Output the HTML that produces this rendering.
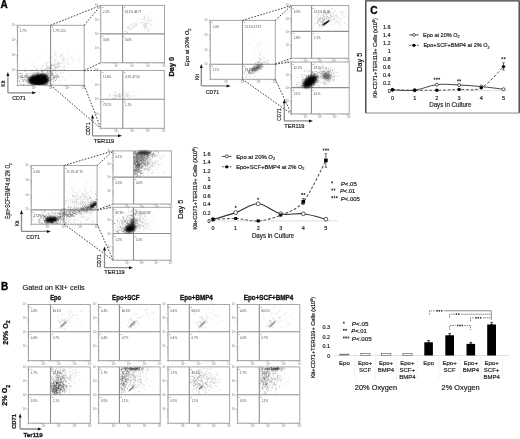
<!DOCTYPE html><html><head><meta charset="utf-8"><style>html,body{margin:0;padding:0;background:#fff;width:520px;height:439px;overflow:hidden}svg{display:block;filter:blur(0.5px)}</style></head><body><svg width="520" height="439" viewBox="0 0 520 439" font-family="'Liberation Sans', sans-serif">
<rect width="520" height="439" fill="#fff"/>
<text x="0.60" y="8.30" font-size="10" text-anchor="start" font-weight="bold" stroke-width="0.3" fill="#000" stroke="#000">A</text>
<rect x="17.6" y="25.3" width="66.60" height="60.00" fill="none" stroke="#a6a6a6" stroke-width="1"/>
<line x1="50.60" y1="25.30" x2="50.60" y2="85.30" stroke="#8e8e8e" stroke-width="1.1"/>
<line x1="17.60" y1="70.50" x2="84.20" y2="70.50" stroke="#8e8e8e" stroke-width="1.1"/>
<path d="M16.70 80.78H17.6M22.61 85.3V86.20M16.70 78.14H17.6M25.54 85.3V86.20M16.70 76.27H17.6M27.62 85.3V86.20M16.70 74.82H17.6M29.24 85.3V86.20M16.70 73.63H17.6M30.56 85.3V86.20M16.70 72.62H17.6M31.67 85.3V86.20M16.70 71.75H17.6M32.64 85.3V86.20M16.70 70.99H17.6M33.49 85.3V86.20M16.70 65.78H17.6M39.26 85.3V86.20M16.70 63.14H17.6M42.19 85.3V86.20M16.70 61.27H17.6M44.27 85.3V86.20M16.70 59.82H17.6M45.89 85.3V86.20M16.70 58.63H17.6M47.21 85.3V86.20M16.70 57.62H17.6M48.32 85.3V86.20M16.70 56.75H17.6M49.29 85.3V86.20M16.70 55.99H17.6M50.14 85.3V86.20M16.70 50.78H17.6M55.91 85.3V86.20M16.70 48.14H17.6M58.84 85.3V86.20M16.70 46.27H17.6M60.92 85.3V86.20M16.70 44.82H17.6M62.54 85.3V86.20M16.70 43.63H17.6M63.86 85.3V86.20M16.70 42.62H17.6M64.97 85.3V86.20M16.70 41.75H17.6M65.94 85.3V86.20M16.70 40.99H17.6M66.79 85.3V86.20M16.70 35.78H17.6M72.56 85.3V86.20M16.70 33.14H17.6M75.49 85.3V86.20M16.70 31.27H17.6M77.57 85.3V86.20M16.70 29.82H17.6M79.19 85.3V86.20M16.70 28.63H17.6M80.51 85.3V86.20M16.70 27.62H17.6M81.62 85.3V86.20M16.70 26.75H17.6M82.59 85.3V86.20M16.70 25.99H17.6M83.44 85.3V86.20M16.10 85.30H17.6M17.60 85.3V86.80M16.10 70.30H17.6M34.25 85.3V86.80M16.10 55.30H17.6M50.90 85.3V86.80M16.10 40.30H17.6M67.55 85.3V86.80M16.10 25.30H17.6M84.20 85.3V86.80" stroke="#999" stroke-width="0.5" fill="none"/>
<text x="15.70" y="71.20" font-size="2.7" text-anchor="end" stroke-width="0" fill="#777" stroke="#777">10<tspan font-size="1.9" dy="-1">1</tspan></text>
<text x="33.95" y="89.40" font-size="2.7" text-anchor="middle" stroke-width="0" fill="#777" stroke="#777">10<tspan font-size="1.9" dy="-1">1</tspan></text>
<text x="15.70" y="56.20" font-size="2.7" text-anchor="end" stroke-width="0" fill="#777" stroke="#777">10<tspan font-size="1.9" dy="-1">2</tspan></text>
<text x="50.60" y="89.40" font-size="2.7" text-anchor="middle" stroke-width="0" fill="#777" stroke="#777">10<tspan font-size="1.9" dy="-1">2</tspan></text>
<text x="15.70" y="41.20" font-size="2.7" text-anchor="end" stroke-width="0" fill="#777" stroke="#777">10<tspan font-size="1.9" dy="-1">3</tspan></text>
<text x="67.25" y="89.40" font-size="2.7" text-anchor="middle" stroke-width="0" fill="#777" stroke="#777">10<tspan font-size="1.9" dy="-1">3</tspan></text>
<text x="15.70" y="26.20" font-size="2.7" text-anchor="end" stroke-width="0" fill="#777" stroke="#777">10<tspan font-size="1.9" dy="-1">4</tspan></text>
<text x="83.90" y="89.40" font-size="2.7" text-anchor="middle" stroke-width="0" fill="#777" stroke="#777">10<tspan font-size="1.9" dy="-1">4</tspan></text>
<text x="18.50" y="28.30" font-size="2.4" text-anchor="start" stroke-width="0" fill="#666" stroke="#666">Q</text>
<text x="19.90" y="32.40" font-size="2.9" text-anchor="start" stroke-width="0" fill="#444" stroke="#444">1.7%</text>
<text x="51.50" y="28.30" font-size="2.4" text-anchor="start" stroke-width="0" fill="#666" stroke="#666">Q</text>
<text x="52.90" y="32.40" font-size="2.9" text-anchor="start" stroke-width="0" fill="#444" stroke="#444">1.7% 12.5</text>
<text x="18.50" y="73.50" font-size="2.4" text-anchor="start" stroke-width="0" fill="#666" stroke="#666">Q</text>
<text x="19.90" y="77.60" font-size="2.9" text-anchor="start" stroke-width="0" fill="#444" stroke="#444">81.3%</text>
<text x="51.50" y="73.50" font-size="2.4" text-anchor="start" stroke-width="0" fill="#666" stroke="#666">Q</text>
<text x="52.90" y="77.60" font-size="2.9" text-anchor="start" stroke-width="0" fill="#444" stroke="#444">1.5%</text>
<line x1="50.60" y1="25.30" x2="100.80" y2="5.40" stroke="#404040" stroke-width="1.0" stroke-dasharray="1.6 1.5"/>
<line x1="84.20" y1="25.30" x2="100.80" y2="5.40" stroke="#404040" stroke-width="1.0" stroke-dasharray="1.6 1.5"/>
<line x1="84.20" y1="70.50" x2="100.80" y2="62.70" stroke="#404040" stroke-width="1.0" stroke-dasharray="1.6 1.5"/>
<line x1="84.20" y1="70.50" x2="100.80" y2="70.40" stroke="#404040" stroke-width="1.0" stroke-dasharray="1.6 1.5"/>
<line x1="50.60" y1="85.30" x2="100.80" y2="128.30" stroke="#404040" stroke-width="1.0" stroke-dasharray="1.6 1.5"/>
<line x1="84.20" y1="85.30" x2="100.80" y2="128.30" stroke="#404040" stroke-width="1.0" stroke-dasharray="1.6 1.5"/>
<path d="M35.8 81.1h0M35.6 77.4h0M28.7 78.8h0M49.3 78.8h0M48.4 78.2h0M42.0 78.8h0M22.0 84.6h0M43.3 80.0h0M20.2 73.1h0M28.9 77.7h0M41.0 77.9h0M42.8 74.9h0M41.3 79.8h0M44.3 83.1h0M31.4 76.1h0M34.5 78.5h0M44.4 78.7h0M33.0 74.9h0M33.6 84.7h0M30.2 80.7h0M41.3 71.3h0M39.3 84.3h0M36.4 75.0h0M42.9 77.5h0M24.0 84.2h0M45.2 81.8h0M52.5 78.1h0M38.4 72.5h0M43.7 74.9h0M32.7 73.5h0M28.1 77.5h0M49.5 67.7h0M23.7 81.6h0M52.7 79.1h0M41.1 74.7h0M27.5 84.4h0M49.0 77.7h0M40.7 80.1h0M54.2 79.0h0M43.5 80.2h0M47.8 79.5h0M18.1 78.4h0M45.2 69.3h0M36.8 83.3h0M43.4 77.1h0M41.6 80.9h0M39.9 83.4h0M31.2 77.6h0M48.3 77.2h0M29.9 83.9h0M52.2 74.5h0M24.2 79.8h0M36.3 77.4h0M51.3 72.0h0M49.7 71.1h0M30.6 82.4h0M49.7 80.8h0M41.5 78.7h0M39.9 80.9h0M36.4 80.0h0M43.7 77.7h0M45.9 80.0h0M58.1 77.1h0M33.5 77.4h0M38.4 82.6h0M34.9 80.7h0M54.6 64.5h0M27.0 81.2h0M42.1 79.0h0M34.1 82.0h0M40.5 75.8h0M62.3 76.7h0M32.4 78.8h0M35.7 78.5h0M47.3 71.9h0M37.9 82.8h0M47.4 84.0h0M20.9 79.3h0M35.0 81.8h0M47.1 65.0h0M47.9 70.5h0M43.8 70.9h0M40.5 83.6h0M36.6 79.6h0M46.0 78.0h0M48.2 75.7h0M64.5 69.6h0M46.9 76.0h0M39.8 81.5h0M40.6 81.0h0M21.9 73.9h0M43.5 73.4h0M26.9 73.4h0M51.0 80.1h0M52.0 72.3h0M37.3 73.4h0M46.6 84.5h0M47.7 76.3h0M36.7 75.9h0M42.2 79.8h0M52.2 71.9h0M50.2 83.5h0M52.3 75.7h0M31.3 84.1h0M39.2 78.9h0M51.9 75.3h0M20.2 84.7h0M40.8 75.3h0M38.4 82.2h0M39.6 84.3h0M38.0 83.2h0M53.8 83.6h0M31.9 83.4h0M18.7 76.3h0M25.8 80.2h0M36.1 78.6h0M32.3 80.4h0M55.8 76.2h0M43.9 82.2h0M35.3 73.2h0M33.2 84.1h0M21.3 78.1h0M48.5 80.6h0M38.6 82.1h0M38.9 73.0h0M22.1 77.8h0M46.8 74.7h0M28.6 76.3h0M22.8 80.1h0M26.5 81.8h0M30.4 70.7h0M45.0 76.3h0M40.6 76.1h0M46.2 80.7h0M44.8 79.0h0M51.6 79.6h0M41.2 68.6h0M47.7 83.1h0M34.8 76.8h0M56.1 68.0h0M29.2 82.9h0M56.6 75.3h0M44.1 81.7h0M29.0 79.4h0M41.4 81.8h0M37.5 77.7h0M27.7 78.3h0M46.9 77.7h0M29.0 75.9h0M65.1 79.9h0M42.7 66.1h0M44.5 79.8h0M54.9 78.1h0M37.7 80.9h0M40.8 74.9h0M52.3 84.7h0M23.7 77.5h0M41.0 78.9h0M33.4 74.7h0M59.6 80.2h0M25.3 74.2h0M55.5 80.5h0M56.5 79.6h0M29.5 80.9h0M37.7 80.9h0M30.7 79.0h0M42.8 79.5h0M44.4 78.5h0M35.3 82.5h0M38.0 74.8h0M31.8 79.4h0M37.0 79.4h0M38.1 79.3h0M35.9 73.1h0M42.8 82.6h0M42.2 77.1h0M41.8 73.6h0M19.3 81.4h0M29.2 83.1h0M25.6 68.3h0M33.4 72.9h0M30.8 81.9h0M43.0 78.6h0M53.1 79.6h0M38.2 81.2h0M55.0 80.5h0M47.5 72.2h0M37.0 82.0h0M35.7 83.7h0M44.5 81.7h0M50.1 75.8h0M35.1 82.9h0M47.7 77.2h0M26.6 81.0h0M42.3 83.0h0M45.8 77.5h0M46.8 79.7h0M40.1 78.5h0M36.0 81.9h0M27.2 77.2h0M37.1 72.0h0M32.4 70.2h0M31.6 82.0h0M43.6 77.5h0M34.8 72.5h0M56.4 78.3h0M48.3 73.0h0M35.0 70.6h0M46.3 81.6h0M19.2 80.9h0M43.1 69.8h0M19.3 76.3h0M30.9 73.1h0M38.5 79.6h0M44.7 80.7h0M53.6 81.6h0M24.7 78.1h0M26.8 75.2h0M37.2 78.6h0M41.9 70.7h0M25.7 80.1h0M35.8 77.4h0M36.9 75.2h0M45.2 79.1h0M36.7 75.6h0M34.6 66.6h0M28.3 80.0h0M23.2 81.5h0M38.6 72.2h0M35.3 77.5h0M42.9 80.6h0M37.1 74.8h0M36.5 78.4h0M45.5 78.8h0M30.0 73.5h0M33.8 75.7h0M26.9 79.5h0M33.2 79.7h0M42.9 75.9h0M60.8 73.8h0M49.0 77.5h0M47.6 66.4h0M30.7 80.6h0M42.0 83.8h0M46.2 81.7h0M43.0 77.1h0M42.4 73.0h0M49.1 72.3h0M35.8 78.9h0M49.5 77.0h0M30.2 80.8h0M44.2 80.9h0M54.5 76.3h0M40.4 76.2h0M51.6 73.4h0M44.4 75.4h0M31.6 82.7h0M51.2 76.6h0M31.8 83.1h0M37.7 80.0h0M53.8 81.4h0M38.5 82.0h0M31.6 79.2h0M50.8 71.2h0M22.1 73.4h0M49.4 74.8h0M37.2 77.2h0M36.1 73.8h0M37.3 72.1h0M37.5 80.0h0M42.5 76.8h0M29.2 80.5h0M45.5 76.9h0M32.9 76.0h0M28.5 78.2h0M41.2 80.4h0M31.0 79.5h0M64.5 66.3h0M32.9 80.0h0M39.8 80.1h0M35.9 80.5h0M39.0 81.9h0M18.7 77.2h0M37.3 73.9h0M28.0 82.8h0M32.0 82.2h0M45.6 78.8h0M43.0 77.3h0M24.0 80.3h0M42.2 75.5h0M37.5 82.0h0M29.7 82.6h0M56.1 73.4h0M39.4 77.6h0M53.5 77.8h0M46.5 74.2h0M37.8 78.5h0M45.8 69.5h0M45.3 76.9h0M42.7 79.5h0M23.0 79.6h0M52.4 73.9h0M27.0 73.9h0M26.1 81.7h0M55.0 78.1h0M32.4 76.2h0M43.6 80.2h0M27.2 74.7h0M41.0 79.2h0M24.9 79.4h0M32.9 81.3h0M36.8 78.3h0M35.2 83.7h0M51.5 74.9h0M45.9 73.9h0M39.2 81.7h0M52.8 74.7h0M37.4 79.5h0M23.2 80.7h0M31.5 81.1h0M25.6 71.3h0M38.5 79.6h0M33.1 83.2h0M34.9 76.2h0M41.7 70.8h0M31.3 79.4h0M46.3 76.6h0M40.6 75.1h0M31.6 79.5h0M40.4 82.8h0M24.4 70.9h0M44.5 81.2h0M40.2 79.3h0M47.4 78.9h0M53.7 70.7h0M32.1 63.7h0M45.8 75.7h0M37.8 77.4h0M32.5 75.5h0M32.2 82.2h0M38.4 78.7h0M36.9 82.8h0M42.8 77.2h0M44.5 76.9h0M42.0 73.6h0M48.9 78.5h0M41.9 82.0h0M39.9 77.6h0M23.3 85.0h0M38.1 77.2h0M41.5 78.4h0M44.5 75.9h0M36.3 69.0h0M34.2 82.1h0M51.0 75.0h0M35.2 82.2h0M54.6 76.3h0M49.7 73.6h0M40.0 77.9h0M39.8 83.4h0M61.2 72.2h0M32.6 81.5h0M27.9 82.2h0M43.5 76.5h0M42.3 70.9h0M44.6 70.6h0M30.8 77.0h0M34.6 82.9h0M38.6 76.6h0M44.4 84.8h0M38.3 80.1h0M50.4 78.0h0M58.6 66.6h0M37.9 80.4h0M48.0 80.1h0M34.6 74.2h0M39.7 83.0h0M26.6 75.4h0M36.5 69.9h0M35.1 76.9h0M42.0 74.7h0M29.0 78.0h0M37.1 75.6h0M38.6 81.8h0M50.8 84.4h0M30.0 77.7h0M30.8 79.4h0M42.3 71.7h0M42.6 77.7h0M20.1 82.3h0M48.7 68.5h0M46.1 78.3h0M43.0 79.8h0M50.8 75.7h0M46.4 75.5h0M44.7 73.9h0M42.3 77.2h0M26.2 76.6h0M40.5 82.4h0M42.5 80.2h0" stroke="#000" stroke-opacity="0.35" stroke-width="0.8" stroke-linecap="round" fill="none"/>
<g clip-path="url(#c0)"><ellipse cx="38.6" cy="80.2" rx="10.6" ry="5.8" transform="rotate(0 38.6 80.2)" fill="#000" fill-opacity="1" filter="url(#f1_0)"/></g>
<ellipse cx="42" cy="76.5" rx="6" ry="2.6" transform="rotate(-5 42 76.5)" fill="#000" fill-opacity="0.9" filter="url(#f0_9)"/>
<path d="M55.3 72.3h0M48.8 67.8h0M56.2 64.8h0M49.2 67.3h0M52.4 70.9h0M50.5 62.9h0M54.4 66.9h0M49.4 74.2h0M49.8 68.1h0M59.1 69.0h0M50.0 72.0h0M53.9 78.5h0M52.8 73.6h0M51.1 73.0h0M55.7 51.7h0M51.3 71.2h0M49.9 66.3h0M62.1 59.9h0M46.6 77.0h0M47.0 78.2h0M49.7 70.7h0M58.1 63.5h0M41.2 68.2h0M59.3 65.7h0M50.5 73.8h0M55.9 68.1h0M40.8 75.8h0M58.0 66.8h0M49.7 57.1h0M54.0 68.9h0M61.3 55.2h0M50.6 69.4h0M54.9 63.2h0M55.2 61.2h0M51.9 65.4h0M51.0 65.3h0M47.5 77.5h0M52.0 65.1h0M55.5 70.3h0M47.2 71.4h0M55.8 67.5h0M45.0 62.8h0M58.6 64.2h0M51.3 67.1h0M52.1 65.7h0M45.4 69.7h0M47.7 68.4h0M48.3 74.4h0M47.7 75.1h0M48.2 73.0h0M58.8 63.3h0M48.8 71.0h0M48.2 62.1h0M49.6 70.8h0M50.0 70.1h0M57.3 67.5h0M57.7 66.3h0M50.6 69.1h0M49.9 68.1h0M46.7 63.4h0M50.4 69.2h0M47.5 71.7h0M53.9 65.5h0M54.8 52.0h0M46.4 63.2h0M63.3 72.4h0M40.8 78.0h0M53.6 65.1h0M48.8 59.0h0M56.9 65.9h0M50.6 66.1h0M53.7 64.1h0M51.7 65.6h0M41.6 76.6h0M54.9 69.5h0M47.9 71.3h0M55.2 66.1h0M62.8 69.3h0M42.9 65.6h0M59.9 69.4h0M58.3 66.9h0M47.3 68.2h0M53.7 61.8h0M41.1 71.9h0M68.4 64.3h0M47.0 68.4h0M51.1 64.8h0M57.8 62.7h0M50.4 76.2h0M49.9 70.9h0M51.1 67.1h0M51.7 64.6h0M37.8 68.3h0M44.2 70.6h0M52.0 68.3h0M54.9 66.2h0M46.5 68.9h0M41.8 75.7h0M55.6 67.8h0M51.0 67.9h0M56.3 64.4h0M56.9 66.9h0M56.3 71.2h0M48.4 69.1h0M46.2 68.7h0M63.7 67.4h0M53.6 69.7h0M59.5 65.9h0M54.3 59.5h0M50.2 71.9h0M58.9 62.8h0M47.1 70.2h0M46.8 67.9h0M57.3 60.3h0M57.7 74.5h0M58.3 64.5h0M50.2 71.6h0M61.1 63.7h0M58.1 63.4h0M53.9 65.4h0" stroke="#666" stroke-opacity="0.45" stroke-width="0.6" stroke-linecap="round" fill="none"/>
<path d="M67.1 64.0h0M49.5 63.1h0M63.5 57.2h0M60.1 63.8h0M80.1 57.8h0M63.2 53.2h0M78.8 55.8h0M60.5 55.8h0M60.4 55.9h0M63.1 61.6h0M62.6 61.0h0M56.1 67.5h0M54.4 54.5h0M59.6 57.5h0M52.9 61.0h0M63.3 54.8h0M62.3 65.8h0M67.8 57.8h0M63.0 59.2h0M62.3 62.9h0M58.7 50.9h0M60.9 56.6h0M67.0 56.1h0M65.5 68.1h0M51.7 58.1h0M47.2 54.0h0M46.0 65.8h0M54.5 54.3h0M49.7 65.8h0M54.9 60.4h0M66.3 64.5h0M79.9 59.5h0M63.4 60.4h0M79.1 61.3h0M59.8 62.5h0M64.5 59.5h0M56.3 56.0h0M55.8 55.3h0M73.2 59.2h0M53.0 68.2h0M67.8 50.5h0M78.8 58.8h0M78.7 50.4h0M67.1 60.4h0M63.9 60.2h0M69.6 51.8h0M49.8 57.5h0M56.5 59.0h0M65.5 60.2h0M61.6 57.3h0M59.1 64.7h0M68.7 58.6h0M60.8 66.8h0M57.5 63.9h0M71.8 56.3h0M68.0 53.8h0M71.0 58.4h0M48.9 66.3h0M55.6 67.0h0M55.9 60.9h0M64.1 58.1h0M63.7 57.3h0M67.8 58.5h0M61.0 48.9h0M72.1 57.4h0M46.6 64.5h0M67.2 63.0h0M54.2 68.5h0M63.1 69.6h0M61.4 63.0h0M57.7 56.5h0M72.5 60.9h0M76.3 59.7h0M55.3 54.9h0M55.6 58.9h0M55.5 64.1h0M64.6 58.2h0M63.3 59.0h0M64.6 62.4h0M69.6 55.1h0M50.4 69.0h0M64.1 64.0h0M47.4 62.6h0M60.7 54.4h0M58.3 64.0h0M73.0 63.6h0M53.0 56.6h0M67.5 62.4h0M62.3 54.5h0M69.6 61.2h0" stroke="#999" stroke-opacity="0.45" stroke-width="0.6" stroke-linecap="round" fill="none"/>
<path d="M7.9 92.8V75M7.9 92.8H33.2" stroke="#8a8a8a" stroke-width="1.3" fill="none"/>
<path d="M6.4 76L7.9 72L9.4 76Z" fill="#111"/>
<path d="M32.2 91.3L36.2 92.8L32.2 94.3Z" fill="#111"/>
<text x="4.70" y="83.70" font-size="5.3" text-anchor="middle" stroke-width="0.18" fill="#222" stroke="#222" transform="rotate(-90 4.70 83.70)" textLength="6.3" lengthAdjust="spacingAndGlyphs">Kit</text>
<text x="19.00" y="100.20" font-size="5.8" text-anchor="middle" stroke-width="0.18" fill="#222" stroke="#222" textLength="13.6" lengthAdjust="spacingAndGlyphs">CD71</text>
<rect x="100.8" y="5.4" width="63.70" height="57.30" fill="none" stroke="#a6a6a6" stroke-width="1"/>
<line x1="122.60" y1="5.40" x2="122.60" y2="62.70" stroke="#8e8e8e" stroke-width="1.1"/>
<line x1="100.80" y1="33.90" x2="164.50" y2="33.90" stroke="#8e8e8e" stroke-width="1.1"/>
<path d="M99.90 58.39H100.8M105.59 62.7V63.60M99.90 55.87H100.8M108.40 62.7V63.60M99.90 54.08H100.8M110.39 62.7V63.60M99.90 52.69H100.8M111.93 62.7V63.60M99.90 51.55H100.8M113.19 62.7V63.60M99.90 50.59H100.8M114.26 62.7V63.60M99.90 49.76H100.8M115.18 62.7V63.60M99.90 49.03H100.8M116.00 62.7V63.60M99.90 44.06H100.8M121.52 62.7V63.60M99.90 41.54H100.8M124.32 62.7V63.60M99.90 39.75H100.8M126.31 62.7V63.60M99.90 38.36H100.8M127.86 62.7V63.60M99.90 37.23H100.8M129.12 62.7V63.60M99.90 36.27H100.8M130.18 62.7V63.60M99.90 35.44H100.8M131.11 62.7V63.60M99.90 34.71H100.8M131.92 62.7V63.60M99.90 29.74H100.8M137.44 62.7V63.60M99.90 27.22H100.8M140.25 62.7V63.60M99.90 25.43H100.8M142.24 62.7V63.60M99.90 24.04H100.8M143.78 62.7V63.60M99.90 22.90H100.8M145.04 62.7V63.60M99.90 21.94H100.8M146.11 62.7V63.60M99.90 21.11H100.8M147.03 62.7V63.60M99.90 20.38H100.8M147.85 62.7V63.60M99.90 15.41H100.8M153.37 62.7V63.60M99.90 12.89H100.8M156.17 62.7V63.60M99.90 11.10H100.8M158.16 62.7V63.60M99.90 9.71H100.8M159.71 62.7V63.60M99.90 8.58H100.8M160.97 62.7V63.60M99.90 7.62H100.8M162.03 62.7V63.60M99.90 6.79H100.8M162.96 62.7V63.60M99.90 6.06H100.8M163.77 62.7V63.60M99.30 62.70H100.8M100.80 62.7V64.20M99.30 48.38H100.8M116.72 62.7V64.20M99.30 34.05H100.8M132.65 62.7V64.20M99.30 19.73H100.8M148.57 62.7V64.20M99.30 5.40H100.8M164.50 62.7V64.20" stroke="#999" stroke-width="0.5" fill="none"/>
<text x="98.90" y="49.27" font-size="2.7" text-anchor="end" stroke-width="0" fill="#777" stroke="#777">10<tspan font-size="1.9" dy="-1">1</tspan></text>
<text x="116.42" y="66.80" font-size="2.7" text-anchor="middle" stroke-width="0" fill="#777" stroke="#777">10<tspan font-size="1.9" dy="-1">1</tspan></text>
<text x="98.90" y="34.95" font-size="2.7" text-anchor="end" stroke-width="0" fill="#777" stroke="#777">10<tspan font-size="1.9" dy="-1">2</tspan></text>
<text x="132.35" y="66.80" font-size="2.7" text-anchor="middle" stroke-width="0" fill="#777" stroke="#777">10<tspan font-size="1.9" dy="-1">2</tspan></text>
<text x="98.90" y="20.62" font-size="2.7" text-anchor="end" stroke-width="0" fill="#777" stroke="#777">10<tspan font-size="1.9" dy="-1">3</tspan></text>
<text x="148.27" y="66.80" font-size="2.7" text-anchor="middle" stroke-width="0" fill="#777" stroke="#777">10<tspan font-size="1.9" dy="-1">3</tspan></text>
<text x="98.90" y="6.30" font-size="2.7" text-anchor="end" stroke-width="0" fill="#777" stroke="#777">10<tspan font-size="1.9" dy="-1">4</tspan></text>
<text x="164.20" y="66.80" font-size="2.7" text-anchor="middle" stroke-width="0" fill="#777" stroke="#777">10<tspan font-size="1.9" dy="-1">4</tspan></text>
<text x="101.70" y="8.40" font-size="2.4" text-anchor="start" stroke-width="0" fill="#666" stroke="#666">Q</text>
<text x="103.10" y="12.50" font-size="2.9" text-anchor="start" stroke-width="0" fill="#444" stroke="#444">2.1%</text>
<text x="123.50" y="8.40" font-size="2.4" text-anchor="start" stroke-width="0" fill="#666" stroke="#666">Q</text>
<text x="124.90" y="12.50" font-size="2.9" text-anchor="start" stroke-width="0" fill="#444" stroke="#444">61.1% 48.77</text>
<text x="101.70" y="36.90" font-size="2.4" text-anchor="start" stroke-width="0" fill="#666" stroke="#666">Q</text>
<text x="103.10" y="41.00" font-size="2.9" text-anchor="start" stroke-width="0" fill="#444" stroke="#444">3.0%</text>
<text x="123.50" y="36.90" font-size="2.4" text-anchor="start" stroke-width="0" fill="#666" stroke="#666">Q</text>
<text x="124.90" y="41.00" font-size="2.9" text-anchor="start" stroke-width="0" fill="#444" stroke="#444">3.0%</text>
<path d="M133.1 24.7h0M133.4 26.9h0M127.6 26.7h0M133.2 26.5h0M132.4 28.0h0M129.2 28.8h0M130.9 28.6h0M137.4 21.6h0M140.8 22.2h0M135.1 25.1h0M138.1 21.1h0M130.0 26.1h0M134.6 27.0h0M133.9 25.8h0M130.9 27.8h0M127.1 32.8h0M128.9 27.0h0M127.8 28.5h0M135.8 25.5h0M127.2 32.4h0M134.3 23.5h0M125.1 30.9h0M129.4 29.4h0M128.2 25.8h0M130.9 24.5h0M133.8 22.7h0M128.0 28.2h0M130.7 30.2h0M135.3 25.0h0M131.2 24.2h0M129.0 28.0h0M128.2 30.7h0M128.0 28.6h0M125.5 28.0h0M135.1 26.6h0M131.2 25.3h0M136.4 23.4h0M136.5 25.7h0M135.4 22.9h0M136.3 24.5h0M125.2 31.5h0M125.9 31.5h0M132.7 23.9h0M134.4 27.5h0M127.5 32.5h0M141.4 22.6h0M131.0 28.0h0M131.9 28.6h0M135.6 23.8h0M127.0 32.2h0" stroke="#999" stroke-opacity="0.5" stroke-width="0.6" stroke-linecap="round" fill="none"/>
<path d="M145.8 26.5h0M147.7 30.5h0M149.8 22.2h0M147.9 31.1h0M145.7 25.7h0M150.0 29.0h0M148.3 18.7h0M143.8 25.0h0M144.8 28.6h0M148.9 17.3h0M145.0 24.7h0M145.8 23.4h0M148.2 20.8h0M148.2 21.5h0M145.6 26.1h0M145.6 25.1h0M151.0 24.1h0M146.6 26.9h0M146.1 28.3h0M143.8 26.5h0M145.7 20.8h0M151.4 20.6h0M151.4 26.6h0M150.6 20.1h0M150.0 29.8h0M146.7 23.5h0M153.1 24.7h0M145.9 21.5h0M148.1 25.3h0M147.4 30.9h0M146.2 25.9h0M150.6 20.0h0M149.6 31.3h0M143.6 19.6h0M144.4 16.6h0M148.1 16.6h0M148.2 29.8h0M143.0 22.7h0M142.2 27.1h0M145.2 22.9h0M147.1 26.2h0M146.1 24.1h0M145.6 24.5h0M144.1 24.3h0M142.2 22.0h0M151.8 24.3h0M143.9 25.0h0M144.6 17.4h0M145.2 26.9h0M148.0 23.6h0M144.7 19.7h0M150.4 25.0h0M144.6 15.6h0M143.6 33.9h0M144.1 23.7h0M147.5 23.4h0M146.3 18.5h0M144.4 30.8h0M145.1 27.4h0M142.8 22.9h0M147.7 28.1h0M144.2 26.4h0M148.0 21.0h0M148.2 20.4h0M145.0 23.9h0M140.2 23.6h0M144.5 18.1h0M145.9 27.1h0M146.0 29.1h0M144.1 18.8h0" stroke="#999" stroke-opacity="0.5" stroke-width="0.6" stroke-linecap="round" fill="none"/>
<path d="M152.4 20.4h0M147.6 13.0h0M146.4 19.6h0M145.2 18.2h0M149.7 14.1h0M132.3 9.1h0M149.3 13.6h0M131.7 12.4h0M136.4 10.4h0M137.7 14.2h0M135.6 12.2h0M140.3 15.2h0M140.9 19.5h0M135.7 13.2h0M146.2 8.5h0M134.3 16.2h0M137.3 23.9h0M136.5 23.8h0M128.3 7.1h0M149.8 20.6h0M143.9 18.7h0M143.9 10.7h0M147.6 14.8h0M147.9 18.5h0M124.2 10.3h0M149.0 17.2h0M136.8 19.5h0M136.6 14.7h0M140.8 18.9h0M152.1 18.3h0" stroke="#bbb" stroke-opacity="0.5" stroke-width="0.6" stroke-linecap="round" fill="none"/>
<rect x="100.8" y="70.4" width="63.50" height="57.90" fill="none" stroke="#a6a6a6" stroke-width="1"/>
<line x1="122.80" y1="70.40" x2="122.80" y2="128.30" stroke="#8e8e8e" stroke-width="1.1"/>
<line x1="100.80" y1="99.20" x2="164.30" y2="99.20" stroke="#8e8e8e" stroke-width="1.1"/>
<path d="M99.90 123.94H100.8M105.58 128.3V129.20M99.90 121.39H100.8M108.37 128.3V129.20M99.90 119.59H100.8M110.36 128.3V129.20M99.90 118.18H100.8M111.90 128.3V129.20M99.90 117.04H100.8M113.15 128.3V129.20M99.90 116.07H100.8M114.22 128.3V129.20M99.90 115.23H100.8M115.14 128.3V129.20M99.90 114.49H100.8M115.95 128.3V129.20M99.90 109.47H100.8M121.45 128.3V129.20M99.90 106.92H100.8M124.25 128.3V129.20M99.90 105.11H100.8M126.23 128.3V129.20M99.90 103.71H100.8M127.77 128.3V129.20M99.90 102.56H100.8M129.03 128.3V129.20M99.90 101.59H100.8M130.09 128.3V129.20M99.90 100.75H100.8M131.01 128.3V129.20M99.90 100.01H100.8M131.82 128.3V129.20M99.90 94.99H100.8M137.33 128.3V129.20M99.90 92.44H100.8M140.12 128.3V129.20M99.90 90.64H100.8M142.11 128.3V129.20M99.90 89.23H100.8M143.65 128.3V129.20M99.90 88.09H100.8M144.90 128.3V129.20M99.90 87.12H100.8M145.97 128.3V129.20M99.90 86.28H100.8M146.89 128.3V129.20M99.90 85.54H100.8M147.70 128.3V129.20M99.90 80.52H100.8M153.20 128.3V129.20M99.90 77.97H100.8M156.00 128.3V129.20M99.90 76.16H100.8M157.98 128.3V129.20M99.90 74.76H100.8M159.52 128.3V129.20M99.90 73.61H100.8M160.78 128.3V129.20M99.90 72.64H100.8M161.84 128.3V129.20M99.90 71.80H100.8M162.76 128.3V129.20M99.90 71.06H100.8M163.57 128.3V129.20M99.30 128.30H100.8M100.80 128.3V129.80M99.30 113.83H100.8M116.67 128.3V129.80M99.30 99.35H100.8M132.55 128.3V129.80M99.30 84.88H100.8M148.43 128.3V129.80M99.30 70.40H100.8M164.30 128.3V129.80" stroke="#999" stroke-width="0.5" fill="none"/>
<text x="98.90" y="114.73" font-size="2.7" text-anchor="end" stroke-width="0" fill="#777" stroke="#777">10<tspan font-size="1.9" dy="-1">1</tspan></text>
<text x="116.38" y="132.40" font-size="2.7" text-anchor="middle" stroke-width="0" fill="#777" stroke="#777">10<tspan font-size="1.9" dy="-1">1</tspan></text>
<text x="98.90" y="100.25" font-size="2.7" text-anchor="end" stroke-width="0" fill="#777" stroke="#777">10<tspan font-size="1.9" dy="-1">2</tspan></text>
<text x="132.25" y="132.40" font-size="2.7" text-anchor="middle" stroke-width="0" fill="#777" stroke="#777">10<tspan font-size="1.9" dy="-1">2</tspan></text>
<text x="98.90" y="85.78" font-size="2.7" text-anchor="end" stroke-width="0" fill="#777" stroke="#777">10<tspan font-size="1.9" dy="-1">3</tspan></text>
<text x="148.12" y="132.40" font-size="2.7" text-anchor="middle" stroke-width="0" fill="#777" stroke="#777">10<tspan font-size="1.9" dy="-1">3</tspan></text>
<text x="98.90" y="71.30" font-size="2.7" text-anchor="end" stroke-width="0" fill="#777" stroke="#777">10<tspan font-size="1.9" dy="-1">4</tspan></text>
<text x="164.00" y="132.40" font-size="2.7" text-anchor="middle" stroke-width="0" fill="#777" stroke="#777">10<tspan font-size="1.9" dy="-1">4</tspan></text>
<text x="101.70" y="73.40" font-size="2.4" text-anchor="start" stroke-width="0" fill="#666" stroke="#666">Q</text>
<text x="103.10" y="77.50" font-size="2.9" text-anchor="start" stroke-width="0" fill="#444" stroke="#444">11.6%</text>
<text x="123.70" y="73.40" font-size="2.4" text-anchor="start" stroke-width="0" fill="#666" stroke="#666">Q</text>
<text x="125.10" y="77.50" font-size="2.9" text-anchor="start" stroke-width="0" fill="#444" stroke="#444">4.1% 47.50</text>
<text x="101.70" y="102.20" font-size="2.4" text-anchor="start" stroke-width="0" fill="#666" stroke="#666">Q</text>
<text x="103.10" y="106.30" font-size="2.9" text-anchor="start" stroke-width="0" fill="#444" stroke="#444">73.2%</text>
<text x="123.70" y="102.20" font-size="2.4" text-anchor="start" stroke-width="0" fill="#666" stroke="#666">Q</text>
<text x="125.10" y="106.30" font-size="2.9" text-anchor="start" stroke-width="0" fill="#444" stroke="#444">1.1%</text>
<path d="M128.9 97.9h0M127.8 96.6h0M119.7 96.2h0M118.0 94.7h0M118.5 94.8h0M127.3 95.6h0M116.1 92.6h0M118.6 95.2h0M113.3 94.7h0M108.1 99.1h0M118.8 95.7h0M126.2 95.0h0M119.7 95.1h0M124.5 98.5h0M117.3 96.4h0M115.0 98.7h0M112.3 98.3h0M124.9 97.8h0M114.8 99.0h0M115.2 95.1h0M126.9 93.4h0M115.1 96.0h0M131.7 95.8h0M115.7 92.9h0M116.1 98.9h0M128.1 93.9h0M115.4 95.6h0M114.0 99.0h0M110.2 95.0h0M120.2 94.2h0M122.8 95.3h0M113.4 98.2h0M122.5 91.5h0M128.2 95.4h0M122.1 91.7h0M115.3 95.9h0M123.8 92.2h0M113.9 92.8h0M117.9 96.9h0M110.5 96.3h0M122.1 98.7h0M122.2 94.8h0M112.9 95.2h0M115.8 96.9h0M120.0 93.6h0M126.9 96.5h0M119.2 94.5h0M109.4 95.6h0M123.2 93.6h0M112.6 97.5h0M120.4 97.0h0M122.7 98.2h0M115.2 98.7h0M114.4 98.2h0M120.0 96.3h0M123.8 95.1h0M124.8 96.8h0M119.5 94.8h0M115.1 95.6h0M118.0 96.1h0M133.9 94.7h0M122.5 93.6h0M115.4 96.0h0M119.6 93.8h0M126.7 93.5h0M123.5 90.5h0M119.1 96.6h0M120.2 97.0h0M120.4 96.1h0M109.4 96.2h0M120.4 95.3h0M114.8 95.6h0M128.7 97.8h0M119.2 98.6h0M110.5 93.6h0M116.3 94.7h0M116.3 96.9h0M133.7 92.1h0M119.3 96.5h0M119.2 97.9h0" stroke="#888" stroke-opacity="0.5" stroke-width="0.6" stroke-linecap="round" fill="none"/>
<path d="M133.6 91.3h0M127.5 94.4h0M127.9 91.7h0M119.3 91.7h0M129.1 95.0h0M126.5 90.3h0M125.3 93.8h0M121.1 94.2h0M129.9 95.6h0M127.1 96.0h0M124.6 95.6h0M127.4 96.1h0M126.7 94.8h0M126.2 93.8h0M136.0 94.5h0M132.0 91.0h0M130.0 96.2h0M134.9 96.3h0M129.6 92.1h0M123.7 96.1h0M128.6 92.6h0M125.3 94.5h0M127.4 95.6h0M125.4 92.8h0M132.4 97.3h0M126.9 97.1h0M129.0 96.0h0M128.6 93.2h0M129.6 96.6h0M135.9 97.1h0" stroke="#bbb" stroke-opacity="0.5" stroke-width="0.6" stroke-linecap="round" fill="none"/>
<path d="M92.5 135.8V117.4M92.5 135.8H119" stroke="#8a8a8a" stroke-width="1.3" fill="none"/>
<path d="M91.0 118.4L92.5 114.4L94.0 118.4Z" fill="#111"/>
<path d="M118 134.3L122 135.8L118 137.3Z" fill="#111"/>
<text x="90.00" y="129.00" font-size="5.6" text-anchor="middle" stroke-width="0.18" fill="#222" stroke="#222" transform="rotate(-90 90.00 129.00)" textLength="12.9" lengthAdjust="spacingAndGlyphs">CD71</text>
<text x="104.00" y="142.50" font-size="5.6" text-anchor="middle" stroke-width="0.18" fill="#222" stroke="#222" textLength="20.6" lengthAdjust="spacingAndGlyphs">TER119</text>
<text x="173.80" y="66.70" font-size="7.6" text-anchor="middle" font-weight="bold" stroke-width="0.3" fill="#111" stroke="#111" transform="rotate(-90 173.80 66.70)" textLength="19.6" lengthAdjust="spacingAndGlyphs">Day 0</text>
<text x="189.40" y="47.20" font-size="5.6" text-anchor="middle" stroke-width="0.18" fill="#222" stroke="#222" transform="rotate(-90 189.40 47.20)" textLength="37.4" lengthAdjust="spacingAndGlyphs">Epo at 20% O<tspan font-size="3.8" dy="1.33">2</tspan></text>
<rect x="210.3" y="20.4" width="65.00" height="58.90" fill="none" stroke="#a6a6a6" stroke-width="1"/>
<line x1="242.50" y1="20.40" x2="242.50" y2="79.30" stroke="#8e8e8e" stroke-width="1.1"/>
<line x1="210.30" y1="64.20" x2="275.30" y2="64.20" stroke="#8e8e8e" stroke-width="1.1"/>
<path d="M209.40 74.87H210.3M215.19 79.3V80.20M209.40 72.27H210.3M218.05 79.3V80.20M209.40 70.43H210.3M220.08 79.3V80.20M209.40 69.01H210.3M221.66 79.3V80.20M209.40 67.84H210.3M222.94 79.3V80.20M209.40 66.86H210.3M224.03 79.3V80.20M209.40 66.00H210.3M224.98 79.3V80.20M209.40 65.25H210.3M225.81 79.3V80.20M209.40 60.14H210.3M231.44 79.3V80.20M209.40 57.55H210.3M234.30 79.3V80.20M209.40 55.71H210.3M236.33 79.3V80.20M209.40 54.28H210.3M237.91 79.3V80.20M209.40 53.12H210.3M239.19 79.3V80.20M209.40 52.13H210.3M240.28 79.3V80.20M209.40 51.28H210.3M241.23 79.3V80.20M209.40 50.52H210.3M242.06 79.3V80.20M209.40 45.42H210.3M247.69 79.3V80.20M209.40 42.82H210.3M250.55 79.3V80.20M209.40 40.98H210.3M252.58 79.3V80.20M209.40 39.56H210.3M254.16 79.3V80.20M209.40 38.39H210.3M255.44 79.3V80.20M209.40 37.41H210.3M256.53 79.3V80.20M209.40 36.55H210.3M257.48 79.3V80.20M209.40 35.80H210.3M258.31 79.3V80.20M209.40 30.69H210.3M263.94 79.3V80.20M209.40 28.10H210.3M266.80 79.3V80.20M209.40 26.26H210.3M268.83 79.3V80.20M209.40 24.83H210.3M270.41 79.3V80.20M209.40 23.67H210.3M271.69 79.3V80.20M209.40 22.68H210.3M272.78 79.3V80.20M209.40 21.83H210.3M273.73 79.3V80.20M209.40 21.07H210.3M274.56 79.3V80.20M208.80 79.30H210.3M210.30 79.3V80.80M208.80 64.58H210.3M226.55 79.3V80.80M208.80 49.85H210.3M242.80 79.3V80.80M208.80 35.12H210.3M259.05 79.3V80.80M208.80 20.40H210.3M275.30 79.3V80.80" stroke="#999" stroke-width="0.5" fill="none"/>
<text x="208.40" y="65.48" font-size="2.7" text-anchor="end" stroke-width="0" fill="#777" stroke="#777">10<tspan font-size="1.9" dy="-1">1</tspan></text>
<text x="226.25" y="83.40" font-size="2.7" text-anchor="middle" stroke-width="0" fill="#777" stroke="#777">10<tspan font-size="1.9" dy="-1">1</tspan></text>
<text x="208.40" y="50.75" font-size="2.7" text-anchor="end" stroke-width="0" fill="#777" stroke="#777">10<tspan font-size="1.9" dy="-1">2</tspan></text>
<text x="242.50" y="83.40" font-size="2.7" text-anchor="middle" stroke-width="0" fill="#777" stroke="#777">10<tspan font-size="1.9" dy="-1">2</tspan></text>
<text x="208.40" y="36.02" font-size="2.7" text-anchor="end" stroke-width="0" fill="#777" stroke="#777">10<tspan font-size="1.9" dy="-1">3</tspan></text>
<text x="258.75" y="83.40" font-size="2.7" text-anchor="middle" stroke-width="0" fill="#777" stroke="#777">10<tspan font-size="1.9" dy="-1">3</tspan></text>
<text x="208.40" y="21.30" font-size="2.7" text-anchor="end" stroke-width="0" fill="#777" stroke="#777">10<tspan font-size="1.9" dy="-1">4</tspan></text>
<text x="275.00" y="83.40" font-size="2.7" text-anchor="middle" stroke-width="0" fill="#777" stroke="#777">10<tspan font-size="1.9" dy="-1">4</tspan></text>
<text x="211.20" y="23.40" font-size="2.4" text-anchor="start" stroke-width="0" fill="#666" stroke="#666">Q</text>
<text x="212.60" y="27.50" font-size="2.9" text-anchor="start" stroke-width="0" fill="#444" stroke="#444">1.0%</text>
<text x="243.40" y="23.40" font-size="2.4" text-anchor="start" stroke-width="0" fill="#666" stroke="#666">Q</text>
<text x="244.80" y="27.50" font-size="2.9" text-anchor="start" stroke-width="0" fill="#444" stroke="#444">12.5% 47.37</text>
<text x="211.20" y="67.20" font-size="2.4" text-anchor="start" stroke-width="0" fill="#666" stroke="#666">Q</text>
<text x="212.60" y="71.30" font-size="2.9" text-anchor="start" stroke-width="0" fill="#444" stroke="#444">1.1%</text>
<text x="243.40" y="67.20" font-size="2.4" text-anchor="start" stroke-width="0" fill="#666" stroke="#666">Q</text>
<text x="244.80" y="71.30" font-size="2.9" text-anchor="start" stroke-width="0" fill="#444" stroke="#444">79.1%</text>
<line x1="242.50" y1="20.40" x2="291.40" y2="5.50" stroke="#404040" stroke-width="1.0" stroke-dasharray="1.6 1.5"/>
<line x1="275.30" y1="20.40" x2="291.40" y2="5.50" stroke="#404040" stroke-width="1.0" stroke-dasharray="1.6 1.5"/>
<line x1="275.30" y1="64.20" x2="291.40" y2="58.20" stroke="#404040" stroke-width="1.0" stroke-dasharray="1.6 1.5"/>
<line x1="275.30" y1="64.20" x2="291.40" y2="62.00" stroke="#404040" stroke-width="1.0" stroke-dasharray="1.6 1.5"/>
<line x1="242.50" y1="79.30" x2="291.40" y2="113.90" stroke="#404040" stroke-width="1.0" stroke-dasharray="1.6 1.5"/>
<line x1="275.30" y1="79.30" x2="291.40" y2="113.90" stroke="#404040" stroke-width="1.0" stroke-dasharray="1.6 1.5"/>
<ellipse cx="256.3" cy="68.3" rx="6.2" ry="1.7" transform="rotate(-30 256.3 68.3)" fill="#555" fill-opacity="0.9" filter="url(#f0_8)"/>
<path d="M267.5 63.4h0M252.9 68.5h0M251.1 71.4h0M256.1 69.9h0M268.3 61.0h0M259.8 67.2h0M256.8 67.2h0M253.9 67.3h0M256.5 67.9h0M256.4 65.8h0M255.8 68.5h0M257.7 64.5h0M258.9 69.0h0M258.5 65.9h0M252.5 69.6h0M261.3 69.1h0M253.9 67.8h0M257.8 67.7h0M249.6 70.0h0M255.7 70.1h0M247.7 70.4h0M257.0 64.5h0M256.5 68.8h0M253.8 66.9h0M254.8 68.1h0M256.5 65.8h0M259.8 61.8h0M254.5 69.1h0M260.2 64.2h0M257.9 65.6h0M261.6 69.4h0M253.7 70.6h0M251.4 73.4h0M262.4 64.6h0M249.6 73.0h0M263.2 66.8h0M258.1 62.4h0M253.2 73.4h0M249.8 74.6h0M266.9 63.8h0M261.4 64.2h0M248.5 72.3h0M254.3 69.1h0M259.3 66.0h0M257.0 68.7h0M257.5 72.0h0M258.1 67.2h0M253.6 68.0h0M263.2 64.4h0M248.8 70.9h0M254.2 68.1h0M260.3 62.8h0M258.4 67.2h0M248.9 72.4h0M255.5 69.8h0M253.3 70.5h0M244.9 71.8h0M261.1 67.9h0M254.8 67.4h0M259.3 61.0h0M251.7 72.4h0M258.0 64.4h0M246.5 77.4h0M255.4 66.3h0M256.8 70.0h0M257.4 62.1h0M257.9 62.6h0M262.4 65.6h0M267.5 60.0h0M256.7 70.5h0M251.1 69.2h0M253.3 69.6h0M249.9 72.9h0M258.6 66.9h0M264.7 62.4h0M262.3 63.2h0M257.6 62.4h0M256.4 67.5h0M252.0 68.9h0M252.8 68.3h0M251.8 69.3h0M249.4 71.7h0M259.6 65.5h0M254.2 72.7h0M262.0 67.1h0M261.6 64.1h0M256.0 71.0h0M252.2 70.1h0M258.0 68.0h0M255.0 71.3h0M255.3 70.5h0M262.3 66.3h0M258.4 63.9h0M247.4 71.6h0M259.8 69.8h0M249.0 73.1h0M249.9 69.9h0M254.7 70.7h0M258.0 70.1h0M250.9 73.4h0M260.8 65.6h0M257.6 65.9h0M248.9 71.3h0M255.1 76.1h0M254.6 73.2h0M257.0 68.4h0M258.8 64.6h0M261.1 66.2h0M247.6 74.6h0M259.1 67.6h0M264.0 62.6h0M259.2 68.3h0M251.8 73.7h0M245.9 70.7h0M257.2 64.7h0M253.0 65.7h0M254.6 66.1h0M255.7 64.5h0M257.7 66.5h0M255.8 68.2h0M254.8 65.6h0M249.7 70.7h0M255.7 63.3h0M250.5 69.8h0M249.9 72.6h0M253.8 67.4h0M250.8 73.2h0M252.4 71.8h0M255.9 63.4h0M249.4 72.0h0M258.3 68.9h0M261.2 67.9h0M253.2 69.3h0M259.4 65.2h0M259.7 62.0h0M259.0 66.0h0M245.5 76.8h0M257.3 67.5h0M248.9 71.1h0M263.1 62.0h0M248.6 72.1h0M252.3 68.0h0M251.9 73.2h0M249.5 76.9h0M251.2 68.2h0M260.6 67.0h0M250.5 73.3h0M244.1 72.7h0M261.6 64.4h0M248.7 73.7h0M260.6 65.5h0M244.9 73.7h0M258.7 68.6h0M265.7 62.0h0M252.7 70.0h0M261.3 62.8h0M259.8 59.0h0M259.2 64.6h0M258.8 68.3h0M248.7 72.2h0" stroke="#444" stroke-opacity="0.45" stroke-width="0.7" stroke-linecap="round" fill="none"/>
<path d="M259.7 54.7h0M256.2 42.1h0M258.4 48.2h0M254.5 57.4h0M257.4 61.5h0M261.6 50.2h0M261.2 41.1h0M258.0 45.4h0M255.2 50.1h0M258.6 61.5h0M248.9 44.6h0M256.2 46.3h0M260.3 53.2h0M259.1 46.2h0M260.5 52.9h0M253.5 47.9h0M254.9 40.5h0M259.4 50.5h0M259.3 43.0h0M258.4 42.7h0M260.1 55.5h0M264.3 60.1h0M256.6 46.3h0M256.2 52.4h0M264.9 55.7h0M252.4 39.9h0M255.1 54.1h0M259.0 52.4h0M264.3 43.4h0M260.0 43.8h0M252.9 37.8h0M251.7 50.5h0M259.1 57.9h0M258.6 44.5h0M253.7 51.4h0" stroke="#aaa" stroke-opacity="0.45" stroke-width="0.6" stroke-linecap="round" fill="none"/>
<path d="M262.1 59.9h0M260.4 59.5h0M265.3 57.6h0M260.2 57.4h0M258.1 57.4h0M260.8 58.6h0M267.3 61.9h0M260.2 59.8h0M263.2 60.3h0M262.1 58.8h0M260.1 55.6h0M265.5 61.9h0M264.6 59.3h0M263.1 56.6h0M254.9 60.0h0M262.8 56.3h0M258.1 61.8h0M254.8 63.3h0M259.1 57.9h0M260.0 58.5h0" stroke="#999" stroke-opacity="0.45" stroke-width="0.6" stroke-linecap="round" fill="none"/>
<path d="M201.3 85.9V67M201.3 85.9H227.7" stroke="#8a8a8a" stroke-width="1.3" fill="none"/>
<path d="M199.8 68L201.3 64L202.8 68Z" fill="#111"/>
<path d="M226.7 84.4L230.7 85.9L226.7 87.4Z" fill="#111"/>
<text x="198.60" y="77.10" font-size="5.3" text-anchor="middle" stroke-width="0.18" fill="#222" stroke="#222" transform="rotate(-90 198.60 77.10)" textLength="5.8" lengthAdjust="spacingAndGlyphs">Kit</text>
<text x="212.50" y="93.50" font-size="5.8" text-anchor="middle" stroke-width="0.18" fill="#222" stroke="#222" textLength="13.3" lengthAdjust="spacingAndGlyphs">CD71</text>
<rect x="291.4" y="5.5" width="57.40" height="52.70" fill="none" stroke="#a6a6a6" stroke-width="1"/>
<line x1="311.60" y1="5.50" x2="311.60" y2="58.20" stroke="#8e8e8e" stroke-width="1.1"/>
<line x1="291.40" y1="31.40" x2="348.80" y2="31.40" stroke="#8e8e8e" stroke-width="1.1"/>
<path d="M290.50 54.23H291.4M295.72 58.2V59.10M290.50 51.91H291.4M298.25 58.2V59.10M290.50 50.27H291.4M300.04 58.2V59.10M290.50 48.99H291.4M301.43 58.2V59.10M290.50 47.95H291.4M302.57 58.2V59.10M290.50 47.07H291.4M303.53 58.2V59.10M290.50 46.30H291.4M304.36 58.2V59.10M290.50 45.63H291.4M305.09 58.2V59.10M290.50 41.06H291.4M310.07 58.2V59.10M290.50 38.74H291.4M312.60 58.2V59.10M290.50 37.09H291.4M314.39 58.2V59.10M290.50 35.82H291.4M315.78 58.2V59.10M290.50 34.77H291.4M316.92 58.2V59.10M290.50 33.89H291.4M317.88 58.2V59.10M290.50 33.13H291.4M318.71 58.2V59.10M290.50 32.45H291.4M319.44 58.2V59.10M290.50 27.88H291.4M324.42 58.2V59.10M290.50 25.56H291.4M326.95 58.2V59.10M290.50 23.92H291.4M328.74 58.2V59.10M290.50 22.64H291.4M330.13 58.2V59.10M290.50 21.60H291.4M331.27 58.2V59.10M290.50 20.72H291.4M332.23 58.2V59.10M290.50 19.95H291.4M333.06 58.2V59.10M290.50 19.28H291.4M333.79 58.2V59.10M290.50 14.71H291.4M338.77 58.2V59.10M290.50 12.39H291.4M341.30 58.2V59.10M290.50 10.74H291.4M343.09 58.2V59.10M290.50 9.47H291.4M344.48 58.2V59.10M290.50 8.42H291.4M345.62 58.2V59.10M290.50 7.54H291.4M346.58 58.2V59.10M290.50 6.78H291.4M347.41 58.2V59.10M290.50 6.10H291.4M348.14 58.2V59.10M289.90 58.20H291.4M291.40 58.2V59.70M289.90 45.03H291.4M305.75 58.2V59.70M289.90 31.85H291.4M320.10 58.2V59.70M289.90 18.67H291.4M334.45 58.2V59.70M289.90 5.50H291.4M348.80 58.2V59.70" stroke="#999" stroke-width="0.5" fill="none"/>
<text x="289.50" y="45.93" font-size="2.7" text-anchor="end" stroke-width="0" fill="#777" stroke="#777">10<tspan font-size="1.9" dy="-1">1</tspan></text>
<text x="305.45" y="62.30" font-size="2.7" text-anchor="middle" stroke-width="0" fill="#777" stroke="#777">10<tspan font-size="1.9" dy="-1">1</tspan></text>
<text x="289.50" y="32.75" font-size="2.7" text-anchor="end" stroke-width="0" fill="#777" stroke="#777">10<tspan font-size="1.9" dy="-1">2</tspan></text>
<text x="319.80" y="62.30" font-size="2.7" text-anchor="middle" stroke-width="0" fill="#777" stroke="#777">10<tspan font-size="1.9" dy="-1">2</tspan></text>
<text x="289.50" y="19.57" font-size="2.7" text-anchor="end" stroke-width="0" fill="#777" stroke="#777">10<tspan font-size="1.9" dy="-1">3</tspan></text>
<text x="334.15" y="62.30" font-size="2.7" text-anchor="middle" stroke-width="0" fill="#777" stroke="#777">10<tspan font-size="1.9" dy="-1">3</tspan></text>
<text x="289.50" y="6.40" font-size="2.7" text-anchor="end" stroke-width="0" fill="#777" stroke="#777">10<tspan font-size="1.9" dy="-1">4</tspan></text>
<text x="348.50" y="62.30" font-size="2.7" text-anchor="middle" stroke-width="0" fill="#777" stroke="#777">10<tspan font-size="1.9" dy="-1">4</tspan></text>
<text x="292.30" y="8.50" font-size="2.4" text-anchor="start" stroke-width="0" fill="#666" stroke="#666">Q</text>
<text x="293.70" y="12.60" font-size="2.9" text-anchor="start" stroke-width="0" fill="#444" stroke="#444">3.3%</text>
<text x="312.50" y="8.50" font-size="2.4" text-anchor="start" stroke-width="0" fill="#666" stroke="#666">Q</text>
<text x="313.90" y="12.60" font-size="2.9" text-anchor="start" stroke-width="0" fill="#444" stroke="#444">12.1% 45.08</text>
<text x="292.30" y="34.40" font-size="2.4" text-anchor="start" stroke-width="0" fill="#666" stroke="#666">Q</text>
<text x="293.70" y="38.50" font-size="2.9" text-anchor="start" stroke-width="0" fill="#444" stroke="#444">1.8%</text>
<text x="312.50" y="34.40" font-size="2.4" text-anchor="start" stroke-width="0" fill="#666" stroke="#666">Q</text>
<text x="313.90" y="38.50" font-size="2.9" text-anchor="start" stroke-width="0" fill="#444" stroke="#444">1.1%</text>
<path d="M320.4 17.8h0M326.2 12.8h0M321.9 22.4h0M319.6 19.9h0M323.8 16.6h0M317.0 23.5h0M325.8 24.4h0M320.1 25.8h0M318.6 21.1h0M322.1 21.0h0M330.9 20.4h0M323.1 25.0h0M329.4 17.3h0M321.5 24.3h0M323.3 20.4h0M323.3 21.8h0M330.7 17.7h0M324.3 22.5h0M327.6 10.9h0M326.8 9.7h0M326.8 18.5h0M330.4 14.0h0M319.0 18.7h0M319.0 25.9h0M320.3 18.0h0M323.7 14.9h0M320.0 19.5h0M333.9 16.5h0M318.7 15.4h0M324.4 18.1h0M325.9 19.2h0M323.6 22.7h0M327.3 16.3h0M320.1 19.3h0M323.7 13.4h0M320.6 17.6h0M318.0 26.0h0M323.0 19.2h0M323.7 11.6h0M323.3 20.0h0M324.4 12.9h0M326.8 16.8h0M331.8 16.8h0M330.4 22.6h0M322.0 17.9h0M319.3 17.8h0M318.6 14.1h0M323.6 20.5h0M326.8 14.2h0M327.9 11.9h0M318.2 14.5h0M317.7 19.8h0M330.9 14.8h0M319.2 24.6h0M324.6 16.6h0M322.4 18.1h0M316.7 16.4h0M325.4 22.7h0M328.8 12.9h0M319.2 21.3h0M327.8 16.5h0M321.2 22.1h0M323.2 21.1h0M317.9 16.7h0M324.9 20.8h0M317.8 22.9h0M326.1 14.7h0M324.5 26.8h0M329.0 18.6h0M322.3 26.8h0M314.4 23.9h0M329.2 19.7h0M317.4 20.8h0M319.7 13.2h0M327.1 18.1h0M322.2 22.1h0M327.1 16.9h0M328.6 21.0h0M321.2 21.2h0M322.9 23.6h0M322.2 21.8h0M323.8 18.7h0M330.5 12.4h0M331.1 15.8h0M328.5 13.6h0M328.8 17.5h0M320.9 22.0h0M322.4 19.4h0M327.2 12.3h0M319.6 19.0h0M324.3 20.4h0M331.5 13.2h0M323.5 15.4h0M328.5 20.4h0M324.7 9.0h0M330.4 19.8h0M323.4 12.1h0M322.9 21.7h0M323.1 15.4h0M321.2 24.8h0M320.2 27.7h0M323.7 19.7h0M315.8 22.4h0M322.9 12.6h0M329.1 7.7h0M317.7 23.6h0M326.7 19.1h0M320.9 19.8h0M320.7 18.4h0M324.5 18.5h0M320.8 22.0h0M322.8 18.9h0M324.2 10.5h0M321.8 15.3h0M324.8 24.0h0M318.0 22.8h0M322.4 23.6h0M315.0 18.3h0M324.5 16.2h0M323.9 23.0h0M318.3 21.3h0M324.5 19.5h0M323.0 23.6h0M332.0 9.6h0M326.7 6.6h0M328.5 12.9h0M322.9 17.6h0M317.4 18.1h0M324.1 23.8h0M327.3 13.9h0M319.2 19.1h0M321.6 28.1h0M326.2 16.8h0M318.6 18.2h0M330.5 16.1h0M320.9 25.1h0M319.5 24.8h0M317.9 21.5h0M326.1 18.3h0M325.7 13.1h0" stroke="#666" stroke-opacity="0.45" stroke-width="0.65" stroke-linecap="round" fill="none"/>
<path d="M345.1 23.5h0M335.9 19.2h0M331.5 16.3h0M328.4 17.4h0M337.1 23.4h0M341.5 20.9h0M333.9 15.9h0M334.0 18.1h0M324.9 20.7h0M327.0 14.5h0M336.1 14.5h0M345.6 16.5h0M345.1 22.6h0M333.1 18.9h0M343.5 15.4h0M336.5 14.3h0M336.3 15.3h0M336.5 21.8h0M344.0 17.6h0M337.2 21.1h0M334.3 11.9h0M342.4 12.5h0M341.4 12.4h0M346.5 12.0h0M340.9 24.2h0M330.5 24.1h0M331.3 8.5h0M340.2 20.4h0M335.7 15.5h0M333.8 15.6h0M325.7 14.3h0M346.4 24.4h0M333.9 13.6h0M338.3 22.1h0M340.2 11.4h0M336.9 17.7h0M344.3 22.7h0M339.0 22.8h0M333.7 24.4h0M333.5 18.9h0M341.3 12.6h0M332.0 8.6h0M336.9 16.7h0M334.1 19.4h0M323.8 16.9h0M336.5 15.7h0M340.6 25.4h0M333.4 12.5h0M332.5 17.4h0M339.4 12.9h0M341.8 12.1h0M340.8 19.1h0M338.7 27.4h0M334.5 16.2h0M338.7 21.1h0M328.3 18.3h0M331.7 20.0h0M343.9 17.2h0M335.4 17.9h0M319.0 20.7h0M339.2 17.8h0M333.7 13.5h0M335.0 22.8h0M335.4 23.5h0M321.2 14.8h0M337.6 16.9h0M326.4 13.8h0M343.2 10.8h0M330.3 11.7h0M332.8 20.1h0M339.4 7.3h0M344.4 14.2h0M332.6 25.0h0M335.5 11.0h0M332.3 13.5h0M330.2 15.4h0M341.1 18.7h0M328.0 30.4h0M330.3 17.6h0M336.2 20.7h0M334.1 19.2h0M348.1 17.5h0M329.8 18.6h0M331.4 15.2h0M337.1 18.6h0M334.4 21.1h0M334.9 10.7h0M341.1 15.3h0M343.0 13.9h0M339.3 18.5h0" stroke="#888" stroke-opacity="0.45" stroke-width="0.6" stroke-linecap="round" fill="none"/>
<ellipse cx="326" cy="22.9" rx="4.6" ry="0.8" transform="rotate(-36 326 22.9)" fill="#000" fill-opacity="1" filter="url(#f0_45)"/>
<rect x="291.4" y="62" width="57.80" height="51.90" fill="none" stroke="#a6a6a6" stroke-width="1"/>
<line x1="311.40" y1="62.00" x2="311.40" y2="113.90" stroke="#8e8e8e" stroke-width="1.1"/>
<line x1="291.40" y1="87.60" x2="349.20" y2="87.60" stroke="#8e8e8e" stroke-width="1.1"/>
<path d="M290.50 109.99H291.4M295.75 113.9V114.80M290.50 107.71H291.4M298.29 113.9V114.80M290.50 106.09H291.4M300.10 113.9V114.80M290.50 104.83H291.4M301.50 113.9V114.80M290.50 103.80H291.4M302.64 113.9V114.80M290.50 102.93H291.4M303.61 113.9V114.80M290.50 102.18H291.4M304.45 113.9V114.80M290.50 101.52H291.4M305.19 113.9V114.80M290.50 97.02H291.4M310.20 113.9V114.80M290.50 94.73H291.4M312.74 113.9V114.80M290.50 93.11H291.4M314.55 113.9V114.80M290.50 91.86H291.4M315.95 113.9V114.80M290.50 90.83H291.4M317.09 113.9V114.80M290.50 89.96H291.4M318.06 113.9V114.80M290.50 89.21H291.4M318.90 113.9V114.80M290.50 88.54H291.4M319.64 113.9V114.80M290.50 84.04H291.4M324.65 113.9V114.80M290.50 81.76H291.4M327.19 113.9V114.80M290.50 80.14H291.4M329.00 113.9V114.80M290.50 78.88H291.4M330.40 113.9V114.80M290.50 77.85H291.4M331.54 113.9V114.80M290.50 76.98H291.4M332.51 113.9V114.80M290.50 76.23H291.4M333.35 113.9V114.80M290.50 75.57H291.4M334.09 113.9V114.80M290.50 71.07H291.4M339.10 113.9V114.80M290.50 68.78H291.4M341.64 113.9V114.80M290.50 67.16H291.4M343.45 113.9V114.80M290.50 65.91H291.4M344.85 113.9V114.80M290.50 64.88H291.4M345.99 113.9V114.80M290.50 64.01H291.4M346.96 113.9V114.80M290.50 63.26H291.4M347.80 113.9V114.80M290.50 62.59H291.4M348.54 113.9V114.80M289.90 113.90H291.4M291.40 113.9V115.40M289.90 100.93H291.4M305.85 113.9V115.40M289.90 87.95H291.4M320.30 113.9V115.40M289.90 74.97H291.4M334.75 113.9V115.40M289.90 62.00H291.4M349.20 113.9V115.40" stroke="#999" stroke-width="0.5" fill="none"/>
<text x="289.50" y="101.83" font-size="2.7" text-anchor="end" stroke-width="0" fill="#777" stroke="#777">10<tspan font-size="1.9" dy="-1">1</tspan></text>
<text x="305.55" y="118.00" font-size="2.7" text-anchor="middle" stroke-width="0" fill="#777" stroke="#777">10<tspan font-size="1.9" dy="-1">1</tspan></text>
<text x="289.50" y="88.85" font-size="2.7" text-anchor="end" stroke-width="0" fill="#777" stroke="#777">10<tspan font-size="1.9" dy="-1">2</tspan></text>
<text x="320.00" y="118.00" font-size="2.7" text-anchor="middle" stroke-width="0" fill="#777" stroke="#777">10<tspan font-size="1.9" dy="-1">2</tspan></text>
<text x="289.50" y="75.88" font-size="2.7" text-anchor="end" stroke-width="0" fill="#777" stroke="#777">10<tspan font-size="1.9" dy="-1">3</tspan></text>
<text x="334.45" y="118.00" font-size="2.7" text-anchor="middle" stroke-width="0" fill="#777" stroke="#777">10<tspan font-size="1.9" dy="-1">3</tspan></text>
<text x="289.50" y="62.90" font-size="2.7" text-anchor="end" stroke-width="0" fill="#777" stroke="#777">10<tspan font-size="1.9" dy="-1">4</tspan></text>
<text x="348.90" y="118.00" font-size="2.7" text-anchor="middle" stroke-width="0" fill="#777" stroke="#777">10<tspan font-size="1.9" dy="-1">4</tspan></text>
<text x="292.30" y="65.00" font-size="2.4" text-anchor="start" stroke-width="0" fill="#666" stroke="#666">Q</text>
<text x="293.70" y="69.10" font-size="2.9" text-anchor="start" stroke-width="0" fill="#444" stroke="#444">12.2%</text>
<text x="312.30" y="65.00" font-size="2.4" text-anchor="start" stroke-width="0" fill="#666" stroke="#666">Q</text>
<text x="313.70" y="69.10" font-size="2.9" text-anchor="start" stroke-width="0" fill="#444" stroke="#444">2.1%</text>
<text x="292.30" y="90.60" font-size="2.4" text-anchor="start" stroke-width="0" fill="#666" stroke="#666">Q</text>
<text x="293.70" y="94.70" font-size="2.9" text-anchor="start" stroke-width="0" fill="#444" stroke="#444">2.1%</text>
<text x="312.30" y="90.60" font-size="2.4" text-anchor="start" stroke-width="0" fill="#666" stroke="#666">Q</text>
<text x="313.70" y="94.70" font-size="2.9" text-anchor="start" stroke-width="0" fill="#444" stroke="#444">0.1%</text>
<path d="M316.3 77.7h0M311.7 76.6h0M310.0 81.7h0M313.4 81.3h0M306.7 79.8h0M307.6 84.6h0M297.9 84.5h0M306.0 81.2h0M301.5 74.3h0M307.1 81.7h0M308.6 71.8h0M309.1 83.7h0M315.0 82.4h0M312.3 73.4h0M312.0 77.3h0M304.1 81.2h0M305.3 80.3h0M315.6 77.8h0M317.7 76.2h0M308.9 86.7h0M305.0 82.5h0M308.7 81.8h0M314.2 74.0h0M311.2 79.4h0M300.3 83.2h0M309.4 83.1h0M312.3 81.0h0M308.6 79.5h0M309.2 76.2h0M301.7 85.8h0M300.8 85.7h0M304.3 82.6h0M307.3 78.8h0M303.1 77.8h0M308.1 77.8h0M304.6 70.9h0M306.0 85.2h0M310.2 80.9h0M307.9 77.5h0M313.2 77.6h0M308.5 79.6h0M312.6 78.9h0M316.5 77.4h0M305.8 83.0h0M313.3 75.9h0M312.8 80.9h0M302.8 74.9h0M310.7 81.1h0M308.3 78.2h0M315.4 75.3h0M304.5 81.6h0M308.6 76.2h0M318.9 78.4h0M318.1 76.8h0M317.1 77.1h0M315.4 73.6h0M312.1 82.7h0M311.8 84.6h0M311.6 82.7h0M306.3 76.2h0M314.2 83.7h0M319.7 81.1h0M310.9 76.8h0M304.8 75.2h0M310.8 84.5h0M317.1 81.3h0M303.1 83.1h0M297.2 86.2h0M317.4 84.8h0M310.5 77.7h0M314.6 63.9h0M309.7 81.9h0M325.1 77.0h0M321.6 71.5h0M318.0 80.8h0M313.1 79.8h0M307.5 80.6h0M302.0 76.8h0M310.8 79.7h0M315.0 85.6h0M308.3 80.7h0M305.6 84.2h0M307.7 83.5h0M326.8 68.5h0M316.0 79.7h0M315.3 80.3h0M316.5 82.3h0M318.1 80.6h0M306.9 83.2h0M308.1 87.0h0M312.7 76.0h0M319.1 86.3h0M313.2 72.3h0M310.6 83.3h0M310.3 82.3h0M316.5 76.8h0M305.6 87.9h0M309.3 81.8h0M303.1 79.4h0M302.1 85.4h0M297.1 77.6h0M312.6 72.5h0M307.0 85.8h0M307.1 86.3h0M307.8 84.0h0M310.0 80.5h0M296.3 84.6h0M312.8 85.4h0M308.0 85.0h0M311.6 81.7h0M310.9 72.2h0M310.5 79.3h0M305.7 79.8h0M302.8 81.4h0M318.4 73.6h0M310.9 74.8h0M313.8 84.7h0M306.8 78.2h0M305.7 79.1h0M301.6 86.4h0M305.4 80.3h0M302.5 82.1h0M314.2 84.1h0M303.1 85.6h0M311.4 82.2h0M314.0 74.4h0M302.5 85.9h0M309.3 77.6h0M318.4 82.1h0M310.0 70.8h0M310.0 79.4h0M309.4 78.6h0M313.4 81.0h0M315.0 79.4h0M308.7 75.7h0M307.6 83.2h0M304.9 79.5h0M308.2 79.1h0M305.1 80.2h0M305.3 84.0h0M307.8 85.9h0M309.1 82.0h0M314.8 83.0h0M313.2 79.0h0M306.6 79.3h0M309.4 84.5h0M309.7 78.8h0M298.7 82.3h0M313.8 82.7h0M308.0 75.3h0M308.9 82.6h0M305.6 86.1h0M306.4 79.4h0M309.1 76.8h0M311.9 77.5h0M317.1 73.2h0M309.4 82.9h0M307.2 77.8h0M302.8 85.6h0M314.3 71.8h0M317.1 75.7h0M304.4 86.7h0M310.2 75.8h0M304.8 87.2h0M301.6 80.1h0M308.7 82.6h0M303.6 79.9h0M306.2 74.9h0M313.5 80.1h0M320.5 76.3h0M312.0 80.2h0M306.3 76.9h0M318.4 76.2h0M305.1 78.8h0M318.6 76.1h0M319.3 72.6h0M310.5 78.0h0M308.9 86.9h0M325.8 67.9h0M310.8 83.9h0M309.7 84.5h0M311.3 74.4h0M303.7 85.5h0M314.5 78.2h0M312.5 71.5h0M310.5 77.0h0M310.8 81.5h0M303.9 84.6h0M304.1 86.9h0M303.8 83.2h0M309.0 78.1h0M313.9 74.1h0M314.6 78.1h0M303.6 84.9h0M304.2 83.6h0M312.6 87.6h0M311.2 87.5h0M308.6 75.2h0M315.8 77.7h0M307.8 81.2h0M310.1 79.0h0M305.8 82.2h0M314.0 74.1h0M308.6 75.9h0M302.4 80.0h0M310.2 83.9h0M309.9 78.2h0M311.8 77.3h0M312.1 80.2h0M306.1 71.3h0M306.9 80.4h0M318.6 76.1h0M320.6 74.2h0M310.2 84.0h0M304.3 83.1h0M306.1 82.8h0M312.3 76.2h0M309.9 78.1h0M307.2 69.0h0M308.8 82.4h0M313.8 83.9h0M316.1 78.7h0M306.0 78.4h0M307.2 80.6h0M309.6 78.5h0M314.4 74.5h0M310.5 84.8h0M306.5 77.4h0M311.2 78.6h0M302.2 83.4h0M312.7 79.8h0M310.1 77.4h0M310.4 79.6h0M294.2 85.9h0M307.9 81.0h0M309.0 86.4h0M313.9 85.9h0M317.7 82.4h0M309.8 82.6h0M306.8 82.4h0M299.1 86.8h0M303.0 83.2h0M316.4 76.5h0M318.0 78.2h0M316.7 80.0h0M308.4 86.0h0M306.5 80.8h0M321.0 82.2h0M311.7 74.9h0M311.8 80.9h0" stroke="#000" stroke-opacity="0.4" stroke-width="0.8" stroke-linecap="round" fill="none"/>
<ellipse cx="310" cy="81.5" rx="8.5" ry="4.6" transform="rotate(-40 310 81.5)" fill="#000" fill-opacity="1" filter="url(#f1_0)"/>
<ellipse cx="326.5" cy="76" rx="4.2" ry="3.2" transform="rotate(20 326.5 76)" fill="#555" fill-opacity="0.85" filter="url(#f1_0)"/>
<path d="M328.2 74.2h0M320.1 73.0h0M328.7 79.6h0M327.4 80.6h0M321.6 73.2h0M326.1 79.6h0M325.9 77.4h0M323.5 83.8h0M316.2 71.3h0M336.9 80.0h0M317.5 72.5h0M320.5 69.9h0M324.5 82.4h0M327.1 78.5h0M330.3 77.5h0M322.3 73.2h0M327.9 74.4h0M323.5 72.4h0M320.7 68.4h0M326.1 73.4h0M324.1 80.8h0M327.4 75.4h0M322.3 68.7h0M329.0 72.1h0M329.5 71.3h0M326.7 74.9h0M331.1 75.0h0M324.0 75.4h0M323.7 82.0h0M325.6 72.4h0M323.9 76.4h0M326.0 78.2h0M316.1 82.8h0M334.4 77.9h0M320.3 73.6h0M331.2 66.6h0M328.3 69.0h0M326.0 81.4h0M332.9 70.6h0M330.9 81.0h0M323.6 76.4h0M333.4 76.1h0M326.8 72.7h0M334.4 68.1h0M333.9 73.4h0M332.6 69.9h0M322.7 71.0h0M332.1 69.8h0M329.7 73.4h0M332.1 75.8h0M328.5 75.1h0M334.6 76.5h0M322.9 83.0h0M325.3 77.9h0M322.4 74.6h0M315.6 71.7h0M325.3 67.8h0M317.9 77.3h0M330.2 69.5h0M335.2 75.2h0M324.0 75.4h0M323.3 66.5h0M320.9 78.6h0M332.6 70.1h0M331.4 77.1h0M328.2 76.0h0M329.4 71.6h0M322.9 70.6h0M323.4 76.9h0M318.1 79.5h0M324.0 71.6h0M328.5 77.9h0M326.1 70.1h0M323.8 66.9h0M329.6 81.3h0M333.7 80.1h0M326.4 78.6h0M330.7 75.5h0M324.4 84.3h0M320.4 66.5h0M320.5 76.5h0M331.9 75.6h0M329.1 75.9h0M328.2 73.3h0M325.9 74.9h0M327.8 85.9h0M317.0 74.2h0M324.5 78.9h0M329.6 79.9h0M331.1 72.5h0M315.8 79.0h0M332.9 73.1h0M330.9 79.8h0M313.6 74.6h0M319.8 78.1h0M324.0 70.9h0M319.3 71.6h0M331.6 73.9h0M314.4 80.7h0M333.3 80.9h0M325.4 69.2h0M317.8 74.6h0M333.5 72.8h0M326.4 73.9h0M324.1 76.6h0M336.4 75.9h0M328.2 80.8h0M324.9 73.9h0M318.3 77.2h0M324.6 71.5h0M327.6 71.6h0M321.7 72.1h0M333.0 76.6h0M330.6 69.9h0M314.5 79.2h0M326.5 68.1h0M324.6 77.3h0M319.5 68.6h0M328.5 71.7h0M328.2 80.2h0M328.6 74.0h0M326.7 72.3h0M324.9 76.1h0M323.2 78.5h0M338.6 77.0h0M326.3 78.9h0M329.3 75.1h0M322.3 78.3h0M328.1 78.1h0M321.4 76.3h0M329.9 75.6h0M325.7 84.9h0M316.6 74.4h0M322.7 67.5h0M324.1 76.8h0M328.0 70.3h0M320.3 70.3h0M327.3 71.6h0M316.6 79.7h0M322.4 73.0h0M324.4 71.7h0M326.6 73.8h0M330.6 71.2h0M316.3 80.5h0M324.5 78.0h0M330.5 79.2h0M328.5 68.7h0M317.3 76.4h0M328.2 78.5h0M321.6 63.5h0M323.0 68.4h0M328.2 71.1h0M334.1 75.1h0M322.2 77.6h0M328.8 71.9h0M326.9 84.2h0M320.8 71.9h0M324.0 65.3h0M327.8 78.9h0M329.8 78.4h0M316.9 71.5h0M324.7 69.1h0M319.8 76.3h0M321.7 82.6h0M331.0 67.9h0M328.2 81.6h0M328.0 70.1h0M336.0 72.5h0M328.5 67.0h0M322.8 65.9h0M329.2 81.7h0M326.2 68.7h0M325.2 76.5h0M320.8 67.7h0M324.5 77.7h0M325.7 77.0h0M328.8 71.7h0M326.0 73.2h0M329.4 72.6h0M332.6 77.5h0M327.5 78.5h0M330.1 78.4h0M318.9 69.5h0M333.8 80.1h0M327.9 77.9h0M324.1 71.1h0M321.3 78.7h0M325.0 83.0h0M325.4 83.7h0M329.9 70.9h0M333.5 79.3h0M331.2 77.9h0M324.2 75.2h0M322.6 68.2h0M322.7 71.3h0M319.9 72.3h0M324.3 83.9h0M334.6 77.9h0M330.4 75.6h0M327.9 75.5h0" stroke="#444" stroke-opacity="0.4" stroke-width="0.7" stroke-linecap="round" fill="none"/>
<path d="M319.8 74.4h0M312.4 76.6h0M321.7 67.6h0M321.2 77.3h0M318.7 76.8h0M328.5 83.2h0M315.4 73.3h0M328.0 82.9h0M326.1 78.5h0M312.4 70.6h0M337.1 72.3h0M341.0 69.7h0M321.8 64.6h0M329.0 75.6h0M339.9 75.0h0M322.0 65.7h0M323.4 79.6h0M329.8 81.3h0M330.8 73.7h0M328.8 75.0h0M313.5 84.1h0M327.0 67.8h0M327.0 75.7h0M331.9 82.6h0M300.0 77.3h0M336.1 68.4h0M309.3 75.7h0M326.7 76.1h0M315.2 71.2h0M325.5 78.4h0M341.4 75.7h0M332.5 73.2h0M323.1 68.1h0M329.8 63.3h0M324.9 74.7h0M326.4 81.8h0M323.2 74.6h0M330.8 64.8h0M321.7 74.4h0M331.6 69.2h0M330.4 76.3h0M312.2 65.2h0M312.6 74.8h0M325.6 78.3h0M330.5 70.7h0M332.5 78.9h0M327.7 76.9h0M313.8 76.2h0M315.8 66.9h0M321.2 74.8h0M323.6 72.0h0M316.0 75.1h0M318.1 65.6h0M324.7 82.7h0M320.8 67.7h0M335.0 84.2h0M321.7 72.7h0M325.1 79.9h0M327.5 63.1h0M315.2 66.6h0M327.4 74.6h0M338.3 72.4h0M326.5 74.4h0M325.1 87.8h0M326.3 82.8h0M334.3 70.4h0M329.5 71.7h0M324.9 74.9h0M324.2 71.2h0M336.4 72.4h0M329.6 84.0h0M329.0 80.1h0M335.1 80.5h0M337.7 65.5h0M339.6 74.2h0M310.1 70.2h0M312.9 73.9h0M312.1 68.0h0M326.4 74.9h0M317.6 72.6h0" stroke="#999" stroke-opacity="0.4" stroke-width="0.6" stroke-linecap="round" fill="none"/>
<path d="M284.3 120.9V102.3M284.3 120.9H310" stroke="#8a8a8a" stroke-width="1.3" fill="none"/>
<path d="M282.8 103.3L284.3 99.3L285.8 103.3Z" fill="#111"/>
<path d="M309 119.4L313 120.9L309 122.4Z" fill="#111"/>
<text x="281.00" y="114.50" font-size="5.6" text-anchor="middle" stroke-width="0.18" fill="#222" stroke="#222" transform="rotate(-90 281.00 114.50)" textLength="12.3" lengthAdjust="spacingAndGlyphs">CD71</text>
<text x="294.40" y="127.50" font-size="5.6" text-anchor="middle" stroke-width="0.18" fill="#222" stroke="#222" textLength="20.1" lengthAdjust="spacingAndGlyphs">TER119</text>
<text x="361.70" y="62.20" font-size="7.0" text-anchor="middle" stroke-width="0.18" fill="#111" stroke="#111" transform="rotate(-90 361.70 62.20)" textLength="18.9" lengthAdjust="spacingAndGlyphs">Day 5</text>
<text x="10.20" y="191.00" font-size="6.8" text-anchor="middle" stroke-width="0.18" fill="#222" stroke="#222" transform="rotate(-90 10.20 191.00)" textLength="55.4" lengthAdjust="spacingAndGlyphs">Epo+SCF+BMP4 at 2% O<tspan font-size="4.2" dy="1.47">2</tspan></text>
<rect x="31.3" y="165.5" width="65.80" height="58.70" fill="none" stroke="#a6a6a6" stroke-width="1"/>
<line x1="64.10" y1="165.50" x2="64.10" y2="224.20" stroke="#8e8e8e" stroke-width="1.1"/>
<line x1="31.30" y1="209.90" x2="97.10" y2="209.90" stroke="#8e8e8e" stroke-width="1.1"/>
<path d="M30.40 219.78H31.3M36.25 224.2V225.10M30.40 217.20H31.3M39.15 224.2V225.10M30.40 215.36H31.3M41.20 224.2V225.10M30.40 213.94H31.3M42.80 224.2V225.10M30.40 212.78H31.3M44.10 224.2V225.10M30.40 211.80H31.3M45.20 224.2V225.10M30.40 210.95H31.3M46.16 224.2V225.10M30.40 210.20H31.3M47.00 224.2V225.10M30.40 205.11H31.3M52.70 224.2V225.10M30.40 202.52H31.3M55.60 224.2V225.10M30.40 200.69H31.3M57.65 224.2V225.10M30.40 199.27H31.3M59.25 224.2V225.10M30.40 198.11H31.3M60.55 224.2V225.10M30.40 197.12H31.3M61.65 224.2V225.10M30.40 196.27H31.3M62.61 224.2V225.10M30.40 195.52H31.3M63.45 224.2V225.10M30.40 190.43H31.3M69.15 224.2V225.10M30.40 187.85H31.3M72.05 224.2V225.10M30.40 186.01H31.3M74.10 224.2V225.10M30.40 184.59H31.3M75.70 224.2V225.10M30.40 183.43H31.3M77.00 224.2V225.10M30.40 182.45H31.3M78.10 224.2V225.10M30.40 181.60H31.3M79.06 224.2V225.10M30.40 180.85H31.3M79.90 224.2V225.10M30.40 175.76H31.3M85.60 224.2V225.10M30.40 173.17H31.3M88.50 224.2V225.10M30.40 171.34H31.3M90.55 224.2V225.10M30.40 169.92H31.3M92.15 224.2V225.10M30.40 168.76H31.3M93.45 224.2V225.10M30.40 167.77H31.3M94.55 224.2V225.10M30.40 166.92H31.3M95.51 224.2V225.10M30.40 166.17H31.3M96.35 224.2V225.10M29.80 224.20H31.3M31.30 224.2V225.70M29.80 209.52H31.3M47.75 224.2V225.70M29.80 194.85H31.3M64.20 224.2V225.70M29.80 180.18H31.3M80.65 224.2V225.70M29.80 165.50H31.3M97.10 224.2V225.70" stroke="#999" stroke-width="0.5" fill="none"/>
<text x="29.40" y="210.42" font-size="2.7" text-anchor="end" stroke-width="0" fill="#777" stroke="#777">10<tspan font-size="1.9" dy="-1">1</tspan></text>
<text x="47.45" y="228.30" font-size="2.7" text-anchor="middle" stroke-width="0" fill="#777" stroke="#777">10<tspan font-size="1.9" dy="-1">1</tspan></text>
<text x="29.40" y="195.75" font-size="2.7" text-anchor="end" stroke-width="0" fill="#777" stroke="#777">10<tspan font-size="1.9" dy="-1">2</tspan></text>
<text x="63.90" y="228.30" font-size="2.7" text-anchor="middle" stroke-width="0" fill="#777" stroke="#777">10<tspan font-size="1.9" dy="-1">2</tspan></text>
<text x="29.40" y="181.08" font-size="2.7" text-anchor="end" stroke-width="0" fill="#777" stroke="#777">10<tspan font-size="1.9" dy="-1">3</tspan></text>
<text x="80.35" y="228.30" font-size="2.7" text-anchor="middle" stroke-width="0" fill="#777" stroke="#777">10<tspan font-size="1.9" dy="-1">3</tspan></text>
<text x="29.40" y="166.40" font-size="2.7" text-anchor="end" stroke-width="0" fill="#777" stroke="#777">10<tspan font-size="1.9" dy="-1">4</tspan></text>
<text x="96.80" y="228.30" font-size="2.7" text-anchor="middle" stroke-width="0" fill="#777" stroke="#777">10<tspan font-size="1.9" dy="-1">4</tspan></text>
<text x="32.20" y="168.50" font-size="2.4" text-anchor="start" stroke-width="0" fill="#666" stroke="#666">Q</text>
<text x="33.60" y="172.60" font-size="2.9" text-anchor="start" stroke-width="0" fill="#444" stroke="#444">0.0%</text>
<text x="65.00" y="168.50" font-size="2.4" text-anchor="start" stroke-width="0" fill="#666" stroke="#666">Q</text>
<text x="66.40" y="172.60" font-size="2.9" text-anchor="start" stroke-width="0" fill="#444" stroke="#444">17.1% 47.73</text>
<text x="32.20" y="212.90" font-size="2.4" text-anchor="start" stroke-width="0" fill="#666" stroke="#666">Q</text>
<text x="33.60" y="217.00" font-size="2.9" text-anchor="start" stroke-width="0" fill="#444" stroke="#444">27.3%</text>
<text x="65.00" y="212.90" font-size="2.4" text-anchor="start" stroke-width="0" fill="#666" stroke="#666">Q</text>
<text x="66.40" y="217.00" font-size="2.9" text-anchor="start" stroke-width="0" fill="#444" stroke="#444">55.1%</text>
<line x1="64.10" y1="165.50" x2="113.10" y2="150.90" stroke="#404040" stroke-width="1.0" stroke-dasharray="1.6 1.5"/>
<line x1="97.10" y1="165.50" x2="113.10" y2="150.90" stroke="#404040" stroke-width="1.0" stroke-dasharray="1.6 1.5"/>
<line x1="97.10" y1="209.90" x2="113.10" y2="204.00" stroke="#404040" stroke-width="1.0" stroke-dasharray="1.6 1.5"/>
<line x1="97.10" y1="209.90" x2="113.10" y2="207.30" stroke="#404040" stroke-width="1.0" stroke-dasharray="1.6 1.5"/>
<line x1="64.10" y1="224.20" x2="113.10" y2="260.20" stroke="#404040" stroke-width="1.0" stroke-dasharray="1.6 1.5"/>
<line x1="97.10" y1="224.20" x2="113.10" y2="260.20" stroke="#404040" stroke-width="1.0" stroke-dasharray="1.6 1.5"/>
<path d="M50.3 219.6h0M50.8 218.6h0M57.2 213.2h0M47.2 220.3h0M47.6 218.0h0M47.6 220.4h0M60.8 217.3h0M49.0 220.7h0M48.2 213.4h0M53.0 217.8h0M46.7 221.9h0M51.1 217.5h0M33.0 216.3h0M51.1 218.9h0M54.6 219.5h0M46.7 215.8h0M42.3 220.1h0M42.2 223.0h0M39.7 215.1h0M48.7 213.9h0M63.4 214.3h0M50.5 218.6h0M43.7 214.6h0M39.7 222.7h0M51.3 222.0h0M47.3 222.2h0M58.4 220.2h0M62.4 217.1h0M62.9 215.4h0M63.0 208.7h0M50.8 216.7h0M51.5 222.6h0M56.7 218.8h0M63.8 212.7h0M52.7 212.4h0M53.2 215.2h0M63.2 221.3h0M44.8 223.1h0M55.5 218.3h0M39.6 220.0h0M32.6 220.1h0M42.3 212.7h0M55.8 219.8h0M57.2 218.6h0M44.6 210.7h0M55.2 221.8h0M45.7 215.5h0M49.9 214.0h0M51.4 221.7h0M63.1 218.5h0M52.9 221.5h0M61.9 216.7h0M40.9 218.2h0M40.6 217.9h0M50.2 220.5h0M52.3 219.3h0M48.4 221.0h0M58.4 220.7h0M62.7 216.7h0M52.8 220.4h0M48.8 222.7h0M47.4 216.6h0M50.3 218.0h0M57.4 217.2h0M51.9 218.5h0M53.4 216.9h0M59.1 213.6h0M47.6 217.5h0M56.2 218.7h0M54.7 217.7h0M44.8 216.6h0M48.1 218.0h0M53.4 220.1h0M58.7 217.9h0M44.6 216.8h0M51.6 220.4h0M66.5 217.7h0M65.8 223.3h0M60.6 222.3h0M51.3 222.3h0M47.2 219.6h0M49.7 222.6h0M51.2 217.0h0M53.2 221.1h0M45.6 222.1h0M45.0 217.3h0M52.6 218.3h0M42.5 215.2h0M51.3 220.0h0M47.4 220.4h0M39.1 222.2h0M54.4 219.7h0M46.2 220.2h0M52.5 222.5h0M53.3 219.8h0M45.7 222.8h0M60.1 216.4h0M56.2 219.6h0M50.1 215.3h0M64.1 211.4h0M53.2 217.8h0M59.9 216.7h0M51.6 221.2h0M54.4 217.1h0M56.6 219.8h0M58.6 216.6h0M50.5 218.1h0M44.5 221.0h0M54.9 223.3h0M48.6 220.9h0M60.0 217.7h0M51.6 219.7h0M45.1 216.9h0M59.9 218.6h0M49.9 215.5h0M52.5 222.9h0M41.5 217.8h0M60.4 222.6h0M63.0 215.8h0M55.4 216.3h0M54.9 217.6h0M53.1 223.3h0M53.6 218.2h0M51.6 220.1h0M47.0 220.5h0M56.4 223.6h0M34.2 217.8h0M41.6 223.4h0M70.3 217.2h0M52.5 222.8h0M46.8 218.3h0M53.4 217.1h0M59.7 218.1h0M47.9 222.7h0M58.6 218.7h0M59.5 223.3h0M61.8 217.8h0M51.1 222.8h0M39.2 219.0h0M55.1 220.6h0M66.4 222.8h0M53.7 220.3h0M40.6 220.2h0M53.0 218.3h0M51.7 221.1h0M43.3 218.6h0M42.0 215.1h0M56.9 217.8h0M58.4 217.1h0M68.0 219.2h0M52.2 219.5h0M49.7 222.1h0M66.5 215.8h0M42.7 222.4h0M58.7 213.4h0M45.1 216.9h0M55.6 220.3h0M44.8 216.6h0M55.4 212.1h0M56.0 218.1h0M66.5 220.3h0M46.3 219.1h0M48.5 217.3h0M52.1 222.2h0M39.1 220.2h0M63.0 220.0h0M44.3 217.7h0M43.6 215.2h0M60.0 218.3h0M44.9 215.6h0M47.8 218.1h0M64.2 216.0h0M52.4 222.5h0M56.1 218.0h0M55.5 217.3h0M49.9 216.4h0M43.3 215.7h0M55.1 220.4h0M52.7 221.5h0M55.2 219.1h0M44.4 222.1h0M60.5 220.0h0M60.5 216.5h0M46.6 220.7h0M49.5 219.6h0M48.7 217.9h0M51.7 213.1h0M43.5 216.8h0M44.1 212.2h0M49.4 221.9h0M55.1 214.8h0M59.7 212.7h0M46.4 218.8h0M60.8 218.3h0M49.7 216.9h0M51.7 219.3h0M57.3 222.8h0M56.7 218.6h0M52.6 219.0h0M65.6 222.2h0M55.4 218.3h0M46.5 223.3h0M47.9 222.8h0M45.0 220.5h0M54.2 219.3h0M53.0 220.2h0M41.8 217.1h0M49.6 216.6h0M45.9 220.1h0M59.9 216.3h0M55.4 219.3h0M47.8 216.8h0M49.5 217.2h0M54.4 213.3h0M60.1 220.4h0M56.1 223.3h0M54.9 213.4h0M51.6 220.6h0M45.2 216.5h0M54.6 220.4h0M47.6 219.0h0M46.8 218.1h0M51.0 222.7h0M38.4 220.0h0M63.6 218.5h0M52.6 221.7h0M42.7 216.7h0M37.5 216.6h0M53.3 221.7h0M47.5 217.7h0M54.4 220.8h0M52.2 213.1h0M45.7 212.1h0M52.5 216.4h0M61.4 219.4h0M53.2 219.5h0M46.5 219.8h0M65.4 214.5h0M46.0 220.5h0M58.2 220.9h0M43.5 219.9h0M48.4 215.8h0M51.4 217.7h0M58.3 219.6h0M45.0 220.4h0M48.0 217.7h0M47.7 223.1h0M47.1 214.5h0M45.4 222.6h0M67.1 213.7h0M48.1 218.7h0M40.3 222.1h0M50.7 220.2h0M68.1 216.1h0M57.5 221.0h0M45.8 218.2h0M63.3 219.8h0M51.6 215.8h0M58.0 220.0h0M68.6 221.5h0M57.3 219.3h0M51.2 217.5h0M53.5 219.7h0M56.5 221.9h0M53.2 217.3h0M57.9 223.2h0M44.8 221.5h0M55.5 220.4h0M54.9 218.5h0M63.7 213.1h0M45.6 218.4h0M38.9 222.1h0M50.3 217.7h0M62.9 221.3h0M48.1 221.8h0M51.2 222.9h0M55.5 218.6h0M54.9 216.5h0M57.8 223.1h0M48.5 221.4h0" stroke="#000" stroke-opacity="0.4" stroke-width="0.8" stroke-linecap="round" fill="none"/>
<ellipse cx="51.3" cy="219.8" rx="6.3" ry="2.8" transform="rotate(-6 51.3 219.8)" fill="#000" fill-opacity="1" filter="url(#f0_9)"/>
<path d="M56.1 218.4h0M61.8 213.0h0M64.6 214.5h0M54.8 214.1h0M62.2 214.4h0M62.1 211.8h0M60.2 217.4h0M58.6 217.3h0M59.2 216.4h0M62.0 219.5h0M57.1 217.8h0M62.9 212.5h0M61.4 219.8h0M61.3 209.2h0M58.5 212.5h0M60.4 213.9h0M58.1 214.3h0M60.5 214.4h0M57.5 215.7h0M60.6 213.6h0M62.1 211.6h0M60.9 214.5h0M63.8 213.2h0M57.6 213.4h0M65.5 215.3h0M57.0 215.6h0M58.3 219.0h0M60.1 211.4h0M61.0 217.1h0M60.2 216.4h0M59.8 216.0h0M60.2 214.0h0M61.0 215.6h0M59.6 214.2h0M57.5 216.7h0M61.0 210.4h0M59.3 218.4h0M62.0 213.5h0M63.1 212.7h0M58.9 219.7h0" stroke="#333" stroke-opacity="0.42" stroke-width="0.8" stroke-linecap="round" fill="none"/>
<path d="M64.7 212.7h0M61.2 212.1h0M62.8 213.4h0M61.7 216.1h0M64.8 211.9h0M64.7 214.6h0M69.8 211.0h0M71.1 214.7h0M69.7 212.4h0M62.4 215.1h0M65.0 213.5h0M60.9 213.6h0M66.1 210.9h0M67.6 215.7h0M66.3 211.4h0M71.2 207.1h0M63.8 214.2h0M63.3 208.9h0M67.1 214.2h0M64.6 216.1h0M67.9 214.7h0M62.0 213.9h0M71.2 215.5h0M69.5 211.9h0M66.2 211.5h0M68.5 210.7h0M65.3 208.8h0M62.9 217.2h0M66.3 213.2h0M60.2 214.3h0M70.7 208.5h0M59.7 214.2h0M64.5 212.8h0M62.0 211.1h0M63.1 214.9h0M66.3 214.4h0M63.5 214.7h0M64.9 213.3h0M68.5 212.2h0M64.2 209.9h0M66.6 214.2h0M64.3 213.1h0M60.7 211.5h0M67.7 215.0h0M64.3 209.9h0" stroke="#333" stroke-opacity="0.42" stroke-width="0.8" stroke-linecap="round" fill="none"/>
<path d="M70.2 209.3h0M72.2 215.8h0M72.7 211.5h0M74.6 210.5h0M73.0 212.1h0M72.4 208.9h0M74.3 213.2h0M64.6 208.5h0M70.4 215.5h0M72.4 213.3h0M73.9 213.3h0M70.0 211.3h0M73.3 212.9h0M73.7 212.2h0M71.3 214.4h0M73.8 213.7h0M65.8 215.7h0M65.6 214.1h0M70.3 212.7h0M70.6 211.7h0M72.7 212.5h0M68.6 207.8h0M70.2 213.6h0M70.0 213.4h0M70.5 210.5h0M76.0 214.3h0M71.7 212.0h0M73.9 208.8h0M70.3 214.8h0M74.2 210.4h0M70.1 213.2h0M68.0 212.1h0M70.1 207.5h0M74.0 213.0h0M74.1 208.5h0M68.1 211.4h0M69.6 216.9h0M69.2 212.1h0M72.8 212.7h0M75.3 208.9h0M74.4 211.7h0M68.9 213.1h0M69.1 216.1h0M70.6 214.5h0M75.2 209.9h0M69.7 212.9h0M69.6 214.5h0M72.1 210.4h0M70.5 213.9h0M69.0 216.3h0" stroke="#333" stroke-opacity="0.42" stroke-width="0.8" stroke-linecap="round" fill="none"/>
<path d="M75.8 211.2h0M76.4 214.8h0M80.9 212.9h0M79.8 210.7h0M82.9 211.1h0M79.5 211.8h0M80.1 211.0h0M76.7 208.1h0M82.9 207.0h0M71.8 211.2h0M83.8 212.0h0M76.5 211.9h0M76.9 207.2h0M77.2 211.8h0M80.5 207.8h0M71.1 209.6h0M78.9 210.9h0M78.5 211.2h0M76.3 208.6h0M79.4 211.4h0M80.2 213.0h0M73.4 207.4h0M74.3 216.4h0M75.7 212.4h0M78.3 212.4h0M86.4 207.7h0M77.2 210.0h0M78.9 211.8h0M76.1 214.2h0M81.3 211.0h0M77.6 210.6h0M73.9 213.5h0M75.1 210.7h0M80.2 208.5h0M77.0 213.0h0M82.7 208.3h0M80.6 208.9h0M79.3 211.7h0M75.5 213.8h0M82.9 209.8h0M78.1 208.5h0M82.9 209.8h0M74.9 213.4h0M73.7 210.7h0M72.9 215.2h0M83.6 208.2h0M75.9 210.4h0M76.8 212.5h0M81.4 208.0h0M78.3 207.2h0M82.1 209.7h0M76.9 214.5h0M78.4 213.7h0M81.8 213.4h0M75.9 211.7h0" stroke="#333" stroke-opacity="0.42" stroke-width="0.8" stroke-linecap="round" fill="none"/>
<path d="M84.9 208.9h0M87.7 207.0h0M87.4 211.4h0M78.2 209.0h0M81.3 209.1h0M85.0 208.9h0M84.0 208.6h0M84.0 210.5h0M85.6 207.5h0M83.3 208.1h0M82.8 206.9h0M86.9 210.1h0M83.3 208.3h0M82.4 208.5h0M80.7 213.8h0M92.3 204.7h0M81.1 211.5h0M84.8 206.0h0M79.1 211.9h0M79.4 213.7h0M82.7 210.0h0M83.7 208.4h0M83.5 209.0h0M87.3 208.4h0M83.6 208.5h0M81.9 208.5h0M85.0 213.0h0M87.1 209.1h0M89.0 210.2h0M84.5 209.0h0M81.2 210.8h0M82.3 206.7h0M81.5 214.2h0M84.8 210.3h0M84.3 208.5h0M85.8 211.3h0M83.4 210.7h0M86.5 207.8h0M84.1 207.9h0M85.4 208.4h0M86.7 207.2h0M88.4 207.7h0M81.3 208.4h0M85.3 207.4h0M89.5 210.7h0M84.7 206.4h0M83.6 208.1h0M79.3 211.6h0M89.7 206.9h0M86.9 211.4h0M81.2 209.5h0M85.0 210.2h0M81.0 210.7h0M84.2 211.4h0M79.4 209.6h0M82.5 209.3h0M85.6 207.8h0M91.0 206.1h0M86.8 210.9h0M86.5 208.4h0M81.6 209.6h0M85.9 209.3h0M85.9 210.2h0M81.1 208.3h0M87.6 207.5h0" stroke="#333" stroke-opacity="0.42" stroke-width="0.8" stroke-linecap="round" fill="none"/>
<path d="M85.7 212.3h0M86.3 206.4h0M91.0 204.7h0M87.2 210.3h0M88.1 213.0h0M90.7 212.7h0M89.4 207.6h0M87.2 207.6h0M87.6 207.9h0M90.4 204.6h0M85.4 204.2h0M93.0 206.4h0M88.9 207.5h0M91.9 207.5h0M91.2 206.7h0M88.6 207.6h0M84.5 211.1h0M84.2 206.8h0M90.8 207.2h0M92.1 210.3h0M94.8 208.9h0M89.5 211.7h0M86.6 208.1h0M91.6 206.5h0M88.5 207.0h0M91.4 201.8h0M93.0 208.7h0M89.1 208.7h0M87.0 210.4h0M92.7 206.5h0M87.8 206.9h0M87.8 205.3h0M86.2 211.8h0M89.2 208.7h0M90.1 208.3h0M84.4 206.9h0M91.2 209.1h0M85.6 207.3h0M86.4 209.6h0M89.9 207.4h0M87.4 208.7h0M88.7 206.1h0M89.6 206.1h0M91.9 208.1h0M87.4 209.2h0M88.8 206.2h0M85.7 205.1h0M86.1 209.1h0M91.9 205.5h0M89.6 208.1h0M91.3 207.9h0M92.7 208.2h0M87.1 208.9h0M82.6 209.0h0M89.4 208.7h0M88.6 209.4h0M92.1 205.0h0M87.7 208.5h0M90.4 207.5h0M90.6 204.7h0M91.7 209.3h0M92.2 207.6h0M88.6 208.5h0M88.0 204.6h0M87.3 208.0h0M87.1 206.2h0M88.2 207.1h0M89.2 207.5h0M90.0 209.4h0M89.6 208.3h0M84.2 202.8h0M88.3 209.2h0M87.8 206.6h0M86.1 210.2h0M87.7 208.5h0" stroke="#333" stroke-opacity="0.42" stroke-width="0.8" stroke-linecap="round" fill="none"/>
<path d="M96.3 205.7h0M95.9 206.1h0M91.3 206.1h0M90.9 203.9h0M93.4 203.8h0M91.6 206.1h0M91.6 206.0h0M90.6 203.2h0M85.8 204.8h0M93.2 204.5h0M92.8 206.2h0M88.8 205.0h0M91.2 208.6h0M90.7 208.5h0M93.2 211.1h0M92.8 205.6h0M95.0 202.8h0M92.5 204.6h0M90.6 208.3h0M93.8 205.3h0M90.5 209.5h0M95.4 204.8h0M96.5 202.6h0M94.9 202.9h0M96.1 203.8h0M94.7 207.4h0M90.6 206.3h0M91.2 207.8h0M91.2 205.2h0M93.1 207.9h0M90.2 206.2h0M91.8 204.7h0M90.8 205.8h0M92.7 202.4h0M93.0 203.0h0M94.2 209.9h0M90.3 206.1h0M92.8 207.6h0M90.8 202.4h0M88.7 207.0h0M94.2 207.4h0M91.9 207.2h0M90.8 208.8h0M92.5 204.2h0M94.4 208.7h0M90.1 203.7h0M89.7 204.0h0M93.0 206.2h0M92.7 206.0h0M96.1 204.1h0M88.4 202.0h0M93.3 204.0h0M92.5 206.5h0M93.4 202.1h0M90.4 206.3h0M93.2 207.8h0M90.6 201.9h0M95.3 201.5h0M90.6 207.0h0M91.4 211.1h0M93.9 206.4h0M93.0 210.1h0M94.1 203.7h0M95.5 201.3h0M91.6 206.5h0M92.9 203.5h0M90.7 206.9h0M91.1 205.1h0M95.7 205.0h0M92.8 205.8h0M90.5 208.7h0M91.6 208.6h0M91.5 205.0h0M91.0 204.9h0M95.6 208.7h0M94.5 204.3h0M89.6 205.0h0M92.8 206.1h0M91.9 208.4h0M90.0 204.8h0" stroke="#333" stroke-opacity="0.42" stroke-width="0.8" stroke-linecap="round" fill="none"/>
<path d="M95.4 205.4h0M93.0 207.5h0M95.6 203.8h0M96.5 199.5h0M96.3 206.8h0M88.3 206.2h0M95.9 199.4h0M93.3 203.4h0M96.2 202.3h0M96.6 206.6h0M88.7 207.6h0M96.1 203.4h0M94.4 205.3h0M93.7 203.8h0M94.4 201.3h0M92.8 204.0h0M93.0 207.1h0M94.8 205.1h0M92.9 202.4h0M96.0 204.2h0M93.5 203.6h0M94.4 207.2h0M95.0 205.4h0M94.9 204.3h0M93.3 201.4h0M93.6 204.7h0M91.3 205.6h0M93.5 206.4h0M94.0 201.7h0M94.3 204.0h0M94.9 202.1h0M94.9 202.7h0M94.5 202.9h0M93.6 203.8h0M94.5 203.3h0M92.4 204.6h0M93.9 201.5h0M91.9 202.0h0M94.1 203.2h0M91.6 205.9h0M91.5 203.1h0M94.5 205.4h0M95.1 202.7h0M95.4 203.1h0M95.3 201.9h0M91.6 205.9h0M94.2 201.4h0M94.8 202.9h0M96.1 207.9h0M96.2 201.6h0" stroke="#333" stroke-opacity="0.42" stroke-width="0.8" stroke-linecap="round" fill="none"/>
<ellipse cx="93.3" cy="205.2" rx="3.6" ry="1.6" transform="rotate(-35 93.3 205.2)" fill="#000" fill-opacity="0.85" filter="url(#f0_7)"/>
<path d="M95.6 193.6h0M80.5 196.9h0M70.0 200.4h0M84.7 197.9h0M77.8 195.3h0M83.1 194.3h0M91.8 213.7h0M80.8 211.1h0M84.6 196.5h0M78.0 195.9h0M83.7 204.9h0M89.9 198.0h0M71.5 202.4h0M79.3 189.0h0M78.8 204.8h0M75.1 210.3h0M76.2 196.8h0M76.8 201.4h0M90.2 196.2h0M66.3 203.3h0M88.1 209.2h0M73.7 211.3h0M88.4 202.6h0M74.4 197.1h0M74.6 207.9h0M85.0 206.9h0M83.6 212.2h0M70.2 200.4h0M78.4 199.4h0M82.4 195.9h0M90.7 191.3h0M73.2 192.5h0M70.4 206.6h0M87.3 198.9h0M90.0 203.3h0M76.9 201.7h0M87.3 212.1h0M78.5 203.8h0M88.0 207.2h0M86.8 206.6h0M72.5 201.1h0M65.1 203.7h0M83.1 202.4h0M81.9 193.1h0M75.8 201.1h0M82.6 195.8h0M80.3 197.0h0M69.8 199.3h0M75.8 207.1h0M94.3 202.3h0M79.6 198.1h0M67.8 200.4h0M83.7 199.3h0M82.5 203.5h0M82.4 203.5h0M75.3 202.5h0M80.0 207.8h0M72.5 210.4h0M80.8 198.3h0M82.3 201.7h0M80.4 203.8h0M75.3 192.2h0M88.0 199.8h0M65.8 211.3h0M76.6 205.3h0M72.4 202.2h0M68.7 207.4h0M85.9 194.3h0M86.9 205.7h0M88.4 195.9h0M74.8 195.6h0M71.1 204.8h0M83.7 208.5h0M84.1 198.8h0M71.2 212.1h0M83.4 200.6h0M72.2 196.6h0M86.5 194.5h0M87.7 203.8h0M77.0 192.3h0M87.0 208.5h0M73.6 195.1h0M91.6 200.2h0M77.8 209.1h0M80.1 204.1h0M77.8 197.4h0M83.1 195.8h0M66.0 200.7h0M93.9 205.5h0M96.3 200.0h0M78.7 204.4h0M74.5 206.7h0M78.4 203.2h0M74.5 201.6h0M90.3 198.3h0M76.4 203.7h0M89.5 198.6h0M70.3 193.9h0M71.4 209.2h0M81.7 203.9h0M91.6 201.0h0M85.7 197.4h0M68.6 207.1h0M81.8 204.5h0M72.6 201.9h0M84.2 208.4h0M80.1 202.1h0M64.3 208.8h0M79.5 209.1h0M80.8 199.1h0M85.6 199.0h0M79.1 210.7h0M90.7 200.2h0M89.9 204.5h0M87.1 200.4h0M83.1 203.3h0M87.3 202.2h0M77.2 201.5h0M85.0 194.8h0M82.7 205.4h0M83.2 199.2h0M81.3 198.4h0M90.2 197.4h0M66.3 196.8h0M84.8 201.8h0M76.6 194.3h0M79.9 196.5h0M76.3 202.1h0M75.7 204.0h0M75.1 199.6h0M81.5 209.7h0M75.6 202.2h0M90.8 204.3h0M67.8 203.3h0M76.3 206.5h0M87.0 197.1h0M83.2 212.0h0M77.0 199.2h0M94.8 198.6h0M84.9 193.2h0M85.8 204.5h0M77.2 199.2h0M68.8 205.6h0M93.6 204.0h0M90.7 203.7h0M72.7 195.1h0M87.7 201.0h0M90.3 198.0h0M74.8 205.0h0M75.6 192.7h0M75.9 197.1h0M71.8 199.7h0M92.6 212.9h0M96.6 196.1h0M91.9 198.9h0M84.8 196.7h0M79.7 191.8h0M86.5 196.9h0M83.2 194.1h0M79.7 206.8h0M85.2 189.3h0M88.1 192.4h0M85.0 203.6h0M76.1 200.3h0M80.3 203.7h0M91.3 207.4h0M86.8 211.8h0M75.6 212.5h0M80.5 205.8h0M81.0 201.8h0M74.4 204.7h0M81.8 201.2h0M88.0 198.9h0M82.2 202.3h0M94.3 204.4h0M72.3 199.2h0M83.0 205.8h0M90.2 198.5h0M95.6 206.9h0M96.1 199.8h0M85.5 191.6h0M66.0 200.4h0M89.3 206.0h0M82.2 207.1h0M88.5 208.8h0M67.4 198.9h0M72.7 196.7h0M95.4 193.4h0M74.4 200.1h0M89.2 197.2h0M89.0 203.1h0M74.1 188.8h0M72.8 195.5h0M95.5 194.6h0M73.1 204.8h0M81.6 195.8h0M92.4 204.6h0M83.7 196.4h0M72.4 190.9h0M85.7 202.7h0M74.1 202.6h0M67.8 207.1h0M77.8 199.0h0M87.3 199.4h0M91.2 202.5h0M92.2 200.0h0M64.6 212.0h0M68.3 209.5h0M82.8 192.9h0M83.5 205.9h0M73.2 202.9h0M74.6 196.6h0M77.9 209.2h0M87.9 199.9h0M81.4 201.9h0M84.7 201.7h0M68.0 208.9h0M72.0 187.8h0M86.9 193.2h0M80.7 200.8h0" stroke="#777" stroke-opacity="0.4" stroke-width="0.7" stroke-linecap="round" fill="none"/>
<path d="M74.2 219.6h0M77.3 217.2h0M70.6 217.2h0M69.8 218.2h0M93.0 220.9h0M84.2 214.1h0M90.1 220.7h0M80.2 217.1h0M90.7 214.9h0M89.8 212.3h0M80.2 221.9h0M73.9 219.7h0M81.0 213.9h0M73.8 221.3h0M91.6 216.3h0M91.1 216.0h0M82.4 218.0h0M67.7 218.9h0M76.2 210.2h0M71.9 215.6h0M71.8 215.2h0M73.2 211.0h0M88.8 218.2h0M82.5 217.3h0M80.6 217.3h0M69.3 213.7h0M80.7 220.9h0M82.3 222.6h0M66.6 217.3h0M73.9 221.5h0M87.2 217.3h0M70.2 217.7h0M69.8 222.5h0M85.8 221.4h0M83.5 211.1h0M87.9 218.3h0M56.6 218.3h0M89.9 222.9h0M69.9 220.3h0M83.3 217.5h0M77.2 219.5h0M85.7 219.9h0M76.0 214.2h0M93.0 221.7h0M74.4 217.9h0M87.9 213.0h0M82.7 216.0h0M82.1 216.8h0M81.8 212.9h0M67.4 213.8h0M88.9 217.7h0M91.3 212.2h0M74.1 222.2h0M72.2 212.7h0M72.7 217.0h0M79.9 221.8h0M93.1 222.5h0M85.7 216.6h0M75.1 213.8h0M92.5 221.6h0M80.9 215.4h0M86.6 219.4h0M81.5 214.7h0M82.4 216.4h0M87.3 219.7h0M84.3 216.8h0M95.0 220.2h0M92.5 220.4h0M86.5 219.1h0M69.5 212.8h0M70.8 219.8h0M89.0 218.5h0M80.9 223.3h0M76.1 212.9h0M64.8 217.1h0M86.9 220.1h0M77.8 220.4h0M79.5 215.9h0M76.3 220.2h0M89.4 214.8h0" stroke="#999" stroke-opacity="0.4" stroke-width="0.7" stroke-linecap="round" fill="none"/>
<path d="M70.3 189.2h0M67.7 192.0h0M85.0 182.1h0M79.7 192.7h0M62.9 187.8h0M85.9 196.9h0M91.4 187.3h0M65.9 200.9h0M87.6 181.9h0M90.2 198.0h0M75.4 180.8h0M71.8 187.2h0M69.4 191.7h0M90.2 182.9h0M85.3 186.8h0M92.6 181.2h0M87.2 180.6h0M82.2 187.9h0M90.7 172.9h0M66.8 201.3h0M83.8 204.3h0M69.9 190.0h0M85.9 204.9h0M79.5 183.7h0M87.0 187.0h0M72.7 195.3h0M61.4 178.3h0M93.3 183.2h0M76.8 191.6h0M91.0 193.1h0M70.6 182.6h0M90.3 186.9h0M73.8 196.4h0M91.2 208.9h0M69.5 181.2h0M73.2 191.4h0M75.3 198.7h0M53.7 197.2h0M73.7 185.4h0M85.6 189.9h0M70.1 202.4h0M85.6 183.3h0M82.0 177.4h0M68.0 185.1h0M83.6 189.0h0M72.4 174.7h0M63.6 203.3h0M83.6 180.3h0M91.6 193.2h0M76.0 182.1h0M91.1 191.1h0M96.0 191.5h0M74.3 182.3h0M73.1 190.4h0M82.5 193.8h0M84.4 177.9h0M78.0 179.0h0M84.7 175.4h0M74.3 179.8h0M74.0 185.5h0M94.7 185.5h0M66.0 185.1h0M87.3 193.3h0M82.3 207.1h0M90.8 188.9h0M91.8 175.2h0M78.4 179.7h0M81.7 203.5h0M75.2 203.3h0M70.1 201.7h0" stroke="#aaa" stroke-opacity="0.4" stroke-width="0.6" stroke-linecap="round" fill="none"/>
<path d="M21.5 231.4V212.9M21.5 231.4H47.9" stroke="#8a8a8a" stroke-width="1.3" fill="none"/>
<path d="M20.0 213.9L21.5 209.9L23.0 213.9Z" fill="#111"/>
<path d="M46.9 229.9L50.9 231.4L46.9 232.9Z" fill="#111"/>
<text x="18.80" y="223.40" font-size="5.3" text-anchor="middle" stroke-width="0.18" fill="#222" stroke="#222" transform="rotate(-90 18.80 223.40)" textLength="5.7" lengthAdjust="spacingAndGlyphs">Kit</text>
<text x="33.20" y="238.50" font-size="5.8" text-anchor="middle" stroke-width="0.18" fill="#222" stroke="#222" textLength="13.7" lengthAdjust="spacingAndGlyphs">CD71</text>
<rect x="113.1" y="150.9" width="58.30" height="53.10" fill="none" stroke="#a6a6a6" stroke-width="1"/>
<line x1="133.70" y1="150.90" x2="133.70" y2="204.00" stroke="#8e8e8e" stroke-width="1.1"/>
<line x1="113.10" y1="177.10" x2="171.40" y2="177.10" stroke="#8e8e8e" stroke-width="1.1"/>
<path d="M112.20 200.00H113.1M117.49 204.0V204.90M112.20 197.67H113.1M120.05 204.0V204.90M112.20 196.01H113.1M121.88 204.0V204.90M112.20 194.72H113.1M123.29 204.0V204.90M112.20 193.67H113.1M124.44 204.0V204.90M112.20 192.78H113.1M125.42 204.0V204.90M112.20 192.01H113.1M126.26 204.0V204.90M112.20 191.33H113.1M127.01 204.0V204.90M112.20 186.73H113.1M132.06 204.0V204.90M112.20 184.39H113.1M134.63 204.0V204.90M112.20 182.73H113.1M136.45 204.0V204.90M112.20 181.45H113.1M137.86 204.0V204.90M112.20 180.40H113.1M139.02 204.0V204.90M112.20 179.51H113.1M139.99 204.0V204.90M112.20 178.74H113.1M140.84 204.0V204.90M112.20 178.06H113.1M141.58 204.0V204.90M112.20 173.45H113.1M146.64 204.0V204.90M112.20 171.12H113.1M149.20 204.0V204.90M112.20 169.46H113.1M151.03 204.0V204.90M112.20 168.17H113.1M152.44 204.0V204.90M112.20 167.12H113.1M153.59 204.0V204.90M112.20 166.23H113.1M154.57 204.0V204.90M112.20 165.46H113.1M155.41 204.0V204.90M112.20 164.78H113.1M156.16 204.0V204.90M112.20 160.18H113.1M161.21 204.0V204.90M112.20 157.84H113.1M163.78 204.0V204.90M112.20 156.18H113.1M165.60 204.0V204.90M112.20 154.90H113.1M167.01 204.0V204.90M112.20 153.85H113.1M168.17 204.0V204.90M112.20 152.96H113.1M169.14 204.0V204.90M112.20 152.19H113.1M169.99 204.0V204.90M112.20 151.51H113.1M170.73 204.0V204.90M111.60 204.00H113.1M113.10 204.0V205.50M111.60 190.72H113.1M127.67 204.0V205.50M111.60 177.45H113.1M142.25 204.0V205.50M111.60 164.18H113.1M156.82 204.0V205.50M111.60 150.90H113.1M171.40 204.0V205.50" stroke="#999" stroke-width="0.5" fill="none"/>
<text x="111.20" y="191.62" font-size="2.7" text-anchor="end" stroke-width="0" fill="#777" stroke="#777">10<tspan font-size="1.9" dy="-1">1</tspan></text>
<text x="127.38" y="208.10" font-size="2.7" text-anchor="middle" stroke-width="0" fill="#777" stroke="#777">10<tspan font-size="1.9" dy="-1">1</tspan></text>
<text x="111.20" y="178.35" font-size="2.7" text-anchor="end" stroke-width="0" fill="#777" stroke="#777">10<tspan font-size="1.9" dy="-1">2</tspan></text>
<text x="141.95" y="208.10" font-size="2.7" text-anchor="middle" stroke-width="0" fill="#777" stroke="#777">10<tspan font-size="1.9" dy="-1">2</tspan></text>
<text x="111.20" y="165.08" font-size="2.7" text-anchor="end" stroke-width="0" fill="#777" stroke="#777">10<tspan font-size="1.9" dy="-1">3</tspan></text>
<text x="156.52" y="208.10" font-size="2.7" text-anchor="middle" stroke-width="0" fill="#777" stroke="#777">10<tspan font-size="1.9" dy="-1">3</tspan></text>
<text x="111.20" y="151.80" font-size="2.7" text-anchor="end" stroke-width="0" fill="#777" stroke="#777">10<tspan font-size="1.9" dy="-1">4</tspan></text>
<text x="171.10" y="208.10" font-size="2.7" text-anchor="middle" stroke-width="0" fill="#777" stroke="#777">10<tspan font-size="1.9" dy="-1">4</tspan></text>
<text x="114.00" y="153.90" font-size="2.4" text-anchor="start" stroke-width="0" fill="#666" stroke="#666">Q</text>
<text x="115.40" y="158.00" font-size="2.9" text-anchor="start" stroke-width="0" fill="#444" stroke="#444">0.1%</text>
<text x="134.60" y="153.90" font-size="2.4" text-anchor="start" stroke-width="0" fill="#666" stroke="#666">Q</text>
<text x="136.00" y="158.00" font-size="2.9" text-anchor="start" stroke-width="0" fill="#444" stroke="#444"></text>
<text x="114.00" y="180.10" font-size="2.4" text-anchor="start" stroke-width="0" fill="#666" stroke="#666">Q</text>
<text x="115.40" y="184.20" font-size="2.9" text-anchor="start" stroke-width="0" fill="#444" stroke="#444">0.0%</text>
<text x="134.60" y="180.10" font-size="2.4" text-anchor="start" stroke-width="0" fill="#666" stroke="#666">Q</text>
<text x="136.00" y="184.20" font-size="2.9" text-anchor="start" stroke-width="0" fill="#444" stroke="#444">0.0%</text>
<ellipse cx="144" cy="152.6" rx="6.5" ry="1.5" transform="rotate(0 144 152.6)" fill="#000" fill-opacity="0.9" filter="url(#f0_8)"/>
<path d="M149.8 153.3h0M144.8 153.5h0M145.1 153.2h0M138.3 152.9h0M144.6 151.8h0M146.7 156.9h0M134.4 152.5h0M142.4 153.5h0M144.6 152.1h0M143.8 153.5h0M143.5 156.5h0M134.9 154.6h0M142.0 152.3h0M136.1 152.9h0M143.5 152.2h0M142.0 155.2h0M148.6 154.5h0M148.5 156.4h0M151.4 155.7h0M145.6 154.2h0M143.9 155.9h0M142.4 157.6h0M148.5 152.9h0M139.7 152.9h0M158.3 151.9h0M149.4 153.6h0M142.3 154.7h0M155.3 154.1h0M143.6 153.8h0M147.9 152.6h0M144.7 154.5h0M142.0 154.2h0M145.9 154.9h0M138.3 152.5h0M141.5 155.8h0M136.6 157.2h0M138.7 153.8h0M152.3 156.6h0M141.9 152.9h0M155.2 151.6h0M153.1 154.2h0M144.6 156.0h0M146.8 151.9h0M135.1 153.5h0M147.0 156.1h0M147.6 156.4h0M148.6 153.9h0M146.5 154.3h0M140.3 153.3h0M144.7 152.6h0M146.9 154.5h0M149.0 152.7h0M135.3 157.8h0M147.1 152.7h0M152.6 156.1h0M141.8 153.0h0M146.7 153.3h0M140.3 156.3h0M135.5 155.3h0M157.5 154.8h0M135.9 155.9h0M141.6 155.9h0M150.9 153.9h0M154.4 155.4h0M141.2 151.6h0M158.3 152.7h0M146.4 153.3h0M143.2 153.3h0M149.7 152.5h0M134.9 151.4h0M143.8 154.0h0M148.2 152.8h0M147.1 153.8h0M153.8 153.4h0M144.8 154.6h0M151.1 151.7h0M141.2 153.0h0M150.3 153.5h0M163.6 155.9h0M155.8 156.5h0M152.9 154.3h0M137.0 153.6h0M148.4 155.4h0M145.0 152.5h0M148.5 152.0h0M143.6 155.0h0M135.6 154.2h0M136.8 153.3h0M148.2 153.4h0M149.3 153.7h0M142.8 154.4h0M142.6 153.8h0M150.1 152.4h0M140.9 156.6h0M146.1 155.9h0M135.4 151.6h0M146.7 155.1h0M147.0 153.4h0M144.7 154.4h0M136.3 153.2h0M151.6 152.1h0M141.2 153.0h0M138.4 154.4h0M137.0 154.6h0M140.1 155.0h0M138.8 154.4h0M146.6 153.3h0M153.5 153.8h0M138.8 154.8h0M139.2 152.5h0M144.1 153.9h0M142.5 155.7h0M143.1 154.1h0M144.3 155.0h0M138.2 153.9h0M145.1 157.1h0M150.1 155.3h0M153.5 153.2h0M140.7 153.8h0M153.0 154.7h0M153.9 155.0h0M140.6 151.5h0M142.0 152.9h0M138.7 152.4h0M144.0 158.1h0M143.6 152.5h0M144.7 155.3h0M139.2 152.7h0M148.0 156.4h0M137.0 157.7h0M149.1 153.0h0M141.7 152.9h0M136.9 155.0h0M140.4 152.1h0M147.0 153.7h0M140.6 153.0h0M141.1 156.1h0M149.9 152.1h0M143.8 156.2h0M142.3 156.9h0M146.6 154.8h0M146.0 154.6h0M146.8 154.5h0M141.0 155.2h0M144.4 151.5h0M138.0 153.8h0M143.9 159.0h0M135.0 153.0h0M140.5 154.6h0M152.2 156.6h0" stroke="#222" stroke-opacity="0.45" stroke-width="0.8" stroke-linecap="round" fill="none"/>
<path d="M134.5 173.4h0M137.4 169.2h0M135.0 174.1h0M136.8 164.9h0M136.4 157.8h0M138.8 167.3h0M134.9 163.1h0M137.0 170.8h0M136.6 171.3h0M138.1 153.1h0M136.3 162.2h0M138.4 166.2h0M136.8 173.6h0M138.5 156.6h0M135.3 167.2h0M141.2 163.7h0M136.6 166.8h0M138.9 164.4h0M137.7 162.1h0M135.7 159.6h0M138.6 161.2h0M138.3 167.8h0M134.6 156.7h0M136.6 170.5h0M143.2 175.5h0M140.3 167.6h0M136.1 168.6h0M137.0 169.2h0M134.5 157.6h0M135.4 164.7h0M137.9 162.6h0M137.9 169.6h0M139.2 160.1h0M141.6 168.4h0M139.2 165.7h0M139.1 172.4h0M137.3 161.4h0M136.6 161.9h0M135.3 153.5h0M135.8 167.2h0M135.8 159.8h0M138.0 168.1h0M135.9 167.1h0M134.6 170.9h0M134.6 162.7h0M137.3 162.1h0M140.7 153.1h0M137.3 156.4h0M137.8 156.1h0M138.4 168.6h0M141.2 173.2h0M135.9 171.4h0M135.9 164.2h0M135.8 153.0h0M136.4 168.6h0M137.3 154.3h0M135.4 169.6h0M139.7 175.9h0M135.8 170.2h0M138.7 160.6h0M136.1 158.3h0M139.7 156.0h0M134.8 162.7h0M137.7 159.3h0M138.4 167.3h0M137.7 164.6h0M138.1 157.0h0M134.3 169.8h0M141.7 173.4h0M138.1 167.3h0M135.3 156.1h0M138.3 154.9h0M137.7 164.0h0M138.8 165.3h0M137.3 161.0h0M138.7 172.1h0M140.4 158.2h0M134.7 169.8h0M137.8 154.6h0M135.6 175.7h0M135.9 158.0h0M142.3 165.7h0M136.4 157.1h0M137.8 161.8h0M134.9 174.4h0M138.1 158.9h0M140.6 164.6h0M138.2 166.0h0M139.9 169.2h0M136.2 169.9h0M136.0 165.9h0M141.0 157.8h0M134.5 162.3h0M135.8 173.9h0M140.9 161.9h0M137.5 162.5h0M138.6 169.5h0M138.8 170.2h0M141.7 163.8h0M138.7 163.7h0M137.1 166.5h0M136.9 167.4h0M134.9 164.0h0M135.5 157.0h0M135.3 161.6h0M136.6 154.3h0M136.4 157.3h0M135.0 166.3h0M139.7 167.0h0M135.8 162.0h0M140.3 153.9h0M139.8 154.8h0M135.4 165.3h0M136.5 176.4h0M138.2 164.7h0M139.3 165.3h0M135.0 172.7h0M140.7 173.7h0M136.0 170.2h0M139.9 168.4h0M138.1 163.7h0M137.0 166.6h0M138.8 163.2h0M134.8 162.5h0M141.8 160.3h0M139.6 165.8h0M138.8 163.2h0M134.8 171.8h0M137.3 176.0h0M136.4 162.4h0M137.8 163.7h0M136.2 158.9h0M137.6 167.2h0M141.5 164.8h0M142.6 162.0h0M135.0 163.9h0M136.5 154.7h0M138.4 159.0h0M140.1 166.3h0M135.7 163.2h0M139.4 161.5h0M138.0 171.6h0M134.8 161.0h0M138.1 165.1h0M136.7 161.4h0M140.3 154.0h0M137.1 165.6h0M137.1 155.5h0M136.7 166.0h0M135.3 167.1h0M137.2 167.7h0M136.6 161.9h0M137.5 172.4h0M139.2 164.5h0M135.9 172.3h0M138.3 171.1h0M136.3 159.1h0M137.5 160.7h0M139.8 170.9h0M140.3 172.1h0M135.8 159.1h0M139.4 171.9h0M137.1 157.1h0M135.0 160.3h0M138.1 172.2h0M140.2 164.7h0M136.2 169.4h0M134.2 156.6h0M137.1 175.7h0M139.5 165.0h0M139.5 162.2h0M137.7 171.2h0M137.9 164.7h0M136.0 172.5h0M136.9 155.1h0M140.4 160.6h0M138.0 165.0h0M139.6 166.7h0M140.0 166.4h0M135.9 161.5h0M138.6 159.3h0M139.3 163.4h0M134.7 159.0h0M138.9 165.1h0M136.3 165.0h0M136.0 174.1h0M137.4 161.9h0M137.5 158.2h0M134.4 163.9h0M141.9 157.4h0M136.7 154.2h0M137.4 166.5h0M138.8 155.9h0M135.5 160.6h0M136.5 164.7h0M135.8 170.5h0M143.3 173.0h0M140.8 157.6h0M139.6 165.2h0M140.1 172.3h0M138.6 153.5h0M137.3 161.6h0M138.1 165.3h0M139.6 154.0h0M135.2 164.5h0M137.8 162.2h0M136.9 165.4h0M139.6 164.2h0M137.6 152.5h0M138.0 164.3h0M137.0 160.0h0M136.0 170.7h0M137.9 164.8h0M135.8 166.5h0M139.9 164.9h0M136.1 156.9h0M137.2 158.7h0M136.7 155.9h0M134.3 169.9h0M138.0 166.5h0M136.5 168.3h0M140.8 168.4h0M136.6 155.4h0M138.1 175.8h0M138.6 156.4h0M137.5 173.9h0M135.4 168.4h0M140.0 176.3h0M137.9 169.8h0M136.1 164.9h0M136.0 173.3h0M136.9 165.2h0M141.4 163.5h0M137.9 167.4h0M137.6 175.1h0M137.3 166.0h0M136.7 165.0h0M136.9 171.9h0M137.0 165.5h0M136.9 170.2h0M135.8 171.5h0M135.6 169.8h0M141.7 166.6h0M136.8 156.9h0M138.8 165.1h0M139.2 160.5h0M138.0 162.7h0M138.6 169.1h0M134.2 157.9h0M134.6 158.0h0M136.3 166.8h0M141.7 166.4h0M140.6 153.6h0M140.8 170.5h0M138.1 170.7h0M139.0 153.0h0M136.8 174.1h0M136.2 160.5h0M136.2 167.2h0M137.5 160.7h0M138.3 169.3h0M134.7 157.3h0M137.0 160.2h0M135.5 164.1h0M137.1 168.9h0M139.1 168.0h0M139.8 158.3h0M138.5 167.6h0M134.4 160.3h0M138.1 165.5h0M140.8 170.8h0M137.2 174.3h0M134.8 163.8h0M139.4 162.7h0M134.2 169.1h0M137.4 156.4h0M136.3 155.2h0M143.4 160.3h0M137.1 160.1h0M134.6 161.9h0" stroke="#333" stroke-opacity="0.45" stroke-width="0.8" stroke-linecap="round" fill="none"/>
<path d="M144.0 170.4h0M144.4 169.3h0M137.7 160.4h0M161.4 158.6h0M144.2 155.5h0M140.2 153.9h0M148.1 157.6h0M142.3 161.1h0M136.9 161.4h0M142.2 162.6h0M141.1 160.2h0M145.6 165.7h0M139.6 165.8h0M138.1 158.9h0M143.6 160.9h0M142.1 165.5h0M139.5 169.0h0M145.7 160.1h0M144.3 165.5h0M139.0 163.5h0M148.3 158.6h0M138.8 153.7h0M145.1 155.2h0M155.3 163.4h0M136.5 158.3h0M150.6 164.0h0M138.0 166.1h0M140.7 173.1h0M140.3 163.5h0M145.8 157.4h0M142.2 166.9h0M145.5 159.6h0M145.2 170.4h0M147.6 162.8h0M143.7 157.1h0M146.6 156.4h0M145.2 153.8h0M147.4 155.7h0M142.9 163.4h0M141.4 160.0h0M148.2 170.5h0M146.3 165.6h0M140.7 160.6h0M142.0 173.5h0M142.0 152.9h0M135.3 152.4h0M149.4 157.7h0M152.6 163.8h0M144.9 163.8h0M146.9 165.5h0M138.2 156.7h0M140.3 160.6h0M141.8 152.7h0M139.6 170.6h0M153.5 154.9h0M144.9 159.8h0M138.8 164.2h0M142.7 169.9h0M145.3 158.2h0M147.2 155.8h0M147.4 164.0h0M134.3 158.8h0M144.6 164.5h0M143.8 159.9h0M141.3 158.3h0M143.0 153.7h0M146.2 158.1h0M145.6 157.0h0M145.0 160.8h0M147.4 162.7h0M147.6 159.0h0M142.7 158.5h0M136.8 159.3h0M148.4 164.6h0M138.8 161.8h0M146.7 151.9h0M144.7 162.0h0M146.7 161.5h0M152.8 157.7h0M149.3 167.5h0M143.4 153.2h0M149.8 159.8h0M145.6 162.8h0M147.7 166.0h0M136.0 151.7h0M143.7 160.1h0M146.8 159.2h0M142.1 172.0h0M149.8 166.9h0M148.1 155.3h0M142.6 159.6h0M137.6 154.9h0M143.8 152.8h0M145.7 162.8h0M141.8 158.0h0M146.0 162.8h0M144.8 152.8h0M135.0 172.1h0M139.8 157.8h0M139.4 164.7h0M141.0 157.1h0M139.2 157.4h0M135.2 161.6h0M148.9 160.9h0M140.4 167.5h0M145.4 153.9h0M140.2 156.4h0M142.8 167.2h0M139.5 159.1h0M143.6 153.0h0M140.6 163.6h0M146.5 158.3h0M149.4 163.7h0M152.7 161.8h0M141.0 155.1h0M135.9 163.3h0M145.5 164.8h0M141.0 158.6h0M143.8 164.5h0M150.0 161.7h0M137.1 161.4h0M141.9 166.6h0M148.3 157.3h0M147.7 160.1h0M145.3 167.9h0M137.3 159.6h0M150.6 155.5h0M144.1 160.8h0M140.9 152.3h0M139.6 154.2h0M148.3 161.5h0M146.5 153.0h0M145.5 160.8h0M148.2 155.8h0M147.0 168.1h0M151.9 154.5h0M147.8 163.5h0M144.7 154.9h0M149.2 169.4h0M142.8 159.3h0M148.9 163.0h0M149.6 157.6h0M144.7 158.0h0M140.2 158.3h0M141.6 163.0h0M141.5 160.4h0M139.0 152.8h0M150.1 154.2h0M152.0 165.5h0M140.9 160.1h0M142.1 156.5h0M149.2 159.3h0M147.8 156.0h0M139.6 167.8h0M141.6 153.5h0M142.2 166.2h0M142.2 155.8h0M146.1 165.8h0M142.0 158.1h0M141.2 175.9h0M142.1 170.3h0M142.3 162.4h0M143.3 158.1h0M141.0 152.0h0M135.7 161.0h0M139.9 159.5h0M142.1 157.0h0M139.4 170.9h0M137.6 157.0h0M141.6 153.2h0M138.3 165.1h0M147.6 160.8h0M159.0 164.9h0M149.1 155.2h0M148.4 169.9h0M141.1 170.6h0M139.0 153.4h0M142.8 155.3h0M146.2 153.5h0M142.9 166.2h0M141.7 161.8h0M148.4 153.6h0M136.7 160.5h0M144.4 158.4h0M138.2 167.1h0M137.3 158.5h0M142.8 164.3h0M140.8 155.2h0M153.0 155.1h0M147.0 159.1h0M140.7 159.7h0M141.8 161.8h0M143.4 154.3h0M141.1 173.7h0M152.1 163.8h0M144.2 158.2h0M149.9 157.4h0M139.0 164.1h0M138.2 155.4h0M142.7 160.7h0M144.3 151.5h0M141.9 158.0h0M152.5 165.9h0M139.3 165.1h0M146.2 159.3h0M141.8 158.4h0M135.4 156.3h0M147.6 168.5h0M152.2 157.8h0M141.7 152.6h0M137.9 153.5h0M145.0 164.9h0M138.5 170.6h0M143.8 155.1h0M144.7 159.9h0M147.1 162.0h0M153.8 166.9h0M139.9 164.6h0M146.8 154.1h0M139.3 155.3h0M142.0 167.2h0M140.3 160.4h0M146.6 165.7h0M144.6 153.9h0M153.9 165.1h0M149.7 169.5h0M150.0 162.4h0M145.4 163.7h0M135.6 164.8h0M138.2 162.5h0M138.0 164.2h0M140.6 174.6h0M144.0 163.0h0M138.6 158.3h0M142.7 158.3h0M140.9 154.9h0M146.8 157.8h0M139.0 162.1h0M139.0 159.0h0M140.5 154.6h0M141.9 155.2h0M136.9 162.1h0M141.6 151.4h0M141.1 161.1h0M145.1 162.2h0M144.3 163.5h0M140.6 155.3h0M146.1 157.6h0M143.1 163.8h0M147.7 167.2h0M139.6 157.8h0M145.8 151.6h0M136.8 163.6h0M140.0 154.6h0M147.0 163.1h0M147.6 158.1h0M141.6 158.0h0M139.6 164.1h0M139.2 159.6h0M143.7 163.0h0M140.7 153.4h0M155.3 155.8h0M143.6 158.9h0M152.4 171.9h0M147.9 154.1h0M139.1 155.6h0M140.5 161.5h0M139.2 158.6h0M150.3 168.4h0M141.2 167.6h0M141.4 171.1h0M144.8 168.4h0M138.8 158.2h0M148.1 163.3h0M143.9 163.7h0M139.9 170.2h0M143.8 168.5h0M145.0 160.5h0M141.5 153.2h0M147.3 164.4h0M147.6 157.8h0M138.1 157.8h0M141.5 159.9h0M147.9 154.7h0M140.7 164.0h0M147.5 172.9h0M145.6 155.1h0M137.9 155.4h0M143.4 161.5h0M142.7 156.4h0M142.1 159.6h0M146.0 160.5h0M139.1 153.2h0M150.3 159.5h0M142.2 159.9h0M148.6 158.2h0M143.9 158.6h0M145.9 154.1h0M144.1 166.0h0M148.9 163.6h0M144.5 169.2h0M146.5 168.1h0M137.2 153.6h0M147.0 158.5h0M140.9 154.5h0M150.3 153.1h0M143.6 151.9h0M142.2 173.1h0M155.0 157.1h0M138.1 169.5h0M144.8 153.7h0M136.0 166.5h0M139.5 153.8h0M143.9 158.9h0M148.6 160.6h0M150.9 166.6h0M151.8 166.5h0M143.4 163.2h0M137.3 164.3h0M136.8 159.6h0M138.0 161.5h0M142.1 157.3h0M143.4 152.5h0M141.6 162.2h0M148.2 164.1h0M150.3 151.8h0M146.4 169.1h0M145.0 153.6h0M145.0 157.0h0M139.9 166.2h0M142.2 153.5h0M139.8 171.4h0M138.9 163.9h0M143.9 166.8h0M141.7 154.5h0M139.9 154.0h0M155.8 161.1h0M141.5 167.3h0M146.3 159.0h0M146.1 161.6h0M148.6 169.6h0M141.5 159.8h0M142.2 167.1h0M145.0 164.6h0M147.5 156.3h0M143.7 168.1h0M147.6 164.7h0M141.7 157.9h0M138.9 158.4h0M142.8 151.7h0M148.8 155.6h0M144.3 163.5h0M147.8 162.4h0M141.8 166.6h0M147.5 154.5h0M141.8 168.2h0M139.0 164.8h0M135.7 158.3h0M147.7 170.0h0M145.3 164.4h0M134.7 171.0h0M155.1 163.5h0M143.4 161.5h0M143.2 156.5h0M143.0 159.3h0M146.3 164.0h0M147.9 163.4h0M138.4 168.1h0M144.7 156.9h0M152.2 153.7h0M137.4 157.1h0M145.1 164.6h0M143.6 163.9h0M139.7 156.5h0M143.7 152.2h0M144.0 157.7h0M146.4 154.1h0M140.5 156.7h0M141.3 154.2h0M141.8 152.2h0" stroke="#444" stroke-opacity="0.4" stroke-width="0.7" stroke-linecap="round" fill="none"/>
<ellipse cx="141" cy="160" rx="5" ry="5" transform="rotate(0 141 160)" fill="#666" fill-opacity="0.35" filter="url(#f1_5)"/>
<path d="M156.8 169.6h0M153.0 163.7h0M147.1 158.5h0M151.6 158.9h0M145.1 166.1h0M153.0 162.3h0M147.6 164.7h0M148.4 162.1h0M154.4 169.9h0M158.3 160.9h0M161.3 157.2h0M151.9 173.8h0M169.2 165.9h0M150.7 162.5h0M144.9 164.0h0M150.2 159.9h0M161.2 159.8h0M164.6 170.7h0M157.5 161.0h0M149.7 151.5h0M155.0 163.2h0M155.7 160.5h0M156.4 154.9h0M138.3 168.2h0M161.8 162.7h0M152.0 154.6h0M146.3 169.8h0M148.1 164.8h0M159.1 156.1h0M149.9 157.3h0M143.7 160.4h0M160.6 165.3h0M157.7 164.1h0M150.2 165.6h0M165.3 167.6h0M157.2 151.5h0M147.7 170.5h0M161.4 162.3h0M151.6 161.9h0M158.5 165.2h0M163.3 173.0h0M151.0 160.9h0M151.5 159.1h0M150.3 164.5h0M159.1 154.3h0M143.6 159.8h0M151.0 168.1h0M147.8 175.2h0M149.5 163.5h0M153.5 172.9h0M155.1 165.2h0M149.4 166.2h0M155.8 162.6h0M152.9 152.5h0M149.5 173.0h0M162.7 164.5h0M150.3 171.8h0M148.9 174.3h0M160.9 157.8h0M151.6 156.8h0M155.0 162.3h0M143.0 157.9h0M154.7 154.7h0M160.4 168.1h0M151.9 174.5h0M146.8 169.7h0M143.9 162.8h0M157.4 161.4h0M152.3 169.4h0M163.4 173.8h0M156.2 163.2h0M143.3 176.7h0M158.9 164.7h0M157.8 167.2h0M151.8 165.0h0M152.8 172.9h0M151.3 161.3h0M157.5 169.4h0M156.0 166.9h0M163.0 172.6h0M154.5 163.6h0M157.5 152.3h0M149.6 160.2h0M154.2 162.4h0M169.7 170.0h0M153.1 162.8h0M161.4 170.6h0M159.3 173.2h0M150.6 160.5h0M148.2 165.7h0M159.8 157.9h0M149.5 155.9h0M166.5 170.4h0M154.5 156.7h0M146.1 160.6h0M153.3 156.4h0M151.5 173.3h0M153.2 165.7h0M139.0 163.2h0M152.1 160.3h0" stroke="#999" stroke-opacity="0.4" stroke-width="0.6" stroke-linecap="round" fill="none"/>
<rect x="113.1" y="207.3" width="57.90" height="52.90" fill="none" stroke="#a6a6a6" stroke-width="1"/>
<line x1="133.50" y1="207.30" x2="133.50" y2="260.20" stroke="#8e8e8e" stroke-width="1.1"/>
<line x1="113.10" y1="233.50" x2="171.00" y2="233.50" stroke="#8e8e8e" stroke-width="1.1"/>
<path d="M112.20 256.22H113.1M117.46 260.2V261.10M112.20 253.89H113.1M120.01 260.2V261.10M112.20 252.24H113.1M121.81 260.2V261.10M112.20 250.96H113.1M123.22 260.2V261.10M112.20 249.91H113.1M124.36 260.2V261.10M112.20 249.02H113.1M125.33 260.2V261.10M112.20 248.26H113.1M126.17 260.2V261.10M112.20 247.58H113.1M126.91 260.2V261.10M112.20 242.99H113.1M131.93 260.2V261.10M112.20 240.67H113.1M134.48 260.2V261.10M112.20 239.01H113.1M136.29 260.2V261.10M112.20 237.73H113.1M137.69 260.2V261.10M112.20 236.68H113.1M138.84 260.2V261.10M112.20 235.80H113.1M139.81 260.2V261.10M112.20 235.03H113.1M140.65 260.2V261.10M112.20 234.36H113.1M141.39 260.2V261.10M112.20 229.77H113.1M146.41 260.2V261.10M112.20 227.44H113.1M148.96 260.2V261.10M112.20 225.79H113.1M150.76 260.2V261.10M112.20 224.51H113.1M152.17 260.2V261.10M112.20 223.46H113.1M153.31 260.2V261.10M112.20 222.57H113.1M154.28 260.2V261.10M112.20 221.81H113.1M155.12 260.2V261.10M112.20 221.13H113.1M155.86 260.2V261.10M112.20 216.54H113.1M160.88 260.2V261.10M112.20 214.22H113.1M163.43 260.2V261.10M112.20 212.56H113.1M165.24 260.2V261.10M112.20 211.28H113.1M166.64 260.2V261.10M112.20 210.23H113.1M167.79 260.2V261.10M112.20 209.35H113.1M168.76 260.2V261.10M112.20 208.58H113.1M169.60 260.2V261.10M112.20 207.91H113.1M170.34 260.2V261.10M111.60 260.20H113.1M113.10 260.2V261.70M111.60 246.97H113.1M127.57 260.2V261.70M111.60 233.75H113.1M142.05 260.2V261.70M111.60 220.53H113.1M156.53 260.2V261.70M111.60 207.30H113.1M171.00 260.2V261.70" stroke="#999" stroke-width="0.5" fill="none"/>
<text x="111.20" y="247.88" font-size="2.7" text-anchor="end" stroke-width="0" fill="#777" stroke="#777">10<tspan font-size="1.9" dy="-1">1</tspan></text>
<text x="127.27" y="264.30" font-size="2.7" text-anchor="middle" stroke-width="0" fill="#777" stroke="#777">10<tspan font-size="1.9" dy="-1">1</tspan></text>
<text x="111.20" y="234.65" font-size="2.7" text-anchor="end" stroke-width="0" fill="#777" stroke="#777">10<tspan font-size="1.9" dy="-1">2</tspan></text>
<text x="141.75" y="264.30" font-size="2.7" text-anchor="middle" stroke-width="0" fill="#777" stroke="#777">10<tspan font-size="1.9" dy="-1">2</tspan></text>
<text x="111.20" y="221.43" font-size="2.7" text-anchor="end" stroke-width="0" fill="#777" stroke="#777">10<tspan font-size="1.9" dy="-1">3</tspan></text>
<text x="156.22" y="264.30" font-size="2.7" text-anchor="middle" stroke-width="0" fill="#777" stroke="#777">10<tspan font-size="1.9" dy="-1">3</tspan></text>
<text x="111.20" y="208.20" font-size="2.7" text-anchor="end" stroke-width="0" fill="#777" stroke="#777">10<tspan font-size="1.9" dy="-1">4</tspan></text>
<text x="170.70" y="264.30" font-size="2.7" text-anchor="middle" stroke-width="0" fill="#777" stroke="#777">10<tspan font-size="1.9" dy="-1">4</tspan></text>
<text x="114.00" y="210.30" font-size="2.4" text-anchor="start" stroke-width="0" fill="#666" stroke="#666">Q</text>
<text x="115.40" y="214.40" font-size="2.9" text-anchor="start" stroke-width="0" fill="#444" stroke="#444">67.3%</text>
<text x="134.40" y="210.30" font-size="2.4" text-anchor="start" stroke-width="0" fill="#666" stroke="#666">Q</text>
<text x="135.80" y="214.40" font-size="2.9" text-anchor="start" stroke-width="0" fill="#444" stroke="#444">7.1% 61.82</text>
<text x="114.00" y="236.50" font-size="2.4" text-anchor="start" stroke-width="0" fill="#666" stroke="#666">Q</text>
<text x="115.40" y="240.60" font-size="2.9" text-anchor="start" stroke-width="0" fill="#444" stroke="#444">1.2%</text>
<text x="134.40" y="236.50" font-size="2.4" text-anchor="start" stroke-width="0" fill="#666" stroke="#666">Q</text>
<text x="135.80" y="240.60" font-size="2.9" text-anchor="start" stroke-width="0" fill="#444" stroke="#444">1.0%</text>
<path d="M119.8 230.3h0M120.8 227.1h0M118.5 230.9h0M131.3 219.4h0M126.3 218.5h0M132.8 226.3h0M127.9 231.0h0M123.1 229.1h0M137.8 220.2h0M130.5 223.0h0M127.7 221.4h0M138.3 228.3h0M124.3 230.8h0M135.2 213.9h0M126.8 223.1h0M127.7 226.7h0M131.9 228.8h0M133.6 228.7h0M136.6 227.2h0M125.1 230.0h0M123.8 223.7h0M140.2 220.6h0M123.2 216.9h0M128.6 230.0h0M125.5 224.4h0M135.9 219.7h0M125.9 226.7h0M129.2 231.2h0M131.2 223.8h0M125.4 226.2h0M137.1 219.0h0M128.0 217.1h0M131.6 227.8h0M136.2 223.0h0M132.2 225.4h0M139.2 231.0h0M127.2 221.8h0M131.2 223.5h0M133.7 227.1h0M127.9 223.6h0M126.8 219.7h0M127.5 221.3h0M131.0 225.0h0M123.9 221.6h0M126.7 222.9h0M128.9 229.4h0M130.4 217.3h0M136.8 228.6h0M135.3 223.4h0M122.5 220.6h0M129.3 226.9h0M119.1 224.3h0M139.8 219.8h0M131.2 220.9h0M118.8 230.3h0M134.2 218.7h0M117.3 231.2h0M126.5 227.0h0M121.3 228.1h0M127.1 231.5h0M131.1 229.1h0M122.6 217.1h0M135.3 226.7h0M123.3 218.7h0M126.2 229.3h0M135.2 219.9h0M122.9 224.6h0M136.1 226.2h0M119.1 222.8h0M117.0 228.2h0M147.7 229.0h0M119.2 227.3h0M130.0 227.2h0M121.4 220.9h0M124.0 224.5h0M118.0 232.6h0M115.3 223.5h0M139.2 224.9h0M136.8 221.6h0M125.5 227.0h0M128.9 223.8h0M117.0 231.8h0M141.0 226.6h0M132.3 221.5h0M130.2 227.8h0M131.8 229.7h0M118.5 218.4h0M134.3 222.4h0M131.4 224.5h0M127.9 223.4h0M128.6 232.3h0M126.4 226.7h0M137.4 226.1h0M126.4 228.3h0M122.5 229.9h0M129.9 224.9h0M129.9 227.0h0M127.3 223.6h0M121.9 228.2h0M136.8 219.6h0M123.1 226.1h0M122.4 232.0h0M134.7 225.3h0M133.9 222.1h0M117.7 231.6h0M128.0 217.3h0M133.9 230.2h0M132.1 224.0h0M132.6 228.1h0M127.4 225.2h0M129.1 223.6h0M140.2 214.6h0M116.1 225.6h0M133.2 220.7h0M128.5 224.5h0M126.1 218.9h0M127.2 223.2h0M135.9 224.9h0M118.4 226.1h0M134.3 229.1h0M132.2 222.7h0M128.8 212.2h0M122.6 223.6h0M123.4 231.8h0M130.4 226.2h0M128.8 229.0h0M131.2 220.9h0M131.3 218.9h0M135.2 214.5h0M123.8 222.3h0M131.5 231.4h0M137.3 222.8h0M126.9 231.8h0M133.6 222.5h0M140.9 214.7h0M119.8 229.5h0M135.6 231.2h0M118.2 232.6h0M133.8 218.8h0M122.4 222.4h0M134.6 226.9h0M132.1 225.0h0M133.6 222.1h0M134.3 227.0h0M137.0 223.7h0M130.3 228.7h0M114.7 223.7h0M137.9 221.1h0M120.5 227.1h0M127.4 226.8h0M126.0 232.8h0M127.9 216.5h0M121.0 230.4h0M128.6 223.2h0M128.6 226.6h0M121.5 230.1h0M139.9 215.5h0M123.7 232.2h0M138.6 225.8h0M124.2 227.8h0M128.8 224.4h0M133.1 229.2h0M131.3 224.0h0M132.7 223.8h0M137.5 225.7h0M136.0 211.2h0M127.9 224.3h0M124.0 228.8h0M132.6 226.4h0M124.0 220.8h0M132.9 226.6h0M143.0 222.7h0M125.4 221.0h0M142.6 213.7h0M131.1 228.5h0M134.4 229.9h0M120.2 226.6h0M126.1 220.1h0M129.6 224.5h0M124.8 228.1h0M125.2 221.5h0M129.6 217.8h0M134.9 220.1h0M127.7 221.2h0M142.3 225.6h0M142.9 222.5h0M134.7 218.7h0M134.8 219.6h0M124.4 220.3h0M129.4 227.5h0M125.0 221.4h0M135.8 226.7h0M129.5 229.6h0M131.6 218.3h0M123.3 218.1h0M122.9 231.4h0M123.8 230.7h0M125.1 215.9h0M128.5 226.4h0M119.9 221.5h0M124.8 222.9h0M123.9 217.2h0M140.7 228.5h0M124.4 230.0h0M124.8 232.8h0M122.7 228.3h0M137.3 223.7h0M122.3 220.6h0M131.3 224.4h0M136.0 222.2h0M123.4 228.0h0M127.5 226.2h0M144.6 219.8h0M129.1 223.9h0M121.5 224.0h0M115.6 230.5h0M114.3 223.3h0M117.3 220.5h0M139.5 226.5h0M125.8 212.8h0M125.7 221.6h0M116.9 230.9h0M136.2 223.8h0M117.6 228.2h0M125.0 222.1h0M117.6 220.6h0M125.2 232.8h0M129.4 229.9h0M143.2 230.4h0M118.1 231.5h0M127.1 227.2h0M146.1 224.3h0M120.8 226.8h0M132.8 224.0h0M133.8 228.6h0M130.2 232.1h0M122.4 222.8h0M124.5 219.9h0M137.5 224.7h0M118.3 232.6h0M132.3 221.4h0M129.1 222.0h0M127.4 225.8h0M128.6 220.1h0M122.0 231.4h0M126.3 230.0h0M121.7 222.1h0M133.2 224.5h0M131.6 221.9h0M129.0 232.7h0M131.0 223.9h0M130.1 228.3h0M124.0 229.9h0M117.6 221.3h0M129.5 225.7h0M133.4 226.1h0M134.3 226.9h0M142.9 214.1h0M136.1 227.2h0M133.9 214.6h0M131.5 226.7h0M133.4 217.7h0M127.2 224.3h0M126.7 225.9h0M122.7 218.8h0M128.0 226.4h0M116.8 211.9h0M122.2 225.6h0M133.2 221.9h0M123.3 231.5h0M134.5 221.5h0M129.8 220.4h0M137.2 218.9h0M120.3 220.1h0M138.1 213.2h0M121.6 228.6h0M135.5 222.0h0M128.0 226.1h0M133.1 222.8h0M128.8 225.1h0" stroke="#333" stroke-opacity="0.4" stroke-width="0.75" stroke-linecap="round" fill="none"/>
<ellipse cx="130.2" cy="228.6" rx="5.6" ry="3.9" transform="rotate(-20 130.2 228.6)" fill="#000" fill-opacity="1" filter="url(#f1_0)"/>
<ellipse cx="132.6" cy="223.5" rx="1.8" ry="4.5" transform="rotate(0 132.6 223.5)" fill="#111" fill-opacity="0.8" filter="url(#f0_8)"/>
<path d="M130.2 225.7h0M131.3 212.4h0M131.9 219.2h0M135.1 211.6h0M129.8 219.9h0M134.0 213.5h0M130.2 219.9h0M132.6 210.9h0M130.8 226.5h0M130.3 224.3h0M129.2 226.5h0M137.0 215.8h0M131.3 222.2h0M129.9 221.8h0M136.1 220.3h0M133.8 218.2h0M135.5 214.9h0M137.0 218.9h0M132.2 210.8h0M131.9 220.2h0M136.1 210.9h0M132.7 215.6h0M130.0 219.0h0M131.1 223.4h0M126.2 222.7h0M128.2 209.2h0M134.3 217.3h0M133.3 214.1h0M130.4 215.3h0M132.9 214.8h0M131.9 214.7h0M133.6 213.3h0M133.0 219.5h0M135.4 215.3h0M130.1 211.5h0M134.9 215.9h0M135.5 218.6h0M132.3 209.7h0M131.3 223.0h0M131.5 222.4h0M128.9 224.1h0M140.0 224.6h0M133.8 212.8h0M131.7 215.7h0M133.5 208.9h0M130.8 223.0h0M133.4 222.7h0M135.1 213.3h0M129.6 221.3h0M133.1 219.4h0M131.0 224.1h0M134.2 224.7h0M132.1 222.5h0M132.9 214.3h0M132.8 210.7h0M132.5 219.9h0M134.7 213.7h0M129.7 215.3h0M127.8 215.7h0M139.6 219.7h0M131.1 215.6h0M137.4 213.2h0M132.7 218.6h0M131.2 215.4h0M128.8 214.8h0M136.3 226.1h0M132.3 222.5h0M134.2 219.6h0M132.7 225.1h0M134.4 217.9h0M132.4 223.7h0M131.5 215.4h0M132.3 216.5h0M136.2 220.8h0M132.8 216.4h0M136.5 221.2h0M138.2 223.6h0M132.5 216.2h0M132.3 219.9h0M135.0 221.4h0" stroke="#333" stroke-opacity="0.4" stroke-width="0.7" stroke-linecap="round" fill="none"/>
<path d="M150.5 210.8h0M141.2 211.5h0M134.8 216.4h0M137.1 214.2h0M131.9 226.8h0M139.1 225.8h0M137.4 225.3h0M137.6 222.4h0M134.5 228.4h0M143.6 226.3h0M139.3 227.7h0M141.4 217.1h0M137.1 220.3h0M135.5 212.8h0M141.8 224.3h0M139.2 225.1h0M150.5 212.4h0M142.5 214.2h0M137.1 221.1h0M126.7 223.6h0M146.0 223.3h0M144.9 230.9h0M138.8 226.6h0M149.7 223.0h0M130.3 219.1h0M139.2 210.3h0M140.6 224.5h0M139.4 218.9h0M149.8 216.3h0M135.3 220.2h0M147.7 223.6h0M141.4 217.0h0M148.4 225.3h0M130.6 222.0h0M126.5 229.0h0M144.7 216.2h0M133.2 218.2h0M130.5 223.4h0M137.9 209.4h0M140.9 227.1h0M133.4 217.9h0M151.9 221.1h0M137.7 221.1h0M145.7 214.0h0M140.4 210.2h0M131.5 210.7h0M146.1 221.9h0M145.4 227.3h0M141.3 221.4h0M143.4 222.8h0M134.6 218.3h0M140.1 220.2h0M136.5 219.2h0M142.7 221.1h0M144.5 224.9h0M144.3 225.8h0M146.1 228.4h0M144.8 216.3h0M155.0 226.8h0M148.5 224.4h0M141.3 213.1h0M143.6 217.9h0M150.3 213.0h0M134.4 222.8h0M144.4 215.2h0M141.0 221.5h0M141.9 223.2h0M145.7 217.8h0M138.7 214.0h0M145.5 223.5h0M126.8 227.7h0M140.8 221.9h0M142.9 218.6h0M142.9 212.2h0M138.6 231.1h0M125.5 227.4h0M127.6 214.9h0M146.3 217.5h0M137.5 211.0h0M140.3 218.9h0M137.1 210.6h0M141.9 222.5h0M147.9 223.1h0M150.1 227.2h0M124.0 230.0h0M140.4 213.7h0M143.6 225.8h0M131.7 212.6h0M145.1 216.7h0M149.8 221.3h0M137.7 212.0h0M144.6 209.6h0M133.1 212.1h0M151.2 230.3h0M139.7 217.7h0M145.2 227.5h0M139.7 226.8h0M126.8 219.7h0M136.8 231.9h0M139.7 212.3h0M152.7 215.9h0M141.0 212.5h0M145.1 221.2h0M139.3 217.6h0M137.6 215.7h0M132.5 227.3h0M146.4 211.6h0M134.0 222.4h0M154.6 218.8h0M139.1 218.5h0M142.5 218.9h0M147.5 225.9h0M144.3 229.5h0M139.6 216.7h0M158.9 208.4h0M143.1 213.6h0M140.2 217.6h0M134.5 226.7h0M138.6 222.7h0M137.8 220.9h0M138.3 220.4h0M140.4 215.9h0M143.6 218.9h0M135.2 213.7h0M143.7 228.0h0M133.1 217.5h0M143.7 226.3h0M145.3 212.9h0M141.2 225.4h0M142.4 218.6h0M133.9 221.0h0M140.6 220.2h0M150.0 227.1h0M136.2 221.4h0M139.1 220.6h0M150.8 225.5h0M141.2 216.0h0M140.0 222.2h0M138.0 226.6h0M141.1 212.9h0M139.4 219.3h0M147.0 226.7h0M149.8 229.4h0M142.9 220.7h0M147.1 219.8h0M133.4 217.3h0M145.0 223.7h0M134.3 227.2h0M142.9 210.9h0M143.8 226.1h0" stroke="#777" stroke-opacity="0.4" stroke-width="0.6" stroke-linecap="round" fill="none"/>
<path d="M104.5 267.7V249.5M104.5 267.7H130" stroke="#8a8a8a" stroke-width="1.3" fill="none"/>
<path d="M103.0 250.5L104.5 246.5L106.0 250.5Z" fill="#111"/>
<path d="M129 266.2L133 267.7L129 269.2Z" fill="#111"/>
<text x="100.60" y="260.90" font-size="5.6" text-anchor="middle" stroke-width="0.18" fill="#222" stroke="#222" transform="rotate(-90 100.60 260.90)" textLength="13.1" lengthAdjust="spacingAndGlyphs">CD71</text>
<text x="114.50" y="274.30" font-size="5.6" text-anchor="middle" stroke-width="0.18" fill="#222" stroke="#222" textLength="20.5" lengthAdjust="spacingAndGlyphs">TER119</text>
<text x="182.60" y="209.30" font-size="7.0" text-anchor="middle" stroke-width="0.18" fill="#111" stroke="#111" transform="rotate(-90 182.60 209.30)" textLength="19.0" lengthAdjust="spacingAndGlyphs">Day 5</text>
<line x1="211.60" y1="220.90" x2="337.70" y2="220.90" stroke="#d6d6d6" stroke-width="0.8"/>
<text x="210.60" y="222.85" font-size="5.5" text-anchor="end" stroke-width="0.18" fill="#222" stroke="#222">0</text>
<text x="210.60" y="214.51" font-size="5.5" text-anchor="end" stroke-width="0.18" fill="#222" stroke="#222">0.2</text>
<text x="210.60" y="206.17" font-size="5.5" text-anchor="end" stroke-width="0.18" fill="#222" stroke="#222">0.4</text>
<text x="210.60" y="197.83" font-size="5.5" text-anchor="end" stroke-width="0.18" fill="#222" stroke="#222">0.6</text>
<text x="210.60" y="189.49" font-size="5.5" text-anchor="end" stroke-width="0.18" fill="#222" stroke="#222">0.8</text>
<text x="210.60" y="181.15" font-size="5.5" text-anchor="end" stroke-width="0.18" fill="#222" stroke="#222">1</text>
<text x="210.60" y="172.81" font-size="5.5" text-anchor="end" stroke-width="0.18" fill="#222" stroke="#222">1.2</text>
<text x="210.60" y="164.47" font-size="5.5" text-anchor="end" stroke-width="0.18" fill="#222" stroke="#222">1.4</text>
<text x="210.60" y="156.13" font-size="5.5" text-anchor="end" stroke-width="0.18" fill="#222" stroke="#222">1.6</text>
<text x="213.10" y="230.00" font-size="5.5" text-anchor="middle" stroke-width="0.18" fill="#222" stroke="#222">0</text>
<text x="235.65" y="230.00" font-size="5.5" text-anchor="middle" stroke-width="0.18" fill="#222" stroke="#222">1</text>
<text x="258.20" y="230.00" font-size="5.5" text-anchor="middle" stroke-width="0.18" fill="#222" stroke="#222">2</text>
<text x="280.75" y="230.00" font-size="5.5" text-anchor="middle" stroke-width="0.18" fill="#222" stroke="#222">3</text>
<text x="303.30" y="230.00" font-size="5.5" text-anchor="middle" stroke-width="0.18" fill="#222" stroke="#222">4</text>
<text x="325.85" y="230.00" font-size="5.5" text-anchor="middle" stroke-width="0.18" fill="#222" stroke="#222">5</text>
<text x="273.05" y="238.30" font-size="6.5" text-anchor="middle" stroke-width="0.18" fill="#222" stroke="#222" textLength="42.3" lengthAdjust="spacingAndGlyphs">Days in Culture</text>
<text x="197.00" y="188.20" font-size="5.0" text-anchor="middle" stroke-width="0.18" fill="#222" stroke="#222" transform="rotate(-90 197.00 188.20)" textLength="82.7" lengthAdjust="spacingAndGlyphs">Kit+CD71+TER119+ Cells (X10<tspan font-size="3.3" dy="-2">6</tspan><tspan dy="2">)</tspan></text>
<path d="M213.1 219.4C216.9 218.3 228.1 215.2 235.7 212.6C243.2 210.0 250.7 203.6 258.2 203.8C265.7 204.0 273.2 212.1 280.8 213.8C288.3 215.5 295.8 212.9 303.3 213.8C310.8 214.7 322.1 218.3 325.9 219.2" stroke="#333" stroke-width="1.15" fill="none"/>
<path d="M213.1 219.4C216.9 219.3 228.1 218.3 235.7 218.5C243.2 218.8 250.7 221.5 258.2 220.9C265.7 220.3 273.2 218.3 280.8 215.1C288.3 211.9 295.8 210.8 303.3 201.7C310.8 192.6 322.1 167.3 325.9 160.4" stroke="#555" stroke-width="1.1" stroke-dasharray="2.8 1.8" fill="none"/>
<path d="M324.65000000000003 153.7H327.05M325.85 153.7V167.3M324.65000000000003 167.3H327.05" stroke="#333" stroke-width="0.7" fill="none"/>
<path d="M302.1 198.5H304.5M303.3 198.5V204.5M302.1 204.5H304.5" stroke="#333" stroke-width="0.7" fill="none"/>
<circle cx="213.1" cy="219.4" r="1.9" fill="#fff" stroke="#333" stroke-width="0.8"/>
<circle cx="235.7" cy="212.6" r="1.9" fill="#fff" stroke="#333" stroke-width="0.8"/>
<circle cx="258.2" cy="203.8" r="1.9" fill="#fff" stroke="#333" stroke-width="0.8"/>
<circle cx="280.8" cy="213.8" r="1.9" fill="#fff" stroke="#333" stroke-width="0.8"/>
<circle cx="303.3" cy="213.8" r="1.9" fill="#fff" stroke="#333" stroke-width="0.8"/>
<circle cx="325.9" cy="219.2" r="1.9" fill="#fff" stroke="#333" stroke-width="0.8"/>
<rect x="211.6" y="217.9" width="3.0" height="3.0" fill="#000"/>
<rect x="234.2" y="217.0" width="3.0" height="3.0" fill="#000"/>
<rect x="256.7" y="219.4" width="3.0" height="3.0" fill="#000"/>
<rect x="279.2" y="213.6" width="3.0" height="3.0" fill="#000"/>
<rect x="301.5" y="199.9" width="3.6" height="3.6" fill="#000"/>
<rect x="324.1" y="158.6" width="3.6" height="3.6" fill="#000"/>
<path d="M235.65 205.95L235.65 207.85M234.83 206.43L236.47 207.38M236.47 206.43L234.83 207.38" stroke="#222" stroke-width="0.7" fill="none"/>
<path d="M258.20 197.85L258.20 199.75M257.38 198.33L259.02 199.28M259.02 198.33L257.38 199.28" stroke="#222" stroke-width="0.7" fill="none"/>
<path d="M302.15 193.05L302.15 194.95M301.33 193.53L302.97 194.47M302.97 193.53L301.33 194.47" stroke="#222" stroke-width="0.7" fill="none"/>
<path d="M304.45 193.05L304.45 194.95M303.63 193.53L305.27 194.47M305.27 193.53L303.63 194.47" stroke="#222" stroke-width="0.7" fill="none"/>
<path d="M323.55 148.65L323.55 150.55M322.73 149.12L324.37 150.07M324.37 149.12L322.73 150.07" stroke="#222" stroke-width="0.7" fill="none"/>
<path d="M325.85 148.65L325.85 150.55M325.03 149.12L326.67 150.07M326.67 149.12L325.03 150.07" stroke="#222" stroke-width="0.7" fill="none"/>
<path d="M328.15 148.65L328.15 150.55M327.33 149.12L328.97 150.07M328.97 149.12L327.33 150.07" stroke="#222" stroke-width="0.7" fill="none"/>
<line x1="222.00" y1="156.40" x2="231.50" y2="156.40" stroke="#333" stroke-width="0.9"/>
<circle cx="226.8" cy="156.4" r="1.5" fill="#fff" stroke="#333" stroke-width="0.8"/>
<text x="236.20" y="159.00" font-size="5.4" text-anchor="start" stroke-width="0.18" fill="#222" stroke="#222" textLength="38.9" lengthAdjust="spacingAndGlyphs">Epo at 20% O<tspan font-size="3.6" dy="1.26">2</tspan></text>
<line x1="222.00" y1="166.80" x2="231.50" y2="166.80" stroke="#333" stroke-width="0.9" stroke-dasharray="1.6 1"/>
<circle cx="226.8" cy="166.8" r="1.6" fill="#000"/>
<text x="236.20" y="169.00" font-size="5.4" text-anchor="start" stroke-width="0.18" fill="#222" stroke="#222" textLength="68.3" lengthAdjust="spacingAndGlyphs">Epo+SCF+BMP4 at 2% O<tspan font-size="3.6" dy="1.26">2</tspan></text>
<path d="M332.20 181.45L332.20 183.35M331.38 181.93L333.02 182.88M333.02 181.93L331.38 182.88" stroke="#222" stroke-width="0.7" fill="none"/>
<text x="340.80" y="185.70" font-size="5.6" text-anchor="start" stroke-width="0.18" fill="#222" stroke="#222" textLength="16.1" lengthAdjust="spacingAndGlyphs"><tspan font-style="italic">P</tspan>&lt;.05</text>
<path d="M332.20 188.65L332.20 190.55M331.38 189.12L333.02 190.07M333.02 189.12L331.38 190.07" stroke="#222" stroke-width="0.7" fill="none"/>
<path d="M334.50 188.65L334.50 190.55M333.68 189.12L335.32 190.07M335.32 189.12L333.68 190.07" stroke="#222" stroke-width="0.7" fill="none"/>
<text x="340.00" y="193.10" font-size="5.6" text-anchor="start" stroke-width="0.18" fill="#222" stroke="#222" textLength="15.2" lengthAdjust="spacingAndGlyphs"><tspan font-style="italic">P</tspan>&lt;.01</text>
<path d="M332.20 196.25L332.20 198.15M331.38 196.72L333.02 197.67M333.02 196.72L331.38 197.67" stroke="#222" stroke-width="0.7" fill="none"/>
<path d="M334.50 196.25L334.50 198.15M333.68 196.72L335.32 197.67M335.32 196.72L333.68 197.67" stroke="#222" stroke-width="0.7" fill="none"/>
<path d="M336.80 196.25L336.80 198.15M335.98 196.72L337.62 197.67M337.62 196.72L335.98 197.67" stroke="#222" stroke-width="0.7" fill="none"/>
<text x="340.80" y="200.60" font-size="5.6" text-anchor="start" stroke-width="0.18" fill="#222" stroke="#222" textLength="19.1" lengthAdjust="spacingAndGlyphs"><tspan font-style="italic">P</tspan>&lt;.005</text>
<path d="M365.7 113V0.9H519.2V113" fill="none" stroke="#3a3a3a" stroke-width="1.3"/>
<line x1="365.70" y1="113.00" x2="519.20" y2="113.00" stroke="#8a8a8a" stroke-width="1"/>
<line x1="365.70" y1="0.90" x2="365.70" y2="113.00" stroke="#555" stroke-width="1.0"/>
<text x="370.20" y="13.60" font-size="10.2" text-anchor="start" font-weight="bold" stroke-width="0.3" fill="#000" stroke="#000">C</text>
<line x1="391.00" y1="90.60" x2="507.50" y2="90.60" stroke="#d6d6d6" stroke-width="0.8"/>
<text x="390.70" y="92.55" font-size="5.5" text-anchor="end" stroke-width="0.18" fill="#222" stroke="#222">0</text>
<text x="390.70" y="84.56" font-size="5.5" text-anchor="end" stroke-width="0.18" fill="#222" stroke="#222">0.2</text>
<text x="390.70" y="76.57" font-size="5.5" text-anchor="end" stroke-width="0.18" fill="#222" stroke="#222">0.4</text>
<text x="390.70" y="68.58" font-size="5.5" text-anchor="end" stroke-width="0.18" fill="#222" stroke="#222">0.6</text>
<text x="390.70" y="60.59" font-size="5.5" text-anchor="end" stroke-width="0.18" fill="#222" stroke="#222">0.8</text>
<text x="390.70" y="52.60" font-size="5.5" text-anchor="end" stroke-width="0.18" fill="#222" stroke="#222">1</text>
<text x="390.70" y="44.61" font-size="5.5" text-anchor="end" stroke-width="0.18" fill="#222" stroke="#222">1.2</text>
<text x="390.70" y="36.62" font-size="5.5" text-anchor="end" stroke-width="0.18" fill="#222" stroke="#222">1.4</text>
<text x="390.70" y="28.63" font-size="5.5" text-anchor="end" stroke-width="0.18" fill="#222" stroke="#222">1.6</text>
<text x="392.50" y="100.00" font-size="5.5" text-anchor="middle" stroke-width="0.18" fill="#222" stroke="#222">0</text>
<text x="414.70" y="100.00" font-size="5.5" text-anchor="middle" stroke-width="0.18" fill="#222" stroke="#222">1</text>
<text x="436.90" y="100.00" font-size="5.5" text-anchor="middle" stroke-width="0.18" fill="#222" stroke="#222">2</text>
<text x="459.10" y="100.00" font-size="5.5" text-anchor="middle" stroke-width="0.18" fill="#222" stroke="#222">3</text>
<text x="481.30" y="100.00" font-size="5.5" text-anchor="middle" stroke-width="0.18" fill="#222" stroke="#222">4</text>
<text x="503.50" y="100.00" font-size="5.5" text-anchor="middle" stroke-width="0.18" fill="#222" stroke="#222">5</text>
<text x="450.35" y="107.40" font-size="6.5" text-anchor="middle" stroke-width="0.18" fill="#222" stroke="#222" textLength="42.3" lengthAdjust="spacingAndGlyphs">Days in Culture</text>
<text x="377.50" y="57.90" font-size="5.0" text-anchor="middle" stroke-width="0.18" fill="#222" stroke="#222" transform="rotate(-90 377.50 57.90)" textLength="79.6" lengthAdjust="spacingAndGlyphs">Kit-CD71+TER119+ Cells (x10<tspan font-size="3.3" dy="-2">6</tspan><tspan dy="2">)</tspan></text>
<path d="M392.5 89.8C396.2 89.9 407.3 91.1 414.7 90.2C422.1 89.3 429.5 85.5 436.9 84.6C444.3 83.7 451.7 84.7 459.1 85.0C466.5 85.3 473.9 85.9 481.3 86.6C488.7 87.3 499.8 88.8 503.5 89.2" stroke="#444" stroke-width="1" fill="none"/>
<path d="M392.5 89.8C396.2 89.9 407.3 90.1 414.7 90.2C422.1 90.3 429.5 90.3 436.9 90.2C444.3 90.1 451.7 89.8 459.1 89.4C466.5 89.0 473.9 91.6 481.3 87.8C488.7 84.0 499.8 70.2 503.5 66.6" stroke="#555" stroke-width="1.0" stroke-dasharray="2.8 1.8" fill="none"/>
<path d="M502.3 62.8H504.7M503.5 62.8V70M502.3 70H504.7" stroke="#333" stroke-width="0.7" fill="none"/>
<circle cx="392.5" cy="89.8" r="1.5" fill="#fff" stroke="#333" stroke-width="0.8"/>
<circle cx="414.7" cy="90.2" r="1.5" fill="#fff" stroke="#333" stroke-width="0.8"/>
<circle cx="436.9" cy="84.6" r="1.5" fill="#fff" stroke="#333" stroke-width="0.8"/>
<circle cx="459.1" cy="85.0" r="1.5" fill="#fff" stroke="#333" stroke-width="0.8"/>
<circle cx="481.3" cy="86.6" r="1.5" fill="#fff" stroke="#333" stroke-width="0.8"/>
<circle cx="503.5" cy="89.2" r="1.5" fill="#fff" stroke="#333" stroke-width="0.8"/>
<circle cx="392.5" cy="89.8" r="1.7" fill="#000"/>
<circle cx="414.7" cy="90.2" r="1.7" fill="#000"/>
<circle cx="436.9" cy="90.2" r="1.7" fill="#000"/>
<circle cx="459.1" cy="89.4" r="1.7" fill="#000"/>
<circle cx="481.3" cy="87.8" r="1.7" fill="#000"/>
<circle cx="503.5" cy="66.6" r="1.7" fill="#000"/>
<path d="M434.60 77.75L434.60 79.65M433.78 78.23L435.42 79.17M435.42 78.23L433.78 79.17" stroke="#222" stroke-width="0.7" fill="none"/>
<path d="M436.90 77.75L436.90 79.65M436.08 78.23L437.72 79.17M437.72 78.23L436.08 79.17" stroke="#222" stroke-width="0.7" fill="none"/>
<path d="M439.20 77.75L439.20 79.65M438.38 78.23L440.02 79.17M440.02 78.23L438.38 79.17" stroke="#222" stroke-width="0.7" fill="none"/>
<path d="M457.95 79.45L457.95 81.35M457.13 79.93L458.77 80.88M458.77 79.93L457.13 80.88" stroke="#222" stroke-width="0.7" fill="none"/>
<path d="M460.25 79.45L460.25 81.35M459.43 79.93L461.07 80.88M461.07 79.93L459.43 80.88" stroke="#222" stroke-width="0.7" fill="none"/>
<path d="M502.35 57.25L502.35 59.15M501.53 57.73L503.17 58.68M503.17 57.73L501.53 58.68" stroke="#222" stroke-width="0.7" fill="none"/>
<path d="M504.65 57.25L504.65 59.15M503.83 57.73L505.47 58.68M505.47 57.73L503.83 58.68" stroke="#222" stroke-width="0.7" fill="none"/>
<line x1="409.20" y1="34.90" x2="418.70" y2="34.90" stroke="#333" stroke-width="0.9"/>
<circle cx="413.9" cy="34.9" r="1.4" fill="#fff" stroke="#333" stroke-width="0.8"/>
<text x="423.00" y="37.00" font-size="5.4" text-anchor="start" stroke-width="0.18" fill="#222" stroke="#222" textLength="36.7" lengthAdjust="spacingAndGlyphs">Epo at 20% O<tspan font-size="3.6" dy="1.26">2</tspan></text>
<line x1="409.20" y1="45.30" x2="418.70" y2="45.30" stroke="#333" stroke-width="0.9" stroke-dasharray="1.6 1"/>
<circle cx="413.9" cy="45.3" r="1.6" fill="#000"/>
<text x="423.40" y="47.40" font-size="5.4" text-anchor="start" stroke-width="0.18" fill="#222" stroke="#222" textLength="66.2" lengthAdjust="spacingAndGlyphs">Epo+SCF+BMP4 at 2% O<tspan font-size="3.6" dy="1.26">2</tspan></text>
<text x="0.90" y="289.80" font-size="10" text-anchor="start" font-weight="bold" stroke-width="0.3" fill="#000" stroke="#000">B</text>
<text x="22.50" y="289.80" font-size="7.6" text-anchor="start" stroke-width="0.18" fill="#222" stroke="#222" textLength="62.3" lengthAdjust="spacingAndGlyphs">Gated on Kit+ cells</text>
<text x="50.20" y="299.60" font-size="6.3" text-anchor="start" font-weight="bold" stroke-width="0.3" fill="#111" stroke="#111" textLength="10.7" lengthAdjust="spacingAndGlyphs">Epo</text>
<rect x="28.5" y="304.5" width="61.80" height="56.10" fill="none" stroke="#a6a6a6" stroke-width="1"/>
<line x1="50.50" y1="304.50" x2="50.50" y2="360.60" stroke="#8e8e8e" stroke-width="1.1"/>
<line x1="28.50" y1="331.70" x2="90.30" y2="331.70" stroke="#8e8e8e" stroke-width="1.1"/>
<path d="M27.60 356.38H28.5M33.15 360.6V361.50M27.60 353.91H28.5M35.87 360.6V361.50M27.60 352.16H28.5M37.80 360.6V361.50M27.60 350.80H28.5M39.30 360.6V361.50M27.60 349.69H28.5M40.52 360.6V361.50M27.60 348.75H28.5M41.56 360.6V361.50M27.60 347.93H28.5M42.45 360.6V361.50M27.60 347.22H28.5M43.24 360.6V361.50M27.60 342.35H28.5M48.60 360.6V361.50M27.60 339.88H28.5M51.32 360.6V361.50M27.60 338.13H28.5M53.25 360.6V361.50M27.60 336.77H28.5M54.75 360.6V361.50M27.60 335.66H28.5M55.97 360.6V361.50M27.60 334.72H28.5M57.01 360.6V361.50M27.60 333.91H28.5M57.90 360.6V361.50M27.60 333.19H28.5M58.69 360.6V361.50M27.60 328.33H28.5M64.05 360.6V361.50M27.60 325.86H28.5M66.77 360.6V361.50M27.60 324.11H28.5M68.70 360.6V361.50M27.60 322.75H28.5M70.20 360.6V361.50M27.60 321.64H28.5M71.42 360.6V361.50M27.60 320.70H28.5M72.46 360.6V361.50M27.60 319.88H28.5M73.35 360.6V361.50M27.60 319.17H28.5M74.14 360.6V361.50M27.60 314.30H28.5M79.50 360.6V361.50M27.60 311.83H28.5M82.22 360.6V361.50M27.60 310.08H28.5M84.15 360.6V361.50M27.60 308.72H28.5M85.65 360.6V361.50M27.60 307.61H28.5M86.87 360.6V361.50M27.60 306.67H28.5M87.91 360.6V361.50M27.60 305.86H28.5M88.80 360.6V361.50M27.60 305.14H28.5M89.59 360.6V361.50M27.00 360.60H28.5M28.50 360.6V362.10M27.00 346.58H28.5M43.95 360.6V362.10M27.00 332.55H28.5M59.40 360.6V362.10M27.00 318.52H28.5M74.85 360.6V362.10M27.00 304.50H28.5M90.30 360.6V362.10" stroke="#999" stroke-width="0.5" fill="none"/>
<text x="26.60" y="347.48" font-size="2.7" text-anchor="end" stroke-width="0" fill="#777" stroke="#777">10<tspan font-size="1.9" dy="-1">1</tspan></text>
<text x="43.65" y="364.70" font-size="2.7" text-anchor="middle" stroke-width="0" fill="#777" stroke="#777">10<tspan font-size="1.9" dy="-1">1</tspan></text>
<text x="26.60" y="333.45" font-size="2.7" text-anchor="end" stroke-width="0" fill="#777" stroke="#777">10<tspan font-size="1.9" dy="-1">2</tspan></text>
<text x="59.10" y="364.70" font-size="2.7" text-anchor="middle" stroke-width="0" fill="#777" stroke="#777">10<tspan font-size="1.9" dy="-1">2</tspan></text>
<text x="26.60" y="319.42" font-size="2.7" text-anchor="end" stroke-width="0" fill="#777" stroke="#777">10<tspan font-size="1.9" dy="-1">3</tspan></text>
<text x="74.55" y="364.70" font-size="2.7" text-anchor="middle" stroke-width="0" fill="#777" stroke="#777">10<tspan font-size="1.9" dy="-1">3</tspan></text>
<text x="26.60" y="305.40" font-size="2.7" text-anchor="end" stroke-width="0" fill="#777" stroke="#777">10<tspan font-size="1.9" dy="-1">4</tspan></text>
<text x="90.00" y="364.70" font-size="2.7" text-anchor="middle" stroke-width="0" fill="#777" stroke="#777">10<tspan font-size="1.9" dy="-1">4</tspan></text>
<text x="29.40" y="307.50" font-size="2.4" text-anchor="start" stroke-width="0" fill="#666" stroke="#666">Q</text>
<text x="30.80" y="311.60" font-size="2.9" text-anchor="start" stroke-width="0" fill="#444" stroke="#444">0.4%</text>
<text x="51.40" y="307.50" font-size="2.4" text-anchor="start" stroke-width="0" fill="#666" stroke="#666">Q</text>
<text x="52.80" y="311.60" font-size="2.9" text-anchor="start" stroke-width="0" fill="#444" stroke="#444">60.5%</text>
<text x="29.40" y="334.70" font-size="2.4" text-anchor="start" stroke-width="0" fill="#666" stroke="#666">Q</text>
<text x="30.80" y="338.80" font-size="2.9" text-anchor="start" stroke-width="0" fill="#444" stroke="#444">0.4%</text>
<text x="51.40" y="334.70" font-size="2.4" text-anchor="start" stroke-width="0" fill="#666" stroke="#666">Q</text>
<text x="52.80" y="338.80" font-size="2.9" text-anchor="start" stroke-width="0" fill="#444" stroke="#444">0.7%</text>
<rect x="28.5" y="366.9" width="61.80" height="56.30" fill="none" stroke="#a6a6a6" stroke-width="1"/>
<line x1="50.50" y1="366.90" x2="50.50" y2="423.20" stroke="#8e8e8e" stroke-width="1.1"/>
<line x1="28.50" y1="394.80" x2="90.30" y2="394.80" stroke="#8e8e8e" stroke-width="1.1"/>
<path d="M27.60 418.96H28.5M33.15 423.2V424.10M27.60 416.48H28.5M35.87 423.2V424.10M27.60 414.73H28.5M37.80 423.2V424.10M27.60 413.36H28.5M39.30 423.2V424.10M27.60 412.25H28.5M40.52 423.2V424.10M27.60 411.31H28.5M41.56 423.2V424.10M27.60 410.49H28.5M42.45 423.2V424.10M27.60 409.77H28.5M43.24 423.2V424.10M27.60 404.89H28.5M48.60 423.2V424.10M27.60 402.41H28.5M51.32 423.2V424.10M27.60 400.65H28.5M53.25 423.2V424.10M27.60 399.29H28.5M54.75 423.2V424.10M27.60 398.17H28.5M55.97 423.2V424.10M27.60 397.23H28.5M57.01 423.2V424.10M27.60 396.41H28.5M57.90 423.2V424.10M27.60 395.69H28.5M58.69 423.2V424.10M27.60 390.81H28.5M64.05 423.2V424.10M27.60 388.33H28.5M66.77 423.2V424.10M27.60 386.58H28.5M68.70 423.2V424.10M27.60 385.21H28.5M70.20 423.2V424.10M27.60 384.10H28.5M71.42 423.2V424.10M27.60 383.16H28.5M72.46 423.2V424.10M27.60 382.34H28.5M73.35 423.2V424.10M27.60 381.62H28.5M74.14 423.2V424.10M27.60 376.74H28.5M79.50 423.2V424.10M27.60 374.26H28.5M82.22 423.2V424.10M27.60 372.50H28.5M84.15 423.2V424.10M27.60 371.14H28.5M85.65 423.2V424.10M27.60 370.02H28.5M86.87 423.2V424.10M27.60 369.08H28.5M87.91 423.2V424.10M27.60 368.26H28.5M88.80 423.2V424.10M27.60 367.54H28.5M89.59 423.2V424.10M27.00 423.20H28.5M28.50 423.2V424.70M27.00 409.12H28.5M43.95 423.2V424.70M27.00 395.05H28.5M59.40 423.2V424.70M27.00 380.97H28.5M74.85 423.2V424.70M27.00 366.90H28.5M90.30 423.2V424.70" stroke="#999" stroke-width="0.5" fill="none"/>
<text x="26.60" y="410.02" font-size="2.7" text-anchor="end" stroke-width="0" fill="#777" stroke="#777">10<tspan font-size="1.9" dy="-1">1</tspan></text>
<text x="43.65" y="427.30" font-size="2.7" text-anchor="middle" stroke-width="0" fill="#777" stroke="#777">10<tspan font-size="1.9" dy="-1">1</tspan></text>
<text x="26.60" y="395.95" font-size="2.7" text-anchor="end" stroke-width="0" fill="#777" stroke="#777">10<tspan font-size="1.9" dy="-1">2</tspan></text>
<text x="59.10" y="427.30" font-size="2.7" text-anchor="middle" stroke-width="0" fill="#777" stroke="#777">10<tspan font-size="1.9" dy="-1">2</tspan></text>
<text x="26.60" y="381.87" font-size="2.7" text-anchor="end" stroke-width="0" fill="#777" stroke="#777">10<tspan font-size="1.9" dy="-1">3</tspan></text>
<text x="74.55" y="427.30" font-size="2.7" text-anchor="middle" stroke-width="0" fill="#777" stroke="#777">10<tspan font-size="1.9" dy="-1">3</tspan></text>
<text x="26.60" y="367.80" font-size="2.7" text-anchor="end" stroke-width="0" fill="#777" stroke="#777">10<tspan font-size="1.9" dy="-1">4</tspan></text>
<text x="90.00" y="427.30" font-size="2.7" text-anchor="middle" stroke-width="0" fill="#777" stroke="#777">10<tspan font-size="1.9" dy="-1">4</tspan></text>
<text x="29.40" y="369.90" font-size="2.4" text-anchor="start" stroke-width="0" fill="#666" stroke="#666">Q</text>
<text x="30.80" y="374.00" font-size="2.9" text-anchor="start" stroke-width="0" fill="#444" stroke="#444">1.7%</text>
<text x="51.40" y="369.90" font-size="2.4" text-anchor="start" stroke-width="0" fill="#666" stroke="#666">Q</text>
<text x="52.80" y="374.00" font-size="2.9" text-anchor="start" stroke-width="0" fill="#444" stroke="#444">32.1%</text>
<text x="29.40" y="397.80" font-size="2.4" text-anchor="start" stroke-width="0" fill="#666" stroke="#666">Q</text>
<text x="30.80" y="401.90" font-size="2.9" text-anchor="start" stroke-width="0" fill="#444" stroke="#444">0.5%</text>
<text x="51.40" y="397.80" font-size="2.4" text-anchor="start" stroke-width="0" fill="#666" stroke="#666">Q</text>
<text x="52.80" y="401.90" font-size="2.9" text-anchor="start" stroke-width="0" fill="#444" stroke="#444">1.1%</text>
<text x="112.10" y="299.60" font-size="6.3" text-anchor="start" font-weight="bold" stroke-width="0.3" fill="#111" stroke="#111" textLength="27.4" lengthAdjust="spacingAndGlyphs">Epo+SCF</text>
<rect x="98.7" y="304.5" width="61.50" height="56.10" fill="none" stroke="#a6a6a6" stroke-width="1"/>
<line x1="119.40" y1="304.50" x2="119.40" y2="360.60" stroke="#8e8e8e" stroke-width="1.1"/>
<line x1="98.70" y1="331.70" x2="160.20" y2="331.70" stroke="#8e8e8e" stroke-width="1.1"/>
<path d="M97.80 356.38H98.7M103.33 360.6V361.50M97.80 353.91H98.7M106.04 360.6V361.50M97.80 352.16H98.7M107.96 360.6V361.50M97.80 350.80H98.7M109.45 360.6V361.50M97.80 349.69H98.7M110.66 360.6V361.50M97.80 348.75H98.7M111.69 360.6V361.50M97.80 347.93H98.7M112.59 360.6V361.50M97.80 347.22H98.7M113.37 360.6V361.50M97.80 342.35H98.7M118.70 360.6V361.50M97.80 339.88H98.7M121.41 360.6V361.50M97.80 338.13H98.7M123.33 360.6V361.50M97.80 336.77H98.7M124.82 360.6V361.50M97.80 335.66H98.7M126.04 360.6V361.50M97.80 334.72H98.7M127.07 360.6V361.50M97.80 333.91H98.7M127.96 360.6V361.50M97.80 333.19H98.7M128.75 360.6V361.50M97.80 328.33H98.7M134.08 360.6V361.50M97.80 325.86H98.7M136.79 360.6V361.50M97.80 324.11H98.7M138.71 360.6V361.50M97.80 322.75H98.7M140.20 360.6V361.50M97.80 321.64H98.7M141.41 360.6V361.50M97.80 320.70H98.7M142.44 360.6V361.50M97.80 319.88H98.7M143.34 360.6V361.50M97.80 319.17H98.7M144.12 360.6V361.50M97.80 314.30H98.7M149.45 360.6V361.50M97.80 311.83H98.7M152.16 360.6V361.50M97.80 310.08H98.7M154.08 360.6V361.50M97.80 308.72H98.7M155.57 360.6V361.50M97.80 307.61H98.7M156.79 360.6V361.50M97.80 306.67H98.7M157.82 360.6V361.50M97.80 305.86H98.7M158.71 360.6V361.50M97.80 305.14H98.7M159.50 360.6V361.50M97.20 360.60H98.7M98.70 360.6V362.10M97.20 346.58H98.7M114.08 360.6V362.10M97.20 332.55H98.7M129.45 360.6V362.10M97.20 318.52H98.7M144.82 360.6V362.10M97.20 304.50H98.7M160.20 360.6V362.10" stroke="#999" stroke-width="0.5" fill="none"/>
<text x="96.80" y="347.48" font-size="2.7" text-anchor="end" stroke-width="0" fill="#777" stroke="#777">10<tspan font-size="1.9" dy="-1">1</tspan></text>
<text x="113.78" y="364.70" font-size="2.7" text-anchor="middle" stroke-width="0" fill="#777" stroke="#777">10<tspan font-size="1.9" dy="-1">1</tspan></text>
<text x="96.80" y="333.45" font-size="2.7" text-anchor="end" stroke-width="0" fill="#777" stroke="#777">10<tspan font-size="1.9" dy="-1">2</tspan></text>
<text x="129.15" y="364.70" font-size="2.7" text-anchor="middle" stroke-width="0" fill="#777" stroke="#777">10<tspan font-size="1.9" dy="-1">2</tspan></text>
<text x="96.80" y="319.42" font-size="2.7" text-anchor="end" stroke-width="0" fill="#777" stroke="#777">10<tspan font-size="1.9" dy="-1">3</tspan></text>
<text x="144.52" y="364.70" font-size="2.7" text-anchor="middle" stroke-width="0" fill="#777" stroke="#777">10<tspan font-size="1.9" dy="-1">3</tspan></text>
<text x="96.80" y="305.40" font-size="2.7" text-anchor="end" stroke-width="0" fill="#777" stroke="#777">10<tspan font-size="1.9" dy="-1">4</tspan></text>
<text x="159.90" y="364.70" font-size="2.7" text-anchor="middle" stroke-width="0" fill="#777" stroke="#777">10<tspan font-size="1.9" dy="-1">4</tspan></text>
<text x="99.60" y="307.50" font-size="2.4" text-anchor="start" stroke-width="0" fill="#666" stroke="#666">Q</text>
<text x="101.00" y="311.60" font-size="2.9" text-anchor="start" stroke-width="0" fill="#444" stroke="#444">0.4%</text>
<text x="120.30" y="307.50" font-size="2.4" text-anchor="start" stroke-width="0" fill="#666" stroke="#666">Q</text>
<text x="121.70" y="311.60" font-size="2.9" text-anchor="start" stroke-width="0" fill="#444" stroke="#444">60.5%</text>
<text x="99.60" y="334.70" font-size="2.4" text-anchor="start" stroke-width="0" fill="#666" stroke="#666">Q</text>
<text x="101.00" y="338.80" font-size="2.9" text-anchor="start" stroke-width="0" fill="#444" stroke="#444">0.4%</text>
<text x="120.30" y="334.70" font-size="2.4" text-anchor="start" stroke-width="0" fill="#666" stroke="#666">Q</text>
<text x="121.70" y="338.80" font-size="2.9" text-anchor="start" stroke-width="0" fill="#444" stroke="#444">0.7%</text>
<rect x="98.7" y="366.9" width="61.50" height="56.30" fill="none" stroke="#a6a6a6" stroke-width="1"/>
<line x1="119.40" y1="366.90" x2="119.40" y2="423.20" stroke="#8e8e8e" stroke-width="1.1"/>
<line x1="98.70" y1="394.80" x2="160.20" y2="394.80" stroke="#8e8e8e" stroke-width="1.1"/>
<path d="M97.80 418.96H98.7M103.33 423.2V424.10M97.80 416.48H98.7M106.04 423.2V424.10M97.80 414.73H98.7M107.96 423.2V424.10M97.80 413.36H98.7M109.45 423.2V424.10M97.80 412.25H98.7M110.66 423.2V424.10M97.80 411.31H98.7M111.69 423.2V424.10M97.80 410.49H98.7M112.59 423.2V424.10M97.80 409.77H98.7M113.37 423.2V424.10M97.80 404.89H98.7M118.70 423.2V424.10M97.80 402.41H98.7M121.41 423.2V424.10M97.80 400.65H98.7M123.33 423.2V424.10M97.80 399.29H98.7M124.82 423.2V424.10M97.80 398.17H98.7M126.04 423.2V424.10M97.80 397.23H98.7M127.07 423.2V424.10M97.80 396.41H98.7M127.96 423.2V424.10M97.80 395.69H98.7M128.75 423.2V424.10M97.80 390.81H98.7M134.08 423.2V424.10M97.80 388.33H98.7M136.79 423.2V424.10M97.80 386.58H98.7M138.71 423.2V424.10M97.80 385.21H98.7M140.20 423.2V424.10M97.80 384.10H98.7M141.41 423.2V424.10M97.80 383.16H98.7M142.44 423.2V424.10M97.80 382.34H98.7M143.34 423.2V424.10M97.80 381.62H98.7M144.12 423.2V424.10M97.80 376.74H98.7M149.45 423.2V424.10M97.80 374.26H98.7M152.16 423.2V424.10M97.80 372.50H98.7M154.08 423.2V424.10M97.80 371.14H98.7M155.57 423.2V424.10M97.80 370.02H98.7M156.79 423.2V424.10M97.80 369.08H98.7M157.82 423.2V424.10M97.80 368.26H98.7M158.71 423.2V424.10M97.80 367.54H98.7M159.50 423.2V424.10M97.20 423.20H98.7M98.70 423.2V424.70M97.20 409.12H98.7M114.08 423.2V424.70M97.20 395.05H98.7M129.45 423.2V424.70M97.20 380.97H98.7M144.82 423.2V424.70M97.20 366.90H98.7M160.20 423.2V424.70" stroke="#999" stroke-width="0.5" fill="none"/>
<text x="96.80" y="410.02" font-size="2.7" text-anchor="end" stroke-width="0" fill="#777" stroke="#777">10<tspan font-size="1.9" dy="-1">1</tspan></text>
<text x="113.78" y="427.30" font-size="2.7" text-anchor="middle" stroke-width="0" fill="#777" stroke="#777">10<tspan font-size="1.9" dy="-1">1</tspan></text>
<text x="96.80" y="395.95" font-size="2.7" text-anchor="end" stroke-width="0" fill="#777" stroke="#777">10<tspan font-size="1.9" dy="-1">2</tspan></text>
<text x="129.15" y="427.30" font-size="2.7" text-anchor="middle" stroke-width="0" fill="#777" stroke="#777">10<tspan font-size="1.9" dy="-1">2</tspan></text>
<text x="96.80" y="381.87" font-size="2.7" text-anchor="end" stroke-width="0" fill="#777" stroke="#777">10<tspan font-size="1.9" dy="-1">3</tspan></text>
<text x="144.52" y="427.30" font-size="2.7" text-anchor="middle" stroke-width="0" fill="#777" stroke="#777">10<tspan font-size="1.9" dy="-1">3</tspan></text>
<text x="96.80" y="367.80" font-size="2.7" text-anchor="end" stroke-width="0" fill="#777" stroke="#777">10<tspan font-size="1.9" dy="-1">4</tspan></text>
<text x="159.90" y="427.30" font-size="2.7" text-anchor="middle" stroke-width="0" fill="#777" stroke="#777">10<tspan font-size="1.9" dy="-1">4</tspan></text>
<text x="99.60" y="369.90" font-size="2.4" text-anchor="start" stroke-width="0" fill="#666" stroke="#666">Q</text>
<text x="101.00" y="374.00" font-size="2.9" text-anchor="start" stroke-width="0" fill="#444" stroke="#444">1.7%</text>
<text x="120.30" y="369.90" font-size="2.4" text-anchor="start" stroke-width="0" fill="#666" stroke="#666">Q</text>
<text x="121.70" y="374.00" font-size="2.9" text-anchor="start" stroke-width="0" fill="#444" stroke="#444">32.1%</text>
<text x="99.60" y="397.80" font-size="2.4" text-anchor="start" stroke-width="0" fill="#666" stroke="#666">Q</text>
<text x="101.00" y="401.90" font-size="2.9" text-anchor="start" stroke-width="0" fill="#444" stroke="#444">0.5%</text>
<text x="120.30" y="397.80" font-size="2.4" text-anchor="start" stroke-width="0" fill="#666" stroke="#666">Q</text>
<text x="121.70" y="401.90" font-size="2.9" text-anchor="start" stroke-width="0" fill="#444" stroke="#444">1.1%</text>
<text x="180.00" y="299.60" font-size="6.3" text-anchor="start" font-weight="bold" stroke-width="0.3" fill="#111" stroke="#111" textLength="32.8" lengthAdjust="spacingAndGlyphs">Epo+BMP4</text>
<rect x="168.1" y="304.5" width="61.50" height="56.10" fill="none" stroke="#a6a6a6" stroke-width="1"/>
<line x1="189.30" y1="304.50" x2="189.30" y2="360.60" stroke="#8e8e8e" stroke-width="1.1"/>
<line x1="168.10" y1="331.70" x2="229.60" y2="331.70" stroke="#8e8e8e" stroke-width="1.1"/>
<path d="M167.20 356.38H168.1M172.73 360.6V361.50M167.20 353.91H168.1M175.44 360.6V361.50M167.20 352.16H168.1M177.36 360.6V361.50M167.20 350.80H168.1M178.85 360.6V361.50M167.20 349.69H168.1M180.06 360.6V361.50M167.20 348.75H168.1M181.09 360.6V361.50M167.20 347.93H168.1M181.99 360.6V361.50M167.20 347.22H168.1M182.77 360.6V361.50M167.20 342.35H168.1M188.10 360.6V361.50M167.20 339.88H168.1M190.81 360.6V361.50M167.20 338.13H168.1M192.73 360.6V361.50M167.20 336.77H168.1M194.22 360.6V361.50M167.20 335.66H168.1M195.44 360.6V361.50M167.20 334.72H168.1M196.47 360.6V361.50M167.20 333.91H168.1M197.36 360.6V361.50M167.20 333.19H168.1M198.15 360.6V361.50M167.20 328.33H168.1M203.48 360.6V361.50M167.20 325.86H168.1M206.19 360.6V361.50M167.20 324.11H168.1M208.11 360.6V361.50M167.20 322.75H168.1M209.60 360.6V361.50M167.20 321.64H168.1M210.81 360.6V361.50M167.20 320.70H168.1M211.84 360.6V361.50M167.20 319.88H168.1M212.74 360.6V361.50M167.20 319.17H168.1M213.52 360.6V361.50M167.20 314.30H168.1M218.85 360.6V361.50M167.20 311.83H168.1M221.56 360.6V361.50M167.20 310.08H168.1M223.48 360.6V361.50M167.20 308.72H168.1M224.97 360.6V361.50M167.20 307.61H168.1M226.19 360.6V361.50M167.20 306.67H168.1M227.22 360.6V361.50M167.20 305.86H168.1M228.11 360.6V361.50M167.20 305.14H168.1M228.90 360.6V361.50M166.60 360.60H168.1M168.10 360.6V362.10M166.60 346.58H168.1M183.47 360.6V362.10M166.60 332.55H168.1M198.85 360.6V362.10M166.60 318.52H168.1M214.22 360.6V362.10M166.60 304.50H168.1M229.60 360.6V362.10" stroke="#999" stroke-width="0.5" fill="none"/>
<text x="166.20" y="347.48" font-size="2.7" text-anchor="end" stroke-width="0" fill="#777" stroke="#777">10<tspan font-size="1.9" dy="-1">1</tspan></text>
<text x="183.17" y="364.70" font-size="2.7" text-anchor="middle" stroke-width="0" fill="#777" stroke="#777">10<tspan font-size="1.9" dy="-1">1</tspan></text>
<text x="166.20" y="333.45" font-size="2.7" text-anchor="end" stroke-width="0" fill="#777" stroke="#777">10<tspan font-size="1.9" dy="-1">2</tspan></text>
<text x="198.55" y="364.70" font-size="2.7" text-anchor="middle" stroke-width="0" fill="#777" stroke="#777">10<tspan font-size="1.9" dy="-1">2</tspan></text>
<text x="166.20" y="319.42" font-size="2.7" text-anchor="end" stroke-width="0" fill="#777" stroke="#777">10<tspan font-size="1.9" dy="-1">3</tspan></text>
<text x="213.92" y="364.70" font-size="2.7" text-anchor="middle" stroke-width="0" fill="#777" stroke="#777">10<tspan font-size="1.9" dy="-1">3</tspan></text>
<text x="166.20" y="305.40" font-size="2.7" text-anchor="end" stroke-width="0" fill="#777" stroke="#777">10<tspan font-size="1.9" dy="-1">4</tspan></text>
<text x="229.30" y="364.70" font-size="2.7" text-anchor="middle" stroke-width="0" fill="#777" stroke="#777">10<tspan font-size="1.9" dy="-1">4</tspan></text>
<text x="169.00" y="307.50" font-size="2.4" text-anchor="start" stroke-width="0" fill="#666" stroke="#666">Q</text>
<text x="170.40" y="311.60" font-size="2.9" text-anchor="start" stroke-width="0" fill="#444" stroke="#444">0.4%</text>
<text x="190.20" y="307.50" font-size="2.4" text-anchor="start" stroke-width="0" fill="#666" stroke="#666">Q</text>
<text x="191.60" y="311.60" font-size="2.9" text-anchor="start" stroke-width="0" fill="#444" stroke="#444">60.5%</text>
<text x="169.00" y="334.70" font-size="2.4" text-anchor="start" stroke-width="0" fill="#666" stroke="#666">Q</text>
<text x="170.40" y="338.80" font-size="2.9" text-anchor="start" stroke-width="0" fill="#444" stroke="#444">0.4%</text>
<text x="190.20" y="334.70" font-size="2.4" text-anchor="start" stroke-width="0" fill="#666" stroke="#666">Q</text>
<text x="191.60" y="338.80" font-size="2.9" text-anchor="start" stroke-width="0" fill="#444" stroke="#444">0.7%</text>
<rect x="168.1" y="366.9" width="61.50" height="56.30" fill="none" stroke="#a6a6a6" stroke-width="1"/>
<line x1="189.30" y1="366.90" x2="189.30" y2="423.20" stroke="#8e8e8e" stroke-width="1.1"/>
<line x1="168.10" y1="394.80" x2="229.60" y2="394.80" stroke="#8e8e8e" stroke-width="1.1"/>
<path d="M167.20 418.96H168.1M172.73 423.2V424.10M167.20 416.48H168.1M175.44 423.2V424.10M167.20 414.73H168.1M177.36 423.2V424.10M167.20 413.36H168.1M178.85 423.2V424.10M167.20 412.25H168.1M180.06 423.2V424.10M167.20 411.31H168.1M181.09 423.2V424.10M167.20 410.49H168.1M181.99 423.2V424.10M167.20 409.77H168.1M182.77 423.2V424.10M167.20 404.89H168.1M188.10 423.2V424.10M167.20 402.41H168.1M190.81 423.2V424.10M167.20 400.65H168.1M192.73 423.2V424.10M167.20 399.29H168.1M194.22 423.2V424.10M167.20 398.17H168.1M195.44 423.2V424.10M167.20 397.23H168.1M196.47 423.2V424.10M167.20 396.41H168.1M197.36 423.2V424.10M167.20 395.69H168.1M198.15 423.2V424.10M167.20 390.81H168.1M203.48 423.2V424.10M167.20 388.33H168.1M206.19 423.2V424.10M167.20 386.58H168.1M208.11 423.2V424.10M167.20 385.21H168.1M209.60 423.2V424.10M167.20 384.10H168.1M210.81 423.2V424.10M167.20 383.16H168.1M211.84 423.2V424.10M167.20 382.34H168.1M212.74 423.2V424.10M167.20 381.62H168.1M213.52 423.2V424.10M167.20 376.74H168.1M218.85 423.2V424.10M167.20 374.26H168.1M221.56 423.2V424.10M167.20 372.50H168.1M223.48 423.2V424.10M167.20 371.14H168.1M224.97 423.2V424.10M167.20 370.02H168.1M226.19 423.2V424.10M167.20 369.08H168.1M227.22 423.2V424.10M167.20 368.26H168.1M228.11 423.2V424.10M167.20 367.54H168.1M228.90 423.2V424.10M166.60 423.20H168.1M168.10 423.2V424.70M166.60 409.12H168.1M183.47 423.2V424.70M166.60 395.05H168.1M198.85 423.2V424.70M166.60 380.97H168.1M214.22 423.2V424.70M166.60 366.90H168.1M229.60 423.2V424.70" stroke="#999" stroke-width="0.5" fill="none"/>
<text x="166.20" y="410.02" font-size="2.7" text-anchor="end" stroke-width="0" fill="#777" stroke="#777">10<tspan font-size="1.9" dy="-1">1</tspan></text>
<text x="183.17" y="427.30" font-size="2.7" text-anchor="middle" stroke-width="0" fill="#777" stroke="#777">10<tspan font-size="1.9" dy="-1">1</tspan></text>
<text x="166.20" y="395.95" font-size="2.7" text-anchor="end" stroke-width="0" fill="#777" stroke="#777">10<tspan font-size="1.9" dy="-1">2</tspan></text>
<text x="198.55" y="427.30" font-size="2.7" text-anchor="middle" stroke-width="0" fill="#777" stroke="#777">10<tspan font-size="1.9" dy="-1">2</tspan></text>
<text x="166.20" y="381.87" font-size="2.7" text-anchor="end" stroke-width="0" fill="#777" stroke="#777">10<tspan font-size="1.9" dy="-1">3</tspan></text>
<text x="213.92" y="427.30" font-size="2.7" text-anchor="middle" stroke-width="0" fill="#777" stroke="#777">10<tspan font-size="1.9" dy="-1">3</tspan></text>
<text x="166.20" y="367.80" font-size="2.7" text-anchor="end" stroke-width="0" fill="#777" stroke="#777">10<tspan font-size="1.9" dy="-1">4</tspan></text>
<text x="229.30" y="427.30" font-size="2.7" text-anchor="middle" stroke-width="0" fill="#777" stroke="#777">10<tspan font-size="1.9" dy="-1">4</tspan></text>
<text x="169.00" y="369.90" font-size="2.4" text-anchor="start" stroke-width="0" fill="#666" stroke="#666">Q</text>
<text x="170.40" y="374.00" font-size="2.9" text-anchor="start" stroke-width="0" fill="#444" stroke="#444">1.7%</text>
<text x="190.20" y="369.90" font-size="2.4" text-anchor="start" stroke-width="0" fill="#666" stroke="#666">Q</text>
<text x="191.60" y="374.00" font-size="2.9" text-anchor="start" stroke-width="0" fill="#444" stroke="#444">32.1%</text>
<text x="169.00" y="397.80" font-size="2.4" text-anchor="start" stroke-width="0" fill="#666" stroke="#666">Q</text>
<text x="170.40" y="401.90" font-size="2.9" text-anchor="start" stroke-width="0" fill="#444" stroke="#444">0.5%</text>
<text x="190.20" y="397.80" font-size="2.4" text-anchor="start" stroke-width="0" fill="#666" stroke="#666">Q</text>
<text x="191.60" y="401.90" font-size="2.9" text-anchor="start" stroke-width="0" fill="#444" stroke="#444">1.1%</text>
<text x="243.70" y="299.60" font-size="6.3" text-anchor="start" font-weight="bold" stroke-width="0.3" fill="#111" stroke="#111" textLength="49.6" lengthAdjust="spacingAndGlyphs">Epo+SCF+BMP4</text>
<rect x="237.6" y="304.5" width="62.20" height="56.10" fill="none" stroke="#a6a6a6" stroke-width="1"/>
<line x1="259.30" y1="304.50" x2="259.30" y2="360.60" stroke="#8e8e8e" stroke-width="1.1"/>
<line x1="237.60" y1="331.70" x2="299.80" y2="331.70" stroke="#8e8e8e" stroke-width="1.1"/>
<path d="M236.70 356.38H237.6M242.28 360.6V361.50M236.70 353.91H237.6M245.02 360.6V361.50M236.70 352.16H237.6M246.96 360.6V361.50M236.70 350.80H237.6M248.47 360.6V361.50M236.70 349.69H237.6M249.70 360.6V361.50M236.70 348.75H237.6M250.74 360.6V361.50M236.70 347.93H237.6M251.64 360.6V361.50M236.70 347.22H237.6M252.44 360.6V361.50M236.70 342.35H237.6M257.83 360.6V361.50M236.70 339.88H237.6M260.57 360.6V361.50M236.70 338.13H237.6M262.51 360.6V361.50M236.70 336.77H237.6M264.02 360.6V361.50M236.70 335.66H237.6M265.25 360.6V361.50M236.70 334.72H237.6M266.29 360.6V361.50M236.70 333.91H237.6M267.19 360.6V361.50M236.70 333.19H237.6M267.99 360.6V361.50M236.70 328.33H237.6M273.38 360.6V361.50M236.70 325.86H237.6M276.12 360.6V361.50M236.70 324.11H237.6M278.06 360.6V361.50M236.70 322.75H237.6M279.57 360.6V361.50M236.70 321.64H237.6M280.80 360.6V361.50M236.70 320.70H237.6M281.84 360.6V361.50M236.70 319.88H237.6M282.74 360.6V361.50M236.70 319.17H237.6M283.54 360.6V361.50M236.70 314.30H237.6M288.93 360.6V361.50M236.70 311.83H237.6M291.67 360.6V361.50M236.70 310.08H237.6M293.61 360.6V361.50M236.70 308.72H237.6M295.12 360.6V361.50M236.70 307.61H237.6M296.35 360.6V361.50M236.70 306.67H237.6M297.39 360.6V361.50M236.70 305.86H237.6M298.29 360.6V361.50M236.70 305.14H237.6M299.09 360.6V361.50M236.10 360.60H237.6M237.60 360.6V362.10M236.10 346.58H237.6M253.15 360.6V362.10M236.10 332.55H237.6M268.70 360.6V362.10M236.10 318.52H237.6M284.25 360.6V362.10M236.10 304.50H237.6M299.80 360.6V362.10" stroke="#999" stroke-width="0.5" fill="none"/>
<text x="235.70" y="347.48" font-size="2.7" text-anchor="end" stroke-width="0" fill="#777" stroke="#777">10<tspan font-size="1.9" dy="-1">1</tspan></text>
<text x="252.85" y="364.70" font-size="2.7" text-anchor="middle" stroke-width="0" fill="#777" stroke="#777">10<tspan font-size="1.9" dy="-1">1</tspan></text>
<text x="235.70" y="333.45" font-size="2.7" text-anchor="end" stroke-width="0" fill="#777" stroke="#777">10<tspan font-size="1.9" dy="-1">2</tspan></text>
<text x="268.40" y="364.70" font-size="2.7" text-anchor="middle" stroke-width="0" fill="#777" stroke="#777">10<tspan font-size="1.9" dy="-1">2</tspan></text>
<text x="235.70" y="319.42" font-size="2.7" text-anchor="end" stroke-width="0" fill="#777" stroke="#777">10<tspan font-size="1.9" dy="-1">3</tspan></text>
<text x="283.95" y="364.70" font-size="2.7" text-anchor="middle" stroke-width="0" fill="#777" stroke="#777">10<tspan font-size="1.9" dy="-1">3</tspan></text>
<text x="235.70" y="305.40" font-size="2.7" text-anchor="end" stroke-width="0" fill="#777" stroke="#777">10<tspan font-size="1.9" dy="-1">4</tspan></text>
<text x="299.50" y="364.70" font-size="2.7" text-anchor="middle" stroke-width="0" fill="#777" stroke="#777">10<tspan font-size="1.9" dy="-1">4</tspan></text>
<text x="238.50" y="307.50" font-size="2.4" text-anchor="start" stroke-width="0" fill="#666" stroke="#666">Q</text>
<text x="239.90" y="311.60" font-size="2.9" text-anchor="start" stroke-width="0" fill="#444" stroke="#444">0.4%</text>
<text x="260.20" y="307.50" font-size="2.4" text-anchor="start" stroke-width="0" fill="#666" stroke="#666">Q</text>
<text x="261.60" y="311.60" font-size="2.9" text-anchor="start" stroke-width="0" fill="#444" stroke="#444">60.5%</text>
<text x="238.50" y="334.70" font-size="2.4" text-anchor="start" stroke-width="0" fill="#666" stroke="#666">Q</text>
<text x="239.90" y="338.80" font-size="2.9" text-anchor="start" stroke-width="0" fill="#444" stroke="#444">0.4%</text>
<text x="260.20" y="334.70" font-size="2.4" text-anchor="start" stroke-width="0" fill="#666" stroke="#666">Q</text>
<text x="261.60" y="338.80" font-size="2.9" text-anchor="start" stroke-width="0" fill="#444" stroke="#444">0.7%</text>
<rect x="237.6" y="366.9" width="62.20" height="56.30" fill="none" stroke="#a6a6a6" stroke-width="1"/>
<line x1="259.30" y1="366.90" x2="259.30" y2="423.20" stroke="#8e8e8e" stroke-width="1.1"/>
<line x1="237.60" y1="394.80" x2="299.80" y2="394.80" stroke="#8e8e8e" stroke-width="1.1"/>
<path d="M236.70 418.96H237.6M242.28 423.2V424.10M236.70 416.48H237.6M245.02 423.2V424.10M236.70 414.73H237.6M246.96 423.2V424.10M236.70 413.36H237.6M248.47 423.2V424.10M236.70 412.25H237.6M249.70 423.2V424.10M236.70 411.31H237.6M250.74 423.2V424.10M236.70 410.49H237.6M251.64 423.2V424.10M236.70 409.77H237.6M252.44 423.2V424.10M236.70 404.89H237.6M257.83 423.2V424.10M236.70 402.41H237.6M260.57 423.2V424.10M236.70 400.65H237.6M262.51 423.2V424.10M236.70 399.29H237.6M264.02 423.2V424.10M236.70 398.17H237.6M265.25 423.2V424.10M236.70 397.23H237.6M266.29 423.2V424.10M236.70 396.41H237.6M267.19 423.2V424.10M236.70 395.69H237.6M267.99 423.2V424.10M236.70 390.81H237.6M273.38 423.2V424.10M236.70 388.33H237.6M276.12 423.2V424.10M236.70 386.58H237.6M278.06 423.2V424.10M236.70 385.21H237.6M279.57 423.2V424.10M236.70 384.10H237.6M280.80 423.2V424.10M236.70 383.16H237.6M281.84 423.2V424.10M236.70 382.34H237.6M282.74 423.2V424.10M236.70 381.62H237.6M283.54 423.2V424.10M236.70 376.74H237.6M288.93 423.2V424.10M236.70 374.26H237.6M291.67 423.2V424.10M236.70 372.50H237.6M293.61 423.2V424.10M236.70 371.14H237.6M295.12 423.2V424.10M236.70 370.02H237.6M296.35 423.2V424.10M236.70 369.08H237.6M297.39 423.2V424.10M236.70 368.26H237.6M298.29 423.2V424.10M236.70 367.54H237.6M299.09 423.2V424.10M236.10 423.20H237.6M237.60 423.2V424.70M236.10 409.12H237.6M253.15 423.2V424.70M236.10 395.05H237.6M268.70 423.2V424.70M236.10 380.97H237.6M284.25 423.2V424.70M236.10 366.90H237.6M299.80 423.2V424.70" stroke="#999" stroke-width="0.5" fill="none"/>
<text x="235.70" y="410.02" font-size="2.7" text-anchor="end" stroke-width="0" fill="#777" stroke="#777">10<tspan font-size="1.9" dy="-1">1</tspan></text>
<text x="252.85" y="427.30" font-size="2.7" text-anchor="middle" stroke-width="0" fill="#777" stroke="#777">10<tspan font-size="1.9" dy="-1">1</tspan></text>
<text x="235.70" y="395.95" font-size="2.7" text-anchor="end" stroke-width="0" fill="#777" stroke="#777">10<tspan font-size="1.9" dy="-1">2</tspan></text>
<text x="268.40" y="427.30" font-size="2.7" text-anchor="middle" stroke-width="0" fill="#777" stroke="#777">10<tspan font-size="1.9" dy="-1">2</tspan></text>
<text x="235.70" y="381.87" font-size="2.7" text-anchor="end" stroke-width="0" fill="#777" stroke="#777">10<tspan font-size="1.9" dy="-1">3</tspan></text>
<text x="283.95" y="427.30" font-size="2.7" text-anchor="middle" stroke-width="0" fill="#777" stroke="#777">10<tspan font-size="1.9" dy="-1">3</tspan></text>
<text x="235.70" y="367.80" font-size="2.7" text-anchor="end" stroke-width="0" fill="#777" stroke="#777">10<tspan font-size="1.9" dy="-1">4</tspan></text>
<text x="299.50" y="427.30" font-size="2.7" text-anchor="middle" stroke-width="0" fill="#777" stroke="#777">10<tspan font-size="1.9" dy="-1">4</tspan></text>
<text x="238.50" y="369.90" font-size="2.4" text-anchor="start" stroke-width="0" fill="#666" stroke="#666">Q</text>
<text x="239.90" y="374.00" font-size="2.9" text-anchor="start" stroke-width="0" fill="#444" stroke="#444">1.7%</text>
<text x="260.20" y="369.90" font-size="2.4" text-anchor="start" stroke-width="0" fill="#666" stroke="#666">Q</text>
<text x="261.60" y="374.00" font-size="2.9" text-anchor="start" stroke-width="0" fill="#444" stroke="#444">32.1%</text>
<text x="238.50" y="397.80" font-size="2.4" text-anchor="start" stroke-width="0" fill="#666" stroke="#666">Q</text>
<text x="239.90" y="401.90" font-size="2.9" text-anchor="start" stroke-width="0" fill="#444" stroke="#444">0.5%</text>
<text x="260.20" y="397.80" font-size="2.4" text-anchor="start" stroke-width="0" fill="#666" stroke="#666">Q</text>
<text x="261.60" y="401.90" font-size="2.9" text-anchor="start" stroke-width="0" fill="#444" stroke="#444">1.1%</text>
<ellipse cx="63.5" cy="324.3" rx="5.2" ry="1.3" transform="rotate(-42 63.5 324.3)" fill="#aaa" fill-opacity="0.7" filter="url(#f0_5)"/>
<line x1="61.3" y1="326.4" x2="65.8" y2="322.2" stroke="#555" stroke-width="0.8" stroke-linecap="round" opacity="0.8"/>
<path d="M64.7 320.4h0M63.0 328.2h0M64.3 322.2h0M59.9 322.2h0M56.1 328.9h0M69.1 320.7h0M64.3 328.7h0M60.5 321.7h0M69.9 322.5h0M59.5 321.8h0M58.1 318.1h0M66.9 326.1h0M62.9 320.5h0M65.0 319.4h0M67.2 317.7h0M70.0 315.0h0M62.2 320.3h0M59.7 328.3h0M62.7 319.7h0M64.6 320.1h0M61.4 324.8h0M66.4 323.1h0M68.7 319.4h0M59.5 324.1h0M62.3 319.1h0" stroke="#777" stroke-opacity="0.45" stroke-width="0.7" stroke-linecap="round" fill="none"/>
<path d="M68.8 314.7h0M69.5 318.1h0M80.9 326.9h0M79.4 323.1h0M59.8 323.2h0M83.5 308.8h0M71.1 312.2h0M64.7 323.4h0M73.1 314.7h0M82.0 311.4h0M62.0 313.6h0M63.0 321.1h0M68.2 310.7h0M65.9 305.1h0M72.2 317.6h0M76.6 315.6h0M74.5 311.4h0M70.7 317.9h0M58.3 320.5h0M71.9 317.3h0M65.7 329.0h0M70.5 312.4h0M62.0 320.6h0M68.4 312.3h0M63.2 322.6h0M71.4 323.3h0M70.3 309.9h0M79.2 318.9h0M63.9 315.1h0M60.8 322.0h0M66.3 319.9h0M73.1 315.4h0M74.2 315.5h0M58.7 314.5h0M58.7 321.5h0M77.0 313.5h0M76.7 318.5h0M80.3 311.4h0M70.8 311.0h0M63.7 325.2h0M75.4 321.7h0M53.3 319.2h0M81.5 322.4h0M63.2 325.1h0M68.6 320.7h0" stroke="#999" stroke-opacity="0.45" stroke-width="0.7" stroke-linecap="round" fill="none"/>
<ellipse cx="132.4" cy="324.3" rx="5.2" ry="1.3" transform="rotate(-42 132.4 324.3)" fill="#aaa" fill-opacity="0.7" filter="url(#f0_5)"/>
<line x1="130.20000000000002" y1="326.4" x2="134.70000000000002" y2="322.2" stroke="#555" stroke-width="0.8" stroke-linecap="round" opacity="0.8"/>
<path d="M135.1 327.1h0M126.0 320.3h0M131.7 324.5h0M131.9 320.5h0M129.2 321.4h0M131.8 324.0h0M136.7 325.6h0M131.5 319.0h0M132.6 322.7h0M130.4 328.1h0M140.6 317.7h0M137.4 322.5h0M134.0 325.5h0M129.9 326.2h0M137.7 323.3h0M130.8 323.4h0M133.9 321.2h0M134.6 324.2h0M131.5 327.6h0M133.2 321.1h0M126.6 326.1h0M134.2 325.1h0M130.7 319.9h0M136.3 320.8h0M131.9 319.4h0" stroke="#777" stroke-opacity="0.45" stroke-width="0.7" stroke-linecap="round" fill="none"/>
<path d="M128.4 322.4h0M153.4 319.2h0M137.5 314.3h0M122.3 322.9h0M138.4 324.4h0M132.2 323.3h0M132.3 320.5h0M153.1 312.8h0M148.4 317.0h0M130.1 318.2h0M145.8 312.7h0M136.7 313.6h0M131.8 315.7h0M147.6 314.0h0M151.8 314.7h0M132.5 323.4h0M153.4 313.1h0M145.2 310.1h0M135.4 314.8h0M146.4 309.5h0M134.3 312.9h0M140.4 309.7h0M141.5 308.0h0M147.7 309.2h0M120.7 326.9h0M151.8 312.0h0M128.6 319.8h0M159.5 320.6h0M145.9 310.0h0M121.8 319.3h0M149.4 317.8h0M139.3 325.2h0M131.1 323.5h0M147.6 313.3h0M140.6 317.6h0M145.1 311.2h0M137.1 317.5h0M139.7 317.1h0M141.9 315.9h0M134.5 323.1h0M133.0 315.1h0M130.7 310.2h0M143.8 316.7h0M138.1 319.7h0M137.7 321.0h0" stroke="#999" stroke-opacity="0.45" stroke-width="0.7" stroke-linecap="round" fill="none"/>
<ellipse cx="202.3" cy="324.3" rx="5.2" ry="1.3" transform="rotate(-42 202.3 324.3)" fill="#aaa" fill-opacity="0.7" filter="url(#f0_5)"/>
<line x1="200.10000000000002" y1="326.4" x2="204.60000000000002" y2="322.2" stroke="#555" stroke-width="0.8" stroke-linecap="round" opacity="0.8"/>
<path d="M209.3 317.4h0M204.8 327.4h0M201.3 317.1h0M207.4 318.8h0M202.9 317.6h0M198.0 324.6h0M201.9 318.7h0M201.8 327.5h0M200.3 325.5h0M195.6 322.6h0M201.8 323.0h0M199.3 330.0h0M207.0 322.0h0M198.1 322.4h0M202.3 323.7h0M200.5 322.4h0M197.3 324.9h0M201.0 322.3h0M207.5 316.6h0M202.9 320.5h0M199.6 321.6h0M197.5 321.6h0M199.5 327.6h0M200.7 322.3h0M203.7 319.3h0" stroke="#777" stroke-opacity="0.45" stroke-width="0.7" stroke-linecap="round" fill="none"/>
<path d="M213.6 314.8h0M218.8 322.6h0M209.9 323.4h0M214.2 326.2h0M208.1 307.9h0M211.4 318.4h0M205.7 315.8h0M206.6 309.6h0M226.1 312.4h0M198.8 307.7h0M201.0 316.8h0M223.8 320.5h0M202.2 309.7h0M198.3 316.5h0M217.8 314.2h0M225.0 328.4h0M220.0 316.4h0M215.8 322.8h0M199.4 317.4h0M211.0 312.6h0M216.1 316.2h0M205.3 328.0h0M210.9 326.6h0M207.8 323.1h0M201.9 317.9h0M214.5 315.4h0M219.9 318.0h0M208.5 309.5h0M206.1 312.7h0M206.3 318.3h0M196.2 323.2h0M206.7 320.5h0M206.4 314.7h0M202.7 318.8h0M213.3 311.2h0M190.1 321.3h0M206.1 323.3h0M217.8 316.4h0M195.3 314.9h0M202.1 324.3h0M192.7 322.4h0M194.2 313.6h0M195.4 312.9h0M204.9 319.2h0M203.5 321.0h0" stroke="#999" stroke-opacity="0.45" stroke-width="0.7" stroke-linecap="round" fill="none"/>
<ellipse cx="272.3" cy="324.3" rx="5.2" ry="1.3" transform="rotate(-42 272.3 324.3)" fill="#aaa" fill-opacity="0.7" filter="url(#f0_5)"/>
<line x1="270.1" y1="326.4" x2="274.6" y2="322.2" stroke="#555" stroke-width="0.8" stroke-linecap="round" opacity="0.8"/>
<path d="M278.7 317.3h0M267.9 326.6h0M271.2 322.6h0M278.6 321.4h0M280.3 317.2h0M272.9 319.0h0M272.1 327.0h0M270.4 320.2h0M263.9 318.6h0M269.7 320.5h0M269.6 320.7h0M268.0 325.1h0M279.4 310.9h0M267.1 326.0h0M277.6 321.0h0M274.0 319.9h0M271.1 321.0h0M270.0 322.0h0M265.2 326.0h0M279.8 317.2h0M269.4 325.4h0M273.2 327.1h0M270.8 321.8h0M275.3 321.3h0M268.3 323.8h0" stroke="#777" stroke-opacity="0.45" stroke-width="0.7" stroke-linecap="round" fill="none"/>
<path d="M280.6 307.4h0M270.3 322.9h0M287.6 323.5h0M274.9 313.5h0M276.6 314.2h0M291.7 315.7h0M292.4 312.8h0M282.9 326.5h0M272.0 313.1h0M273.4 307.5h0M276.3 313.2h0M288.5 316.8h0M282.0 321.2h0M273.7 317.2h0M280.6 326.7h0M293.0 318.0h0M266.1 322.2h0M278.7 323.8h0M279.7 318.0h0M285.6 312.7h0M272.8 330.4h0M270.8 322.5h0M285.8 321.8h0M292.5 309.1h0M279.7 319.0h0M289.2 323.3h0M270.1 315.4h0M277.6 312.9h0M271.2 313.1h0M290.4 325.0h0M286.5 326.9h0M280.1 310.6h0M272.8 318.2h0M289.2 324.1h0M270.4 322.6h0M274.0 320.5h0M288.1 325.7h0M274.0 318.4h0M283.3 314.5h0M280.1 320.5h0M263.2 313.2h0M273.7 306.2h0M269.8 320.0h0M285.8 319.6h0M284.9 313.4h0" stroke="#999" stroke-opacity="0.45" stroke-width="0.7" stroke-linecap="round" fill="none"/>
<path d="M63.6 384.1h0M59.0 386.8h0M55.2 390.3h0M61.1 389.3h0M55.0 386.0h0M55.1 393.6h0M60.4 384.9h0M59.0 392.5h0M56.0 389.3h0M57.3 381.8h0M55.8 390.7h0M58.3 377.6h0M53.0 391.4h0M56.4 392.5h0M54.9 385.0h0M54.5 383.3h0M58.5 388.5h0M55.0 388.3h0M53.0 384.6h0M53.6 379.7h0M53.6 381.6h0M61.9 386.1h0M60.4 383.2h0M54.8 388.0h0M51.3 386.9h0M61.4 379.2h0M56.4 388.0h0M52.5 388.9h0M58.2 384.5h0M62.2 390.1h0M55.5 386.1h0M51.3 384.9h0M58.6 388.9h0M53.6 382.7h0M52.3 379.9h0M57.0 388.9h0M54.1 385.7h0M53.5 389.4h0M59.7 385.7h0M56.8 381.8h0M55.9 391.1h0M56.9 383.3h0M59.4 392.4h0M53.4 391.6h0M56.9 387.3h0M62.6 391.4h0M58.4 386.4h0M56.4 392.2h0M59.4 384.7h0M58.6 387.4h0M58.2 386.9h0M51.4 378.6h0M58.2 377.7h0M59.8 386.1h0M60.6 378.2h0M56.7 391.9h0M59.1 382.0h0M60.8 386.1h0M54.8 387.8h0M59.9 382.6h0M56.9 387.7h0M60.3 394.3h0M66.4 386.9h0M53.5 388.2h0M63.6 384.6h0M56.6 384.0h0M58.3 389.7h0M56.1 390.3h0M54.7 385.1h0M56.7 387.7h0M61.3 389.0h0M61.1 389.7h0M60.7 389.3h0M54.8 383.0h0M63.6 387.8h0M66.7 385.0h0M53.0 390.7h0M57.5 390.5h0M52.4 388.0h0M60.2 388.1h0M60.4 388.5h0M58.5 386.4h0M52.5 385.6h0M59.5 384.7h0M52.1 379.0h0M61.7 387.7h0M52.9 392.1h0M58.1 380.8h0M56.5 383.3h0M57.4 383.4h0M56.6 389.5h0M55.2 386.1h0M55.5 390.9h0M53.6 390.1h0M61.4 387.8h0M54.0 385.3h0M51.5 383.5h0M53.1 385.7h0M55.1 389.4h0M56.9 389.4h0M56.5 388.7h0M52.3 389.3h0M60.1 393.5h0M51.9 388.1h0M56.8 385.3h0M54.7 385.8h0M58.1 383.3h0M56.8 388.7h0M58.8 387.8h0M60.0 389.8h0M51.5 388.9h0M62.0 376.5h0M55.9 389.0h0M57.0 387.9h0M54.8 393.4h0M58.6 386.6h0M54.6 384.4h0M57.9 388.4h0M56.4 393.7h0M60.4 390.4h0M57.2 387.3h0M55.0 391.6h0M53.8 381.8h0M56.5 382.9h0M53.0 392.0h0M52.7 385.2h0M56.1 382.7h0M51.8 386.4h0M54.3 391.9h0M63.6 387.9h0M54.5 385.5h0M57.5 392.0h0M53.1 388.7h0M55.5 392.4h0M55.8 386.2h0M55.6 381.0h0M57.1 390.8h0M60.5 389.7h0M56.4 383.1h0M53.8 383.3h0M58.0 388.2h0M57.2 382.7h0M56.3 389.8h0M55.0 380.7h0M55.5 388.3h0M54.3 394.0h0M58.6 383.3h0M60.4 385.4h0M59.2 388.6h0M62.4 384.3h0M58.9 390.0h0M53.0 389.7h0M64.3 391.1h0M54.5 386.1h0M61.1 389.8h0M62.8 386.0h0M63.3 381.8h0M56.7 386.1h0M53.9 392.4h0M54.5 388.5h0M62.4 392.8h0M56.4 383.9h0M58.7 393.1h0M62.3 378.2h0M53.0 390.2h0M54.6 390.8h0M66.7 386.5h0M64.7 389.2h0M51.8 386.6h0M60.8 385.8h0M63.4 385.2h0M55.2 391.3h0M56.9 384.9h0M56.2 390.3h0M63.5 389.1h0M51.3 385.8h0M56.7 382.8h0M55.3 386.7h0M56.1 391.5h0M52.5 391.6h0M56.3 390.7h0M62.7 383.3h0M63.3 385.9h0M57.1 392.6h0M62.0 381.5h0M56.2 392.6h0M56.7 387.0h0M56.2 382.9h0M53.8 384.2h0M55.8 388.8h0M58.7 379.9h0M61.1 382.3h0M63.1 377.8h0M64.4 392.2h0M57.4 385.5h0M56.0 386.2h0M57.7 383.5h0M54.4 389.4h0M60.4 382.2h0M53.5 393.9h0M53.5 381.7h0M51.7 377.0h0M56.9 382.6h0M54.0 383.5h0M55.4 390.9h0M61.0 380.4h0M62.6 387.4h0M53.6 386.4h0M57.2 381.1h0M63.1 386.4h0M54.3 389.3h0M62.2 391.2h0M53.4 388.6h0M60.4 390.2h0M59.8 386.0h0M58.7 380.1h0M55.8 381.9h0M55.3 394.0h0M53.9 386.2h0M62.0 385.2h0M52.8 392.1h0M57.7 390.1h0M60.8 385.0h0M58.5 384.8h0M54.3 387.4h0M60.0 382.4h0M53.6 389.4h0M56.8 390.6h0M56.8 383.7h0M59.0 390.8h0M53.6 389.7h0M62.8 387.7h0M53.3 387.7h0M56.6 390.1h0M51.8 387.3h0M59.3 391.4h0M57.8 393.3h0M52.7 392.1h0M58.9 383.4h0M55.6 388.4h0M56.6 393.7h0M58.3 385.5h0M65.0 388.1h0M53.0 390.8h0M56.5 383.7h0M51.9 391.7h0M53.2 387.0h0M55.6 386.2h0M54.0 387.4h0M57.9 392.7h0M57.1 382.1h0M51.8 386.2h0M57.0 388.1h0M52.9 383.4h0M53.6 389.8h0M54.8 389.8h0M61.0 379.6h0M54.7 392.8h0M55.1 387.6h0M58.0 382.1h0M64.8 389.0h0M59.7 386.2h0M60.5 393.8h0M60.0 392.8h0M57.8 394.2h0M58.2 388.5h0M60.9 384.4h0M58.3 384.6h0M57.2 383.1h0M53.8 387.6h0M56.4 391.3h0M55.9 390.2h0M60.2 385.1h0M51.9 383.0h0M56.7 385.0h0M65.5 386.6h0M59.5 384.7h0M60.9 382.7h0M60.1 389.2h0M57.0 382.0h0M63.5 386.6h0M64.8 378.4h0M63.2 389.3h0M59.8 391.1h0M55.6 387.8h0M54.5 380.6h0M56.6 390.8h0M59.0 382.4h0M59.8 388.7h0M59.9 387.0h0M54.8 391.9h0M63.2 383.6h0M52.0 390.7h0M58.2 388.1h0M52.4 391.0h0M57.4 388.7h0M58.9 385.6h0M58.2 388.5h0M59.1 389.9h0M53.3 383.3h0M54.7 392.3h0M53.4 391.9h0M59.7 392.4h0M64.9 389.6h0M56.7 393.1h0M57.2 392.2h0M54.9 393.6h0M60.4 379.6h0M61.0 387.7h0M54.3 385.4h0M54.7 392.3h0M58.2 387.6h0M58.0 383.6h0M55.3 384.9h0M57.5 382.3h0M54.4 391.5h0M58.6 388.0h0M58.5 386.8h0M51.8 390.3h0M64.2 391.9h0M52.1 388.7h0M56.1 386.0h0M51.3 385.7h0M60.2 381.0h0M56.8 385.2h0M52.8 389.4h0M62.2 390.9h0M59.7 391.8h0M56.1 390.0h0M62.1 387.0h0" stroke="#333" stroke-opacity="0.42" stroke-width="0.9" stroke-linecap="round" fill="none"/>
<path d="M55.3 370.7h0M65.2 379.5h0M65.1 386.8h0M56.1 391.5h0M62.7 383.8h0M63.9 371.0h0M57.3 383.5h0M58.1 375.5h0M57.3 374.8h0M59.5 376.4h0M64.7 368.9h0M62.9 378.3h0M64.4 369.6h0M63.0 391.0h0M55.9 378.1h0M55.4 373.8h0M70.0 386.0h0M57.1 374.7h0M55.8 386.1h0M59.2 383.7h0M64.1 380.4h0M60.6 378.7h0M57.2 377.0h0M62.2 382.0h0M63.6 375.7h0M62.9 370.6h0M71.6 381.1h0M71.2 386.0h0M54.3 380.9h0M65.3 384.7h0M56.6 370.8h0M65.1 375.4h0M61.1 376.1h0M55.5 370.7h0M61.2 373.7h0M53.2 385.4h0M62.7 385.2h0M60.2 369.7h0M59.2 379.4h0M57.4 372.3h0M63.3 385.1h0M70.0 385.6h0M57.2 376.2h0M64.2 377.1h0M63.1 381.4h0M63.1 388.2h0M70.7 380.4h0M58.2 381.8h0M66.6 381.5h0M59.7 386.5h0M65.0 381.2h0M58.1 379.8h0M51.3 382.9h0M57.2 378.2h0M57.8 377.7h0M60.7 379.5h0M56.9 379.5h0M61.1 382.4h0M61.0 375.9h0M51.5 370.5h0M55.5 384.3h0M60.6 391.1h0M58.2 377.0h0M57.7 376.0h0M57.4 380.8h0M53.8 383.0h0M57.0 373.6h0M65.8 379.2h0M63.0 372.6h0M65.8 372.8h0M59.3 375.3h0M64.0 389.3h0M58.0 373.1h0M67.0 385.7h0M66.3 381.9h0M62.2 385.7h0M52.9 373.3h0M58.1 378.0h0M62.7 370.3h0M63.0 371.8h0M55.6 370.1h0M61.1 378.9h0M52.6 367.8h0M59.0 383.0h0M53.9 387.2h0M58.5 375.6h0M62.9 382.7h0M57.7 374.2h0M61.6 373.1h0M64.5 384.4h0M70.6 386.3h0M65.1 377.8h0M59.7 380.7h0M60.6 372.5h0M60.8 368.9h0M53.6 378.2h0M54.8 371.2h0M62.5 377.0h0M63.2 369.8h0M53.8 387.2h0M61.9 385.6h0M66.1 391.1h0M62.1 388.9h0M51.9 368.8h0M53.4 374.8h0M65.3 385.3h0M69.8 371.7h0M64.4 378.7h0M66.2 390.9h0M67.8 387.3h0M63.9 383.8h0M62.0 377.4h0M55.7 378.0h0M59.0 376.6h0M56.4 375.3h0M63.2 375.7h0M58.8 377.9h0M64.4 372.9h0M63.9 370.6h0M68.8 379.6h0M59.1 382.9h0M62.4 370.6h0M59.9 381.5h0M58.2 377.6h0M61.0 380.9h0M67.9 386.6h0M63.7 390.9h0M55.2 370.2h0M57.0 377.8h0M56.8 379.5h0M64.2 380.1h0M63.4 376.2h0M62.5 387.1h0M68.9 377.8h0M58.2 373.3h0M70.7 377.1h0M58.1 367.7h0M69.9 393.0h0M58.7 378.1h0M66.4 374.6h0M69.5 389.4h0M52.3 376.3h0M63.4 378.3h0M59.7 377.9h0M61.6 381.0h0M57.1 378.3h0M57.9 371.7h0M62.6 376.9h0M58.7 390.0h0M60.3 388.2h0M64.5 389.3h0M62.0 386.0h0M53.1 367.9h0M63.2 381.2h0M66.7 388.7h0M52.5 371.6h0M59.2 374.1h0M59.6 379.2h0M59.5 387.6h0M64.7 390.5h0M64.3 385.1h0M56.8 375.5h0M55.1 374.6h0M62.5 378.9h0M51.6 371.3h0M59.8 370.2h0M57.0 379.5h0M61.4 381.6h0M65.4 381.5h0M62.1 387.6h0M59.6 373.8h0M63.3 368.4h0M65.8 385.9h0M61.6 380.9h0M62.5 382.9h0M61.1 378.6h0M60.3 376.6h0M69.7 376.7h0M59.0 384.5h0M54.8 372.4h0M60.2 382.8h0M68.5 383.1h0M60.6 377.5h0M64.5 386.2h0M62.9 386.6h0M56.4 380.6h0M65.6 381.8h0M59.4 375.4h0M55.1 378.3h0M64.9 370.9h0M63.8 377.1h0M55.4 382.0h0M59.9 370.0h0M53.7 379.0h0M61.5 373.7h0M63.3 381.0h0M61.4 381.8h0M65.2 375.2h0M58.4 371.6h0M56.5 379.9h0M61.7 373.1h0M56.5 387.7h0M55.6 382.0h0M59.4 372.1h0M64.7 385.2h0M60.9 384.2h0M57.9 372.9h0M55.5 376.4h0M69.3 383.5h0M56.5 368.7h0M56.7 377.5h0M51.4 382.9h0M57.4 370.1h0M56.8 377.0h0M70.2 379.3h0M63.7 378.0h0M57.0 387.5h0M51.4 368.4h0M62.3 375.3h0M61.5 382.2h0" stroke="#555" stroke-opacity="0.4" stroke-width="0.75" stroke-linecap="round" fill="none"/>
<path d="M66.4 377.4h0M76.9 373.1h0M65.6 375.1h0M72.5 372.6h0M68.6 371.0h0M67.5 378.2h0M62.4 373.9h0M58.0 370.9h0M68.6 378.2h0M61.0 374.4h0M61.7 376.9h0M69.8 377.6h0M63.4 374.7h0M75.4 371.2h0M62.7 376.2h0M53.9 386.8h0M57.5 381.0h0M74.7 380.7h0M67.3 379.3h0M65.7 380.7h0M63.6 370.2h0M70.6 372.3h0M72.6 369.9h0M69.9 369.2h0M67.3 387.7h0M60.7 367.7h0M57.1 373.7h0M79.1 372.3h0M74.4 373.9h0M63.7 386.9h0M61.4 377.4h0M72.5 373.7h0M70.2 378.2h0M65.6 380.9h0M62.2 379.5h0M74.2 376.2h0M65.7 374.9h0M52.9 376.5h0M73.2 369.6h0M70.4 375.3h0M56.1 369.7h0M66.2 377.8h0M68.5 367.5h0M64.4 375.6h0M59.4 372.4h0M79.7 380.2h0M64.9 380.6h0M60.9 384.0h0M65.5 375.8h0M64.1 375.6h0M70.3 375.2h0M62.4 379.5h0M71.8 375.0h0M75.2 370.7h0M76.7 374.1h0M78.3 372.4h0M66.3 376.3h0M75.4 383.5h0M64.9 370.7h0M73.2 382.3h0M72.8 373.1h0M76.7 374.9h0M69.2 378.7h0M69.5 379.2h0M71.0 378.2h0M69.1 381.2h0M68.8 383.8h0M68.4 379.7h0M64.3 376.8h0M70.9 375.8h0M78.5 375.3h0M75.6 377.1h0M75.4 369.7h0M65.5 380.7h0M62.5 377.3h0M71.9 376.2h0M71.0 378.2h0M66.4 377.4h0M64.5 372.3h0M57.3 374.4h0M56.5 375.2h0M69.4 368.6h0M68.5 376.7h0M65.6 369.6h0M67.3 377.4h0M74.3 386.4h0M54.6 377.0h0M71.0 371.2h0M70.2 387.4h0M68.8 383.1h0M75.2 372.4h0M52.3 381.9h0M66.7 370.9h0M69.4 375.4h0M75.8 371.5h0M69.5 390.9h0M67.3 378.7h0M74.1 372.9h0M55.0 376.3h0M64.7 378.3h0" stroke="#999" stroke-opacity="0.4" stroke-width="0.7" stroke-linecap="round" fill="none"/>
<path d="M135.4 369.8h0M139.8 367.9h0M124.4 369.2h0M130.7 367.5h0M122.2 368.3h0M126.9 369.8h0M121.9 367.9h0M133.4 369.8h0M132.6 370.6h0M132.8 368.5h0M135.6 369.0h0M124.3 367.6h0M131.6 369.0h0M125.9 367.8h0M128.7 369.0h0M130.5 369.3h0M135.3 367.6h0M133.6 369.5h0M136.0 368.3h0M132.8 369.1h0M135.2 369.6h0M130.2 368.3h0M130.6 369.0h0M131.6 370.0h0M129.3 368.6h0M130.9 370.9h0M127.4 367.5h0M130.8 369.4h0M133.1 368.4h0M131.8 368.3h0M143.3 369.0h0M135.5 369.7h0M130.9 370.2h0M138.8 368.0h0M125.7 369.6h0M139.4 367.4h0M142.4 367.8h0M137.4 368.4h0M131.1 367.9h0M137.1 369.3h0M137.7 368.3h0M128.0 370.9h0M143.0 368.4h0M126.3 370.2h0M133.8 368.7h0M138.0 369.0h0M133.7 370.8h0M121.9 369.3h0M127.2 368.7h0M132.0 368.9h0M146.7 368.1h0M138.3 369.3h0M134.7 368.1h0M136.7 368.9h0M141.5 369.5h0M141.9 369.1h0M134.0 367.9h0M147.7 370.1h0M133.6 368.2h0M136.4 370.1h0M136.1 369.6h0M134.5 369.0h0M125.5 368.7h0M133.3 368.5h0M131.6 368.9h0M129.6 368.4h0M125.3 371.1h0M129.8 368.1h0M142.7 369.7h0M130.8 369.2h0M135.0 369.2h0M128.9 368.6h0M139.3 368.8h0M134.1 369.2h0M125.5 368.9h0M138.3 368.4h0M138.9 370.8h0M139.4 370.1h0M135.4 369.0h0M137.1 369.3h0M125.4 369.4h0M138.9 368.2h0M127.6 368.1h0M129.5 369.2h0M137.6 368.6h0M130.5 367.5h0M129.7 369.0h0M134.0 372.4h0M127.8 368.0h0M126.2 368.3h0M131.3 369.7h0M121.4 369.6h0M136.8 368.0h0M128.9 368.8h0M136.1 368.4h0M132.1 368.6h0M126.5 368.9h0M136.4 368.7h0M126.2 368.6h0M132.3 368.9h0M130.5 369.5h0M139.5 369.5h0M134.4 369.9h0M132.7 368.4h0M124.5 368.6h0M140.2 367.6h0M134.8 370.6h0M134.7 368.4h0M137.7 368.0h0M122.7 368.1h0M136.5 369.7h0M134.6 368.6h0M137.1 368.4h0M130.3 368.8h0M139.5 368.1h0M135.9 367.9h0M128.6 368.8h0M125.0 367.7h0M125.9 368.0h0M127.5 371.1h0M136.6 368.7h0M135.6 367.9h0M139.2 368.2h0M125.2 367.9h0M137.2 368.0h0M137.1 368.0h0M131.6 368.0h0M129.7 367.9h0M141.9 368.5h0M121.3 370.4h0M140.4 369.8h0M132.3 368.4h0M130.1 368.7h0M135.8 368.6h0M128.1 367.6h0M142.9 370.4h0M125.6 367.9h0M132.7 369.2h0M132.3 368.9h0M135.1 369.8h0M125.2 369.8h0M135.6 369.2h0M123.9 368.4h0M131.4 369.3h0M137.0 369.3h0M125.2 370.0h0M133.3 369.6h0M132.9 367.9h0M148.6 369.3h0M137.5 368.1h0" stroke="#333" stroke-opacity="0.45" stroke-width="0.9" stroke-linecap="round" fill="none"/>
<path d="M123.0 388.6h0M124.5 392.9h0M126.1 373.7h0M120.1 388.9h0M124.8 379.3h0M122.8 377.2h0M127.4 379.9h0M120.4 387.2h0M123.3 383.4h0M122.6 380.8h0M122.0 378.4h0M124.2 389.7h0M124.7 387.9h0M121.5 383.2h0M124.3 387.3h0M122.1 379.8h0M122.3 388.7h0M125.8 378.0h0M123.2 382.5h0M121.5 380.3h0M125.4 386.3h0M122.0 376.7h0M123.2 371.1h0M124.1 381.9h0M120.5 379.5h0M122.0 379.2h0M121.5 390.2h0M121.3 386.2h0M123.9 390.8h0M123.3 381.1h0M123.6 368.4h0M128.7 379.6h0M122.8 373.5h0M123.2 391.9h0M121.8 384.0h0M125.7 387.4h0M122.6 369.4h0M124.4 384.9h0M122.7 378.2h0M127.3 370.5h0M122.3 377.0h0M120.0 376.4h0M121.7 389.4h0M124.0 370.7h0M120.8 374.6h0M123.1 384.1h0M122.0 379.2h0M125.0 380.1h0M125.1 377.2h0M124.5 389.6h0M122.7 378.8h0M123.1 384.2h0M120.8 381.3h0M122.2 390.6h0M122.8 376.1h0M123.8 379.5h0M123.5 382.7h0M126.1 378.4h0M127.5 389.2h0M126.9 382.4h0M124.1 374.4h0M126.4 373.4h0M121.7 381.1h0M124.0 383.3h0M120.9 378.8h0M124.5 389.0h0M125.1 383.8h0M122.9 377.5h0M122.3 380.5h0M124.6 377.7h0M128.0 374.5h0M125.2 379.7h0M123.2 378.6h0M126.8 379.1h0M124.7 381.9h0M125.1 385.0h0M127.1 376.3h0M121.7 392.3h0M126.3 381.6h0M122.8 382.8h0M126.3 376.0h0M126.6 380.7h0M122.7 378.5h0M120.6 377.4h0M121.5 382.7h0M125.0 381.4h0M123.9 383.8h0M127.0 384.9h0M126.9 380.7h0M124.2 376.8h0M124.8 375.4h0M124.5 376.9h0M122.7 389.2h0M123.8 386.3h0M122.9 368.8h0M126.7 379.9h0M122.0 387.4h0M121.0 376.2h0M126.0 376.5h0M125.9 379.1h0M123.0 381.6h0M122.4 388.2h0M125.9 381.5h0M124.8 384.7h0M127.1 370.6h0M125.7 387.1h0M122.8 381.2h0M122.7 389.3h0M121.0 385.1h0M126.3 384.9h0M122.4 378.1h0M125.9 374.9h0M120.2 384.1h0M121.5 387.4h0M123.2 371.8h0M121.8 376.8h0M121.6 389.3h0M121.3 383.5h0M122.2 385.0h0M120.3 370.8h0M124.6 390.5h0M120.4 379.0h0M122.3 374.9h0M125.6 381.4h0M120.4 379.7h0M126.4 376.4h0M122.3 375.7h0M123.8 377.5h0M125.4 375.6h0M120.3 384.1h0M124.1 382.7h0M122.2 378.2h0M121.7 379.9h0M122.5 384.8h0M123.5 384.8h0M127.0 379.3h0M122.8 383.6h0M128.1 378.8h0M127.2 388.9h0M121.3 383.7h0M126.4 381.5h0M121.5 392.0h0M121.6 378.0h0M123.4 386.1h0M125.0 384.6h0M121.8 392.9h0M126.1 381.4h0M122.2 380.8h0M123.0 376.5h0M123.4 376.7h0M124.9 376.8h0M124.5 383.2h0M123.8 384.6h0M121.9 386.0h0M123.5 378.3h0M127.3 388.4h0M122.9 384.8h0M125.0 391.6h0M125.7 380.0h0M122.9 373.4h0M124.0 386.8h0M122.6 385.5h0M123.8 378.1h0M120.8 388.5h0M129.0 384.7h0M121.1 374.3h0M124.0 385.4h0M127.5 382.2h0M123.8 383.7h0M122.7 379.2h0M125.8 369.6h0M123.2 384.8h0M126.8 383.6h0M125.0 385.8h0M124.0 383.5h0M121.7 379.7h0M127.5 373.0h0M123.1 372.7h0M122.3 376.0h0M120.8 382.7h0" stroke="#444" stroke-opacity="0.4" stroke-width="0.8" stroke-linecap="round" fill="none"/>
<path d="M126.3 381.6h0M131.2 380.6h0M133.2 386.1h0M141.0 371.8h0M131.4 380.3h0M126.7 378.7h0M122.0 375.1h0M130.9 369.6h0M134.3 369.3h0M135.4 377.7h0M132.9 369.2h0M130.6 381.3h0M121.4 371.1h0M137.8 391.4h0M135.9 377.6h0M125.5 375.4h0M130.4 381.0h0M124.9 378.1h0M137.9 380.8h0M140.1 382.0h0M147.3 383.4h0M134.7 388.3h0M129.3 374.5h0M125.9 379.7h0M134.6 384.3h0M140.7 382.3h0M139.4 376.4h0M126.2 383.0h0M138.1 387.0h0M131.0 374.9h0M129.8 380.5h0M131.7 376.8h0M133.5 376.1h0M134.0 374.1h0M122.7 376.0h0M143.3 372.7h0M137.5 387.1h0M128.7 379.8h0M141.2 379.3h0M120.0 374.2h0M127.5 378.8h0M133.7 375.3h0M130.1 372.6h0M135.4 379.4h0M134.1 374.7h0M135.0 376.1h0M133.8 377.0h0M128.0 370.7h0M120.8 368.9h0M122.1 372.6h0M130.8 370.2h0M134.5 392.1h0M139.4 370.2h0M131.4 373.8h0M136.6 368.3h0M133.9 379.5h0M135.4 380.9h0M130.0 371.7h0M135.2 376.5h0M132.9 385.5h0M131.3 389.4h0M137.0 368.0h0M128.5 386.3h0M129.0 386.1h0M128.6 377.2h0M138.2 367.4h0M132.5 375.0h0M133.0 389.6h0M134.9 368.9h0M137.8 375.0h0M133.0 385.9h0M130.1 384.5h0M133.1 371.9h0M130.1 368.9h0M139.1 379.1h0M137.8 370.5h0M137.1 370.0h0M133.7 377.9h0M128.4 380.1h0M132.2 372.2h0M127.5 369.2h0M140.2 379.0h0M129.8 382.7h0M126.8 370.2h0M134.1 388.7h0M133.8 379.1h0M142.5 367.6h0M150.4 370.6h0M131.6 368.9h0M124.7 376.4h0M146.7 371.6h0M128.3 379.8h0M125.9 376.3h0M130.2 376.0h0M128.9 377.2h0M121.2 375.0h0M128.9 371.0h0M139.6 391.6h0M136.8 372.1h0M140.5 381.4h0M127.1 382.1h0M128.5 381.9h0M137.5 385.8h0M125.7 377.1h0M132.0 369.7h0M134.5 382.7h0M123.7 374.3h0M125.4 369.4h0M125.6 387.3h0M128.0 375.3h0M137.9 385.0h0M128.2 375.2h0M128.6 391.3h0M131.0 386.0h0M130.9 377.6h0M135.1 381.0h0M135.0 380.2h0M135.6 377.6h0M134.5 369.2h0M138.8 369.8h0M140.4 384.9h0M131.6 376.0h0M136.7 375.9h0M124.9 379.9h0M124.7 374.9h0M142.8 383.5h0M129.3 377.5h0M128.1 377.9h0M123.3 382.6h0M132.1 373.8h0M129.3 374.8h0M128.5 374.6h0M139.9 382.6h0M134.5 380.5h0M141.1 382.9h0M133.3 379.9h0M133.2 378.1h0M135.4 378.3h0M137.9 380.1h0M130.3 382.1h0M133.1 375.0h0M129.7 375.1h0M130.2 375.0h0M131.3 385.6h0M129.2 376.9h0M127.5 368.7h0M126.9 374.5h0M132.9 375.7h0M124.8 375.5h0M141.1 372.0h0M132.4 384.9h0M127.2 374.1h0M149.4 386.4h0M128.8 379.1h0M132.6 379.0h0M134.8 376.0h0M132.9 368.7h0M130.1 388.2h0M133.4 373.5h0M132.8 385.1h0M121.7 369.5h0M128.0 375.0h0M131.5 374.1h0M132.6 378.6h0M125.0 373.8h0M124.6 380.0h0M133.6 382.4h0M126.7 374.4h0M122.3 380.4h0M138.5 381.0h0M135.8 379.5h0M134.2 384.4h0M139.6 391.7h0M130.4 383.7h0M137.2 380.9h0M133.6 369.4h0M138.5 372.0h0M128.1 372.2h0M135.4 371.4h0M134.7 381.8h0M132.6 375.7h0M135.6 386.9h0M129.2 370.9h0M128.4 372.0h0M130.6 376.9h0M127.1 375.1h0M125.9 379.6h0M133.3 388.3h0M130.3 384.2h0M133.9 371.7h0M137.9 373.9h0M134.1 375.3h0M130.7 379.0h0M125.3 378.7h0M137.8 376.7h0M130.9 381.6h0M141.4 371.9h0M122.4 376.1h0M136.6 369.1h0M138.7 384.4h0" stroke="#666" stroke-opacity="0.4" stroke-width="0.7" stroke-linecap="round" fill="none"/>
<path d="M146.7 374.3h0M134.3 384.4h0M143.6 384.7h0M148.7 386.8h0M140.3 380.0h0M144.7 385.1h0M140.9 376.5h0M136.2 387.0h0M144.1 376.1h0M134.4 376.5h0M134.3 376.9h0M138.7 383.5h0M135.9 367.7h0M138.4 370.7h0M146.4 378.6h0M132.0 374.1h0M141.8 379.7h0M131.0 379.1h0M143.8 386.7h0M148.6 379.2h0M134.2 377.5h0M145.9 373.8h0M149.5 373.5h0M135.3 385.6h0M141.4 382.2h0M140.2 380.2h0M138.5 392.8h0M145.9 379.1h0M144.8 385.6h0M138.8 381.2h0M143.2 376.2h0M137.4 378.6h0M140.2 377.2h0M130.4 380.5h0M145.9 380.5h0M152.3 385.8h0M139.9 375.4h0M145.0 377.5h0M132.3 380.8h0M140.2 378.5h0M145.7 381.3h0M154.1 375.0h0M141.4 382.1h0M139.4 376.5h0M152.5 370.2h0M144.1 368.1h0M135.0 387.7h0M151.2 380.9h0M125.7 386.9h0M143.5 372.5h0M139.9 371.1h0M141.4 379.4h0M142.7 385.3h0M135.0 371.5h0M139.8 377.0h0M141.7 389.2h0M142.2 372.7h0M140.2 374.1h0M140.6 383.9h0M135.2 384.7h0M152.7 390.3h0M151.7 380.6h0M133.9 393.5h0M141.7 381.6h0M139.9 373.6h0M145.7 370.6h0M133.8 383.7h0M139.8 374.3h0M145.0 389.6h0M140.3 379.1h0" stroke="#999" stroke-opacity="0.4" stroke-width="0.7" stroke-linecap="round" fill="none"/>
<line x1="129" y1="391" x2="134" y2="386" stroke="#555" stroke-width="1.1" opacity="0.8"/>
<path d="M206.9 386.3h0M210.2 384.6h0M198.4 383.6h0M203.0 368.5h0M211.6 383.9h0M212.5 379.6h0M208.1 379.5h0M204.1 386.1h0M203.4 384.1h0M202.8 388.3h0M207.5 368.8h0M214.6 383.0h0M199.4 375.8h0M216.9 380.6h0M206.6 384.0h0M198.8 391.8h0M217.7 374.8h0M210.9 369.0h0M200.7 380.4h0M203.4 383.8h0M205.8 382.5h0M202.1 382.0h0M199.1 393.2h0M203.4 388.3h0M203.7 379.0h0M201.7 371.3h0M217.5 382.8h0M203.9 376.9h0M211.9 377.8h0M199.8 376.4h0M213.7 382.1h0M202.0 375.7h0M211.9 381.9h0M200.7 386.0h0M209.1 373.3h0M211.0 387.3h0M201.3 371.1h0M210.6 377.7h0M201.6 378.1h0M201.1 385.6h0M195.4 383.6h0M211.1 387.1h0M208.0 381.8h0M201.7 379.2h0M196.9 391.2h0M202.2 373.3h0M208.8 390.1h0M205.0 377.9h0M195.3 384.3h0M201.4 375.6h0M207.2 371.4h0M198.8 370.5h0M201.4 385.3h0M194.0 389.1h0M198.3 376.8h0M209.9 375.1h0M213.1 378.7h0M202.4 373.6h0M211.0 379.6h0M199.7 373.7h0M198.7 379.4h0M198.1 385.3h0M202.8 375.9h0M206.2 389.5h0M210.5 380.9h0M208.7 369.8h0M197.9 386.7h0M202.4 380.4h0M207.4 382.5h0M206.2 376.7h0M201.0 388.7h0M199.7 370.4h0M200.7 386.0h0M215.4 381.0h0M198.8 384.1h0M205.2 387.9h0M206.7 385.0h0M206.6 382.8h0M196.9 378.9h0M214.1 388.9h0M209.7 382.6h0M202.4 382.3h0M200.9 387.2h0M201.0 375.0h0M192.1 390.3h0M198.0 374.3h0M205.9 391.9h0M207.7 377.8h0M207.0 374.5h0M201.4 380.2h0M203.2 385.2h0M206.8 392.5h0M208.8 378.1h0M204.9 374.4h0M199.0 377.8h0M210.1 375.4h0M192.5 373.3h0M195.0 378.8h0M201.1 372.3h0M197.8 377.3h0M205.9 384.1h0M212.2 378.3h0M207.5 380.5h0M195.7 375.8h0M218.1 379.0h0M214.4 385.5h0M214.5 378.8h0M209.6 378.0h0M195.7 372.3h0M206.2 369.4h0M205.7 374.3h0M205.6 370.9h0M209.0 378.5h0M192.8 370.5h0M203.7 369.2h0M205.5 383.2h0M198.8 389.3h0M213.1 382.1h0M206.3 383.1h0M201.5 388.7h0M203.4 382.9h0M208.9 372.7h0M212.7 374.6h0M207.5 384.8h0M204.5 387.5h0M199.9 393.6h0M206.6 377.2h0M220.9 380.0h0M192.3 389.4h0M213.8 376.2h0M196.6 387.5h0M203.7 373.7h0M200.0 380.5h0M209.9 390.4h0M199.1 390.2h0M193.0 384.7h0M202.3 382.9h0M200.3 375.3h0M205.2 387.5h0M200.6 372.9h0M194.2 383.4h0M207.0 384.3h0M189.8 369.9h0M199.1 377.2h0M215.2 377.5h0M204.1 386.6h0M214.6 382.5h0M205.6 392.8h0M200.6 368.1h0M198.2 377.9h0M212.2 382.1h0M211.4 380.7h0M203.6 376.2h0M194.9 383.4h0M205.7 383.8h0M199.7 377.2h0M205.8 384.0h0M216.8 374.2h0M210.0 385.9h0M201.5 380.9h0M202.9 390.1h0M220.5 382.2h0M201.6 386.3h0M206.6 378.8h0M208.4 385.8h0M200.6 385.7h0M201.2 381.1h0M193.4 389.8h0M200.7 381.0h0M203.0 385.0h0M199.4 384.9h0M197.7 370.2h0M206.8 381.1h0M204.0 375.8h0M202.0 377.4h0M200.8 375.6h0M210.2 368.6h0M192.0 382.3h0M216.9 375.0h0M197.2 372.3h0M196.4 388.3h0M207.9 386.0h0M205.6 381.6h0M199.4 373.6h0M200.8 388.4h0M198.5 380.3h0M214.8 379.5h0M207.6 376.3h0M216.0 371.8h0M207.1 378.4h0M204.6 382.4h0M212.2 385.8h0M210.4 382.5h0M196.1 388.9h0M213.7 383.2h0M208.7 378.5h0M193.5 386.6h0M198.4 392.7h0M208.0 379.9h0M199.1 380.7h0M196.5 377.5h0M214.1 378.0h0M215.7 379.4h0M206.1 373.9h0M201.3 377.0h0M193.9 392.9h0M207.3 379.5h0M195.9 380.2h0M196.2 373.6h0M191.5 383.7h0M193.7 379.1h0M203.7 375.0h0M215.3 383.6h0M199.0 369.1h0M204.5 375.5h0M210.2 373.1h0M211.4 376.9h0M204.6 378.2h0M207.5 387.7h0M199.6 374.0h0M216.1 386.4h0M216.2 386.4h0M204.2 390.9h0M198.7 377.2h0M200.5 384.6h0M197.5 378.8h0M197.5 378.5h0M210.9 387.4h0M198.5 383.1h0M195.2 388.3h0M202.4 381.8h0M211.8 380.2h0M198.9 375.9h0M196.8 383.7h0M200.0 383.4h0M193.0 377.1h0M217.2 382.4h0M202.5 387.9h0M205.1 390.3h0M195.3 385.1h0M196.0 384.6h0M219.9 390.2h0M197.4 382.8h0M206.3 375.2h0M204.9 372.9h0M209.8 386.1h0M202.1 384.6h0M219.4 378.9h0M190.5 382.3h0M200.1 374.8h0" stroke="#666" stroke-opacity="0.4" stroke-width="0.7" stroke-linecap="round" fill="none"/>
<path d="M197.7 386.8h0M196.8 390.4h0M193.2 378.6h0M194.5 381.3h0M192.3 382.3h0M198.2 377.4h0M196.7 380.1h0M194.6 381.7h0M199.5 384.0h0M197.1 381.9h0M195.0 381.6h0M193.6 372.2h0M199.4 391.5h0M199.7 370.5h0M196.7 374.2h0M194.5 378.1h0M193.3 376.6h0M193.7 385.5h0M199.8 386.3h0M195.0 380.2h0M194.4 380.9h0M193.3 380.0h0M197.5 379.7h0M192.7 380.3h0M195.3 380.6h0M194.3 385.1h0M194.9 375.2h0M196.7 376.9h0M197.3 385.7h0M196.5 382.8h0M191.1 379.9h0M195.4 384.7h0M191.8 380.1h0M190.6 382.0h0M195.3 381.7h0M199.9 385.2h0M194.5 377.7h0M193.8 385.5h0M197.7 378.1h0M194.7 378.5h0M197.1 382.1h0M192.9 375.9h0M198.9 373.0h0M201.0 377.9h0M197.6 384.2h0M197.5 387.5h0M193.7 380.9h0M197.9 384.2h0M192.8 376.7h0M190.8 382.5h0M193.5 372.1h0M193.4 382.9h0M195.6 379.7h0M195.5 384.8h0M191.5 376.3h0M197.9 385.2h0M190.9 376.9h0M199.3 385.3h0M194.6 386.9h0M199.1 389.1h0M191.0 373.6h0M193.6 380.7h0M194.0 382.4h0M199.4 387.3h0M198.0 381.0h0M199.9 383.6h0M195.8 380.9h0M195.0 386.2h0M201.7 379.9h0M191.6 386.9h0" stroke="#555" stroke-opacity="0.4" stroke-width="0.7" stroke-linecap="round" fill="none"/>
<line x1="199" y1="389" x2="203" y2="386" stroke="#555" stroke-width="1.1" opacity="0.8"/>
<path d="M274.4 367.6h0M278.3 368.6h0M267.7 369.0h0M267.5 369.6h0M285.0 368.9h0M274.3 368.5h0M277.8 368.6h0M278.7 370.1h0M277.7 367.6h0M276.7 368.3h0M274.8 369.6h0M269.5 368.8h0M281.1 367.7h0M272.1 369.4h0M271.8 369.7h0M275.2 368.5h0M274.8 369.6h0M278.8 368.2h0M267.8 368.9h0M277.4 368.6h0M279.1 368.2h0M278.3 367.4h0M263.0 367.8h0M276.9 369.0h0M262.9 368.8h0M276.7 370.4h0M277.3 369.1h0M264.5 369.0h0M262.4 368.3h0M271.1 367.6h0M267.6 368.5h0M276.3 367.9h0M274.7 369.3h0M273.0 370.6h0M271.4 367.8h0M262.8 369.7h0M276.8 368.4h0M274.8 368.5h0M277.8 368.6h0M274.3 368.5h0M275.3 369.3h0M283.3 367.8h0M273.9 369.6h0M269.5 368.0h0M275.5 370.8h0M279.0 369.6h0M267.9 369.3h0M273.2 368.4h0M276.9 368.6h0M261.8 368.0h0M276.6 369.0h0M274.2 370.0h0M264.7 369.3h0M269.1 369.2h0M267.4 369.9h0M272.5 369.9h0M274.9 369.5h0M270.9 368.8h0M271.1 369.5h0M270.0 369.8h0M272.2 369.2h0M282.7 369.8h0M277.7 368.0h0M274.1 369.0h0M265.4 369.7h0M278.1 369.2h0M276.3 369.0h0M265.5 368.1h0M277.5 368.3h0M273.2 369.0h0M273.6 368.9h0M275.7 368.6h0M267.1 368.3h0M278.3 367.9h0M275.6 368.9h0M273.0 367.8h0M269.7 369.6h0M268.9 369.0h0M273.7 368.8h0M278.3 368.5h0M271.6 367.9h0M273.3 368.7h0M268.1 370.3h0M269.0 368.5h0M266.2 368.8h0M275.0 369.7h0M278.4 368.1h0M281.8 368.5h0M281.5 370.4h0M270.9 367.5h0M276.0 370.1h0M275.2 369.7h0M276.3 369.5h0M280.3 368.3h0M265.4 368.5h0M272.2 369.3h0M277.4 367.7h0M271.0 370.0h0M279.2 369.0h0M276.1 369.0h0M265.5 368.8h0M275.6 368.5h0M277.4 369.5h0M273.4 368.3h0M266.7 369.8h0M270.0 368.9h0M281.4 369.4h0M266.2 368.5h0M268.7 369.2h0M274.9 368.4h0M268.9 368.4h0M277.4 368.3h0M272.2 368.9h0M276.0 368.8h0M272.7 368.9h0M262.3 368.6h0M277.6 368.5h0M271.2 369.4h0M268.1 367.9h0M277.5 369.5h0M284.0 368.1h0M266.6 368.7h0M271.8 367.9h0M267.6 367.9h0M271.1 369.8h0M276.5 370.0h0M277.5 369.4h0M279.4 369.1h0M281.4 369.8h0M282.9 368.8h0M268.9 371.2h0M271.5 369.1h0M271.0 367.9h0M275.4 367.4h0M272.2 370.1h0M273.7 369.5h0M276.5 369.0h0M273.6 369.2h0M267.8 369.2h0M267.2 367.8h0" stroke="#333" stroke-opacity="0.45" stroke-width="0.9" stroke-linecap="round" fill="none"/>
<path d="M262.3 371.2h0M265.5 384.4h0M270.6 381.2h0M266.2 375.1h0M266.1 372.5h0M269.9 373.7h0M262.8 384.9h0M261.2 381.3h0M266.9 381.0h0M266.8 376.7h0M268.5 375.6h0M261.5 380.1h0M269.0 375.4h0M264.0 377.6h0M261.3 371.4h0M265.8 384.7h0M261.8 381.5h0M265.3 382.5h0M263.5 380.3h0M264.8 373.0h0M263.6 385.2h0M262.4 388.7h0M263.3 372.8h0M263.1 371.1h0M265.8 369.5h0M264.1 378.5h0M263.1 382.8h0M264.9 376.3h0M266.4 377.0h0M266.7 388.8h0M265.1 386.1h0M260.1 383.7h0M261.7 374.9h0M261.2 380.2h0M265.9 372.4h0M262.2 367.8h0M266.6 374.6h0M265.0 374.9h0M267.2 391.5h0M262.1 376.9h0M268.6 390.4h0M264.0 384.2h0M263.2 379.0h0M264.9 369.7h0M260.9 394.1h0M266.2 383.2h0M264.2 369.4h0M262.6 369.7h0M269.8 382.4h0M266.2 381.3h0M262.9 387.8h0M266.6 384.2h0M265.7 384.9h0M263.2 382.8h0M264.2 378.4h0M265.9 394.1h0M262.7 387.9h0M261.0 378.8h0M267.0 379.5h0M265.0 372.0h0M260.6 391.0h0M264.5 379.4h0M259.9 373.2h0M261.0 379.7h0M263.7 376.0h0M262.0 380.7h0M267.5 370.8h0M259.8 387.4h0M264.4 392.0h0M263.8 387.1h0M264.4 374.7h0M266.4 389.8h0M263.4 385.4h0M260.9 389.7h0M262.1 374.7h0M261.7 368.3h0M266.0 393.2h0M265.3 376.3h0M267.0 380.7h0M260.8 378.0h0M267.6 387.3h0M263.7 382.9h0M262.5 380.9h0M262.2 381.1h0M262.5 381.3h0M266.1 379.9h0M260.2 383.3h0M263.3 376.7h0M265.7 374.5h0M266.8 383.7h0M262.0 375.4h0M263.6 374.0h0M264.4 377.7h0M260.8 384.2h0M262.6 383.0h0M262.7 378.1h0M265.5 386.3h0M267.0 379.9h0M268.4 377.8h0M260.0 367.7h0M264.1 379.8h0M264.7 379.3h0M263.3 377.9h0M264.1 372.6h0M267.8 390.2h0M261.1 386.0h0M261.8 386.7h0M264.3 386.3h0M265.8 383.5h0M263.2 390.5h0M265.1 383.2h0M268.2 378.3h0M269.2 387.2h0M264.2 370.4h0M267.6 378.0h0M264.3 380.8h0M266.8 384.2h0M265.0 381.2h0M266.4 383.8h0M268.8 375.2h0M267.9 382.5h0M264.9 384.5h0M263.0 384.7h0M263.4 384.8h0M261.8 387.8h0M263.9 381.6h0M261.7 377.4h0M264.8 387.0h0M267.8 376.9h0M263.8 377.9h0M267.3 371.1h0M272.4 386.5h0M269.1 381.2h0M268.7 376.2h0M267.8 385.0h0M266.3 385.0h0M265.7 384.3h0M267.5 382.8h0M265.9 382.9h0M264.4 374.3h0M260.4 370.2h0M266.1 377.8h0M266.3 376.9h0M265.1 378.7h0M264.9 393.8h0M268.7 388.5h0M264.9 391.8h0M266.5 385.9h0M260.6 376.0h0M264.5 378.6h0" stroke="#444" stroke-opacity="0.4" stroke-width="0.8" stroke-linecap="round" fill="none"/>
<path d="M267.3 377.3h0M274.0 370.9h0M271.2 390.0h0M270.9 378.0h0M280.1 379.3h0M280.8 380.2h0M279.5 387.0h0M281.9 379.3h0M264.3 379.3h0M275.1 373.4h0M277.3 377.0h0M277.1 379.3h0M266.1 385.0h0M284.9 384.2h0M274.1 377.8h0M274.9 384.5h0M276.6 393.2h0M260.0 380.4h0M271.9 387.5h0M271.9 371.6h0M271.7 380.9h0M267.4 372.8h0M273.8 383.9h0M270.6 381.3h0M268.9 375.8h0M273.3 384.5h0M282.2 377.2h0M274.9 391.1h0M277.4 375.6h0M274.7 368.6h0M267.5 369.1h0M278.6 375.0h0M272.6 378.5h0M270.8 370.2h0M271.9 382.7h0M270.8 377.4h0M274.1 379.6h0M269.9 385.2h0M275.3 388.1h0M261.6 374.6h0M268.5 386.4h0M274.2 373.3h0M271.4 378.8h0M269.4 376.0h0M268.1 379.5h0M282.2 387.7h0M264.2 393.5h0M271.3 368.7h0M262.6 379.0h0M273.6 373.8h0M267.0 376.6h0M273.8 382.5h0M268.3 379.8h0M274.5 383.4h0M262.7 388.5h0M264.5 376.7h0M269.2 374.9h0M267.2 383.5h0M277.1 380.4h0M264.0 373.9h0M271.7 380.7h0M268.6 376.3h0M288.7 378.5h0M267.4 388.9h0M277.5 370.1h0M277.1 379.2h0M267.1 383.3h0M268.3 376.0h0M272.2 379.5h0M269.3 380.0h0M272.1 379.3h0M274.6 373.8h0M263.5 377.6h0M279.9 380.2h0M273.5 373.1h0M264.9 369.8h0M266.3 375.6h0M262.4 377.2h0M262.2 382.4h0M268.7 379.6h0M274.5 383.2h0M269.9 377.1h0M270.6 381.7h0M267.8 377.0h0M273.0 375.7h0M265.3 387.1h0M275.3 372.0h0M284.5 372.9h0M266.6 375.6h0M275.5 388.0h0M280.7 381.7h0M272.5 382.5h0M267.2 373.4h0M275.5 379.4h0M273.6 371.3h0M273.7 368.5h0M277.9 378.1h0M268.1 374.9h0M267.7 387.2h0M272.2 379.8h0M266.1 369.3h0M273.6 375.1h0M275.3 385.1h0M271.4 381.6h0M273.2 379.6h0M268.9 379.6h0M274.9 378.6h0M269.3 368.3h0M265.4 388.5h0M278.5 380.0h0M274.0 377.1h0M276.4 384.4h0M270.6 380.1h0M278.1 367.5h0M266.2 374.2h0M264.8 375.1h0M266.8 375.4h0M275.1 370.2h0M272.7 387.2h0M273.3 369.9h0M268.3 385.8h0M270.5 373.9h0M277.0 373.3h0M265.1 382.1h0M272.2 373.7h0M275.0 385.4h0M278.9 378.7h0M275.0 381.4h0M262.8 389.1h0M268.0 374.3h0M267.0 371.6h0M279.0 378.1h0M273.2 377.7h0M265.7 377.4h0M260.7 382.4h0M264.5 381.4h0M265.1 373.7h0M277.1 382.0h0M276.1 389.2h0M270.3 374.7h0M260.4 371.2h0M275.7 372.5h0M266.7 384.4h0M275.1 378.0h0M277.8 375.8h0M271.4 387.5h0M268.4 380.9h0M276.1 377.3h0M277.6 381.5h0M265.7 380.0h0M279.4 387.6h0M272.2 373.1h0M269.0 381.9h0M271.7 368.2h0M271.5 378.4h0M267.5 387.8h0M274.9 385.4h0M272.8 371.6h0M278.9 385.4h0M268.5 369.2h0M277.2 374.3h0M264.9 377.5h0M275.6 373.1h0M272.4 384.7h0M276.8 367.7h0M276.6 389.9h0M277.9 377.5h0M274.4 367.6h0M268.5 374.6h0M285.1 378.1h0M266.1 389.4h0M283.7 371.0h0M265.6 392.2h0M275.5 380.4h0M277.5 371.5h0M277.6 376.2h0M275.4 379.6h0M280.8 369.5h0M263.5 382.4h0M286.9 381.7h0M271.1 382.6h0M264.6 378.7h0M261.7 378.9h0M276.6 389.4h0M269.0 384.3h0M280.5 371.1h0M266.7 381.0h0M276.6 387.7h0M265.8 382.0h0M272.0 382.8h0M270.3 382.5h0M266.1 371.5h0M279.8 376.4h0M266.0 372.3h0M266.1 378.9h0M269.9 383.9h0M265.0 377.6h0M262.8 375.0h0M280.6 377.3h0M277.7 377.7h0M265.3 372.2h0M265.1 380.4h0M282.5 383.8h0M266.1 378.8h0M266.5 393.8h0M267.6 385.9h0M263.7 383.2h0M264.5 375.0h0M273.2 379.0h0M271.8 377.6h0M266.8 377.3h0M271.7 371.8h0M275.6 379.2h0M267.4 386.8h0M280.0 375.5h0M281.2 381.0h0M266.6 385.6h0M275.0 384.3h0M272.4 388.5h0M277.9 375.8h0" stroke="#666" stroke-opacity="0.4" stroke-width="0.7" stroke-linecap="round" fill="none"/>
<text x="7.9" y="344.7" font-size="7.9" font-weight="bold" fill="#111" stroke="#111" stroke-width="0.3" transform="rotate(-90 7.9 344.7)"><tspan textLength="21.5" lengthAdjust="spacingAndGlyphs">20% O</tspan><tspan font-size="5.2" dy="2.2">2</tspan></text>
<text x="7.5" y="405.7" font-size="7.9" font-weight="bold" fill="#111" stroke="#111" stroke-width="0.3" transform="rotate(-90 7.5 405.7)"><tspan textLength="18.0" lengthAdjust="spacingAndGlyphs">2% O</tspan><tspan font-size="5.2" dy="2.2">2</tspan></text>
<path d="M20.1 429V416.5M20.1 429H38.9" stroke="#8a8a8a" stroke-width="1.3" fill="none"/>
<path d="M18.6 417.5L20.1 413.5L21.6 417.5Z" fill="#111"/>
<path d="M37.9 427.5L41.9 429L37.9 430.5Z" fill="#111"/>
<text x="16.10" y="421.40" font-size="5.8" text-anchor="middle" font-weight="bold" stroke-width="0.3" fill="#222" stroke="#222" transform="rotate(-90 16.10 421.40)" textLength="14.9" lengthAdjust="spacingAndGlyphs">CD71</text>
<text x="33.10" y="437.20" font-size="5.8" text-anchor="middle" font-weight="bold" stroke-width="0.3" fill="#222" stroke="#222" textLength="19.4" lengthAdjust="spacingAndGlyphs">Ter119</text>
<text x="315.00" y="337.50" font-size="5.0" text-anchor="middle" stroke-width="0.18" fill="#222" stroke="#222" transform="rotate(-90 315.00 337.50)" textLength="81.4" lengthAdjust="spacingAndGlyphs">Kit+CD71+TER119+ Cells (x10<tspan font-size="3.3" dy="-2">6</tspan><tspan dy="2">)</tspan></text>
<text x="330.20" y="329.24" font-size="5.5" text-anchor="end" stroke-width="0.18" fill="#222" stroke="#222">0.3</text>
<text x="330.20" y="338.81" font-size="5.5" text-anchor="end" stroke-width="0.18" fill="#222" stroke="#222">0.2</text>
<text x="330.20" y="348.38" font-size="5.5" text-anchor="end" stroke-width="0.18" fill="#222" stroke="#222">0.1</text>
<text x="330.20" y="357.95" font-size="5.5" text-anchor="end" stroke-width="0.18" fill="#222" stroke="#222">0</text>
<line x1="334.00" y1="355.50" x2="509.00" y2="355.50" stroke="#d8d8d8" stroke-width="0.8"/>
<line x1="354.80" y1="353.50" x2="354.80" y2="380.00" stroke="#eeeeee" stroke-width="0.7"/>
<line x1="375.50" y1="353.50" x2="375.50" y2="380.00" stroke="#eeeeee" stroke-width="0.7"/>
<line x1="396.30" y1="353.50" x2="396.30" y2="380.00" stroke="#eeeeee" stroke-width="0.7"/>
<line x1="417.40" y1="353.50" x2="417.40" y2="380.00" stroke="#eeeeee" stroke-width="0.7"/>
<line x1="438.70" y1="353.50" x2="438.70" y2="380.00" stroke="#eeeeee" stroke-width="0.7"/>
<line x1="460.00" y1="353.50" x2="460.00" y2="380.00" stroke="#eeeeee" stroke-width="0.7"/>
<line x1="481.20" y1="353.50" x2="481.20" y2="380.00" stroke="#eeeeee" stroke-width="0.7"/>
<line x1="502.40" y1="353.50" x2="502.40" y2="380.00" stroke="#eeeeee" stroke-width="0.7"/>
<text x="344.40" y="364.60" font-size="6.0" text-anchor="middle" stroke-width="0.18" fill="#222" stroke="#222">Epo</text>
<text x="365.10" y="364.60" font-size="6.0" text-anchor="middle" stroke-width="0.18" fill="#222" stroke="#222">Epo+</text>
<text x="365.10" y="371.80" font-size="6.0" text-anchor="middle" stroke-width="0.18" fill="#222" stroke="#222">SCF</text>
<text x="386.00" y="364.60" font-size="6.0" text-anchor="middle" stroke-width="0.18" fill="#222" stroke="#222">Epo+</text>
<text x="386.00" y="371.80" font-size="6.0" text-anchor="middle" stroke-width="0.18" fill="#222" stroke="#222">BMP4</text>
<text x="407.30" y="364.60" font-size="6.0" text-anchor="middle" stroke-width="0.18" fill="#222" stroke="#222">Epo+</text>
<text x="407.30" y="371.80" font-size="6.0" text-anchor="middle" stroke-width="0.18" fill="#222" stroke="#222">SCF+</text>
<text x="407.30" y="379.00" font-size="6.0" text-anchor="middle" stroke-width="0.18" fill="#222" stroke="#222">BMP4</text>
<text x="428.70" y="364.60" font-size="6.0" text-anchor="middle" stroke-width="0.18" fill="#222" stroke="#222">Epo</text>
<text x="449.60" y="364.60" font-size="6.0" text-anchor="middle" stroke-width="0.18" fill="#222" stroke="#222">Epo+</text>
<text x="449.60" y="371.80" font-size="6.0" text-anchor="middle" stroke-width="0.18" fill="#222" stroke="#222">SCF</text>
<text x="470.80" y="364.60" font-size="6.0" text-anchor="middle" stroke-width="0.18" fill="#222" stroke="#222">Epo+</text>
<text x="470.80" y="371.80" font-size="6.0" text-anchor="middle" stroke-width="0.18" fill="#222" stroke="#222">BMP4</text>
<text x="491.60" y="364.60" font-size="6.0" text-anchor="middle" stroke-width="0.18" fill="#222" stroke="#222">Epo+</text>
<text x="491.60" y="371.80" font-size="6.0" text-anchor="middle" stroke-width="0.18" fill="#222" stroke="#222">SCF+</text>
<text x="491.60" y="379.00" font-size="6.0" text-anchor="middle" stroke-width="0.18" fill="#222" stroke="#222">BMP4</text>
<rect x="339.2" y="353.8" width="10" height="1.6" fill="#777"/>
<rect x="360.8" y="353.4" width="9.2" height="2.2" fill="#fff" stroke="#666" stroke-width="0.7"/>
<rect x="381.6" y="353.4" width="9.2" height="2.2" fill="#fff" stroke="#666" stroke-width="0.7"/>
<rect x="402.9" y="353.4" width="9.2" height="2.2" fill="#fff" stroke="#666" stroke-width="0.7"/>
<rect x="424.3" y="342.3" width="8.6" height="13.2" fill="#000"/>
<path d="M427.3 340.4H429.90000000000003M428.6 340.4V342.3M427.3 342.3H429.90000000000003" stroke="#000" stroke-width="0.7" fill="none"/>
<rect x="445.3" y="335.3" width="8.7" height="20.2" fill="#000"/>
<path d="M448.34999999999997 333.4H450.95M449.65 333.4V335.3M448.34999999999997 335.3H450.95" stroke="#000" stroke-width="0.7" fill="none"/>
<rect x="466.5" y="343.9" width="8.6" height="11.6" fill="#000"/>
<path d="M469.5 342.4H472.1M470.8 342.4V343.9M469.5 343.9H472.1" stroke="#000" stroke-width="0.7" fill="none"/>
<rect x="487.2" y="324.5" width="8.8" height="31.0" fill="#000"/>
<path d="M490.3 322.3H492.90000000000003M491.6 322.3V324.5M490.3 324.5H492.90000000000003" stroke="#000" stroke-width="0.7" fill="none"/>
<text x="375.95" y="390.30" font-size="7.5" text-anchor="middle" stroke-width="0.18" fill="#222" stroke="#222" textLength="42.3" lengthAdjust="spacingAndGlyphs">20% Oxygen</text>
<text x="460.65" y="390.30" font-size="7.5" text-anchor="middle" stroke-width="0.18" fill="#222" stroke="#222" textLength="38.1" lengthAdjust="spacingAndGlyphs">2% Oxygen</text>
<path d="M343.80 321.75L343.80 323.65M342.98 322.22L344.62 323.18M344.62 322.22L342.98 323.18" stroke="#222" stroke-width="0.7" fill="none"/>
<text x="351.80" y="325.70" font-size="5.6" text-anchor="start" stroke-width="0.18" fill="#222" stroke="#222" textLength="16.6" lengthAdjust="spacingAndGlyphs"><tspan font-style="italic">P</tspan>&lt;.05</text>
<path d="M343.80 328.85L343.80 330.75M342.98 329.32L344.62 330.28M344.62 329.32L342.98 330.28" stroke="#222" stroke-width="0.7" fill="none"/>
<path d="M346.10 328.85L346.10 330.75M345.28 329.32L346.92 330.28M346.92 329.32L345.28 330.28" stroke="#222" stroke-width="0.7" fill="none"/>
<text x="351.20" y="333.20" font-size="5.6" text-anchor="start" stroke-width="0.18" fill="#222" stroke="#222" textLength="15.6" lengthAdjust="spacingAndGlyphs"><tspan font-style="italic">P</tspan>&lt;.01</text>
<path d="M343.80 336.55L343.80 338.45M342.98 337.02L344.62 337.98M344.62 337.02L342.98 337.98" stroke="#222" stroke-width="0.7" fill="none"/>
<path d="M346.10 336.55L346.10 338.45M345.28 337.02L346.92 337.98M346.92 337.02L345.28 337.98" stroke="#222" stroke-width="0.7" fill="none"/>
<path d="M348.40 336.55L348.40 338.45M347.58 337.02L349.22 337.98M349.22 337.02L347.58 337.98" stroke="#222" stroke-width="0.7" fill="none"/>
<text x="351.80" y="340.50" font-size="5.6" text-anchor="start" stroke-width="0.18" fill="#222" stroke="#222" textLength="19.9" lengthAdjust="spacingAndGlyphs"><tspan font-style="italic">P</tspan>&lt;.005</text>
<path d="M429.4 314.40000000000003V310.8H435.5" stroke="#555" stroke-width="0.75" stroke-dasharray="1.5 0.9" fill="none"/>
<line x1="444.10" y1="310.80" x2="491.30" y2="310.80" stroke="#8a8a8a" stroke-width="1.0"/>
<path d="M437.10 310.00L437.10 311.60M436.41 310.40L437.79 311.20M437.79 310.40L436.41 311.20" stroke="#222" stroke-width="0.7" fill="none"/>
<path d="M439.40 310.00L439.40 311.60M438.71 310.40L440.09 311.20M440.09 310.40L438.71 311.20" stroke="#222" stroke-width="0.7" fill="none"/>
<path d="M441.70 310.00L441.70 311.60M441.01 310.40L442.39 311.20M442.39 310.40L441.01 311.20" stroke="#222" stroke-width="0.7" fill="none"/>
<path d="M449.6 317.8V314.2H454.8" stroke="#555" stroke-width="0.75" stroke-dasharray="1.5 0.9" fill="none"/>
<line x1="461.20" y1="314.20" x2="491.30" y2="314.20" stroke="#666" stroke-width="0.8" stroke-dasharray="1.4 0.6"/>
<path d="M456.40 313.40L456.40 315.00M455.71 313.80L457.09 314.60M457.09 313.80L455.71 314.60" stroke="#222" stroke-width="0.7" fill="none"/>
<path d="M458.70 313.40L458.70 315.00M458.01 313.80L459.39 314.60M459.39 313.80L458.01 314.60" stroke="#222" stroke-width="0.7" fill="none"/>
<path d="M470.4 321.2V317.8H474.4" stroke="#555" stroke-width="0.75" stroke-dasharray="1.5 0.9" fill="none"/>
<line x1="483.00" y1="317.80" x2="491.30" y2="317.80" stroke="#666" stroke-width="0.8" stroke-dasharray="1.4 0.6"/>
<path d="M476.00 317.00L476.00 318.60M475.31 317.40L476.69 318.20M476.69 317.40L475.31 318.20" stroke="#222" stroke-width="0.7" fill="none"/>
<path d="M478.30 317.00L478.30 318.60M477.61 317.40L478.99 318.20M478.99 317.40L477.61 318.20" stroke="#222" stroke-width="0.7" fill="none"/>
<path d="M480.60 317.00L480.60 318.60M479.91 317.40L481.29 318.20M481.29 317.40L479.91 318.20" stroke="#222" stroke-width="0.7" fill="none"/>
<line x1="491.30" y1="310.80" x2="491.30" y2="319.80" stroke="#777" stroke-width="0.8"/>
<path d="M449.6 329.9V325.5H455.6M464.2 325.5H470.4V329.9" stroke="#555" stroke-width="0.75" stroke-dasharray="1.5 0.9" fill="none"/>
<path d="M457.70 324.70L457.70 326.30M457.01 325.10L458.39 325.90M458.39 325.10L457.01 325.90" stroke="#222" stroke-width="0.7" fill="none"/>
<path d="M460.00 324.70L460.00 326.30M459.31 325.10L460.69 325.90M460.69 325.10L459.31 325.90" stroke="#222" stroke-width="0.7" fill="none"/>
<path d="M462.30 324.70L462.30 326.30M461.61 325.10L462.99 325.90M462.99 325.10L461.61 325.90" stroke="#222" stroke-width="0.7" fill="none"/>
<defs><filter id="f1_0" x="-100%" y="-100%" width="300%" height="300%"><feGaussianBlur stdDeviation="1.0"/></filter><filter id="f0_9" x="-100%" y="-100%" width="300%" height="300%"><feGaussianBlur stdDeviation="0.9"/></filter><filter id="f0_8" x="-100%" y="-100%" width="300%" height="300%"><feGaussianBlur stdDeviation="0.8"/></filter><filter id="f0_45" x="-100%" y="-100%" width="300%" height="300%"><feGaussianBlur stdDeviation="0.45"/></filter><filter id="f0_7" x="-100%" y="-100%" width="300%" height="300%"><feGaussianBlur stdDeviation="0.7"/></filter><filter id="f1_5" x="-100%" y="-100%" width="300%" height="300%"><feGaussianBlur stdDeviation="1.5"/></filter><filter id="f0_5" x="-100%" y="-100%" width="300%" height="300%"><feGaussianBlur stdDeviation="0.5"/></filter><clipPath id="c0"><rect x="18" y="60" width="66" height="24.900000000000006"/></clipPath></defs>
</svg></body></html>
